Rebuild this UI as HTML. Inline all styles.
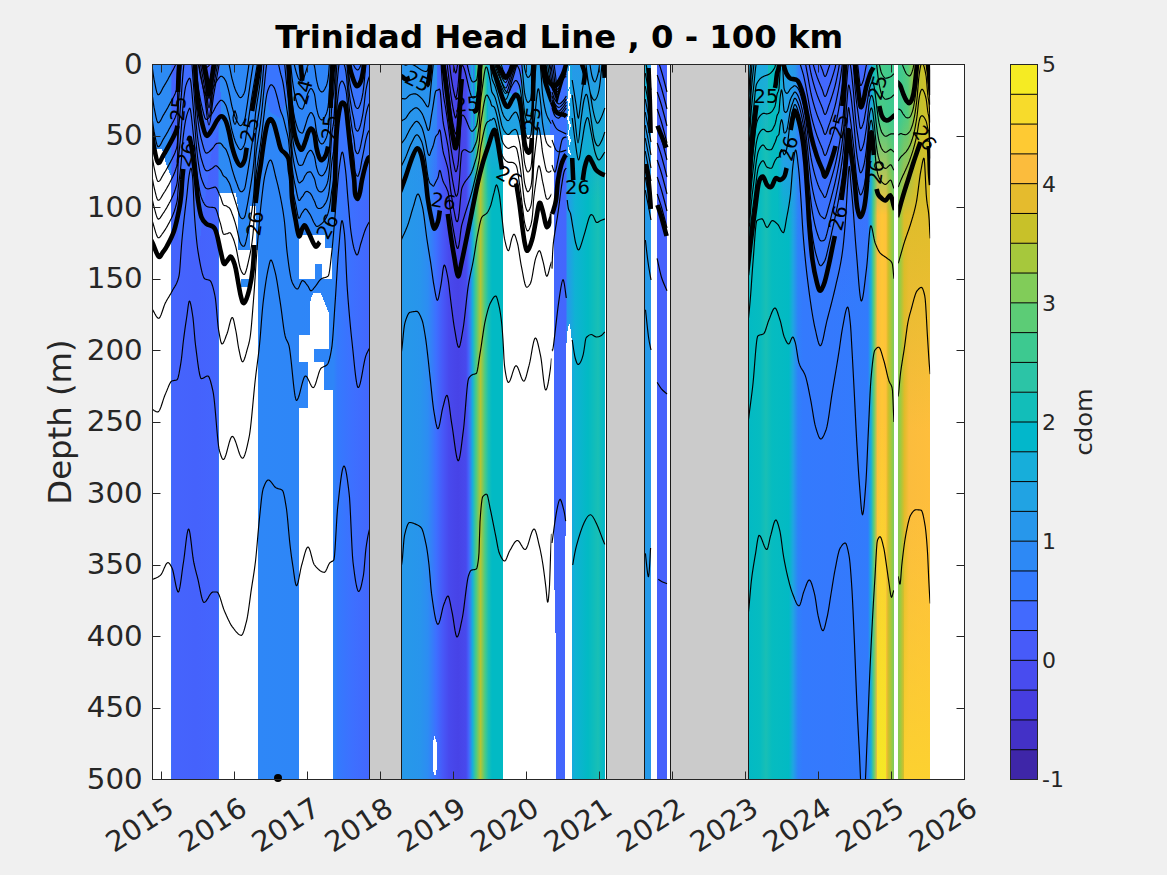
<!DOCTYPE html>
<html lang="en"><head><meta charset="utf-8"><title>Trinidad Head Line , 0 - 100 km</title>
<style>html,body{margin:0;padding:0;background:#f0f0f0;overflow:hidden}svg{display:block}text{font-family:"DejaVu Sans","Liberation Sans",sans-serif;fill:#262626}.tk{font-size:28.2px}.cb{font-size:21.33px}.ttl{font-size:31.4px;font-weight:bold;fill:#000}.lb{font-size:31.4px}.cl{font-size:23.47px}.ct{font-size:19.5px;fill:#000}</style></head><body>
<svg width="1167" height="875" viewBox="0 0 1167 875">
<rect x="0" y="0" width="1167" height="875" fill="#f0f0f0"/>
<rect x="152.5" y="64.5" width="812.0" height="715.0" fill="#fff"/>
<defs><linearGradient id="g1" gradientUnits="userSpaceOnUse" x1="152.5" y1="0" x2="369.5" y2="0"><stop offset="0.0000" stop-color="#2d8bf4"/><stop offset="0.0829" stop-color="#2d8bf4"/><stop offset="0.0899" stop-color="#4564fd"/><stop offset="0.2005" stop-color="#4562fc"/><stop offset="0.3018" stop-color="#4465fd"/><stop offset="0.3065" stop-color="#2d8bf4"/><stop offset="0.4862" stop-color="#2e87f7"/><stop offset="0.6705" stop-color="#2e86f7"/><stop offset="0.8341" stop-color="#2e85f8"/><stop offset="0.8525" stop-color="#347afd"/><stop offset="0.9194" stop-color="#3d70ff"/><stop offset="1.0000" stop-color="#4367fd"/></linearGradient><linearGradient id="g2" gradientUnits="userSpaceOnUse" x1="401" y1="0" x2="605" y2="0"><stop offset="0.0000" stop-color="#2699e9"/><stop offset="0.0931" stop-color="#2895ec"/><stop offset="0.1324" stop-color="#2d8cf3"/><stop offset="0.1716" stop-color="#3d70ff"/><stop offset="0.2059" stop-color="#4758f8"/><stop offset="0.2353" stop-color="#4849ed"/><stop offset="0.2794" stop-color="#4743e7"/><stop offset="0.3186" stop-color="#4849ed"/><stop offset="0.3333" stop-color="#4367fd"/><stop offset="0.3505" stop-color="#17aeda"/><stop offset="0.3676" stop-color="#48cb86"/><stop offset="0.3897" stop-color="#b4c533"/><stop offset="0.4118" stop-color="#48cb86"/><stop offset="0.4289" stop-color="#19bfb5"/><stop offset="0.4461" stop-color="#02bac4"/><stop offset="0.5000" stop-color="#02bac4"/><stop offset="0.7500" stop-color="#4367fd"/><stop offset="0.8088" stop-color="#4466fd"/><stop offset="0.8137" stop-color="#2797eb"/><stop offset="0.8529" stop-color="#0fb2d4"/><stop offset="0.9167" stop-color="#02bac4"/><stop offset="0.9657" stop-color="#19bfb5"/><stop offset="1.0000" stop-color="#02b7cb"/></linearGradient><linearGradient id="g3" gradientUnits="userSpaceOnUse" x1="0" y1="64.5" x2="0" y2="190"><stop offset="0" stop-color="#2994ed" stop-opacity="1.0"/><stop offset="1" stop-color="#2994ed" stop-opacity="0.0"/></linearGradient><linearGradient id="g4" gradientUnits="userSpaceOnUse" x1="486.5" y1="0" x2="554" y2="0"><stop offset="0.0000" stop-color="#0fb2d4"/><stop offset="0.0519" stop-color="#1fa5e2"/><stop offset="0.4963" stop-color="#23a1e5"/><stop offset="1.0000" stop-color="#2699e9"/></linearGradient><linearGradient id="m5g" gradientUnits="userSpaceOnUse" x1="0" y1="64.5" x2="0" y2="200"><stop offset="0" stop-color="#fff"/><stop offset="0.4" stop-color="#fff"/><stop offset="1" stop-color="#000"/></linearGradient><mask id="m5" maskUnits="userSpaceOnUse" x="470" y="60" width="90" height="145"><rect x="470" y="60" width="90" height="145" fill="url(#m5g)"/></mask><linearGradient id="g6" gradientUnits="userSpaceOnUse" x1="473" y1="0" x2="487.5" y2="0"><stop offset="0.0000" stop-color="#4367fd"/><stop offset="0.1724" stop-color="#06bcc0"/><stop offset="0.3448" stop-color="#81cc59"/><stop offset="0.5379" stop-color="#c8c129"/><stop offset="0.7241" stop-color="#71cd64"/><stop offset="0.8966" stop-color="#29c3aa"/><stop offset="1.0000" stop-color="#05b6ce"/></linearGradient><linearGradient id="g7" gradientUnits="userSpaceOnUse" x1="0" y1="64.5" x2="0" y2="200"><stop offset="0" stop-color="#2699e9" stop-opacity="1.0"/><stop offset="1" stop-color="#2699e9" stop-opacity="0.0"/></linearGradient><linearGradient id="g8" gradientUnits="userSpaceOnUse" x1="748" y1="0" x2="894" y2="0"><stop offset="0.0000" stop-color="#02bac4"/><stop offset="0.0822" stop-color="#06bcc0"/><stop offset="0.1233" stop-color="#19bfb5"/><stop offset="0.1644" stop-color="#06bcc0"/><stop offset="0.2808" stop-color="#02bac4"/><stop offset="0.3082" stop-color="#1fa5e2"/><stop offset="0.3425" stop-color="#2f81fa"/><stop offset="0.3767" stop-color="#347afd"/><stop offset="0.5616" stop-color="#3579fd"/><stop offset="0.8219" stop-color="#327bfc"/><stop offset="0.8425" stop-color="#17aeda"/><stop offset="0.8630" stop-color="#62cd70"/><stop offset="0.8870" stop-color="#fbbc3d"/><stop offset="0.9178" stop-color="#fec735"/><stop offset="0.9452" stop-color="#fec13a"/><stop offset="0.9589" stop-color="#d4be28"/><stop offset="0.9795" stop-color="#a6c83c"/><stop offset="1.0000" stop-color="#79cc5e"/></linearGradient><linearGradient id="g9" gradientUnits="userSpaceOnUse" x1="898" y1="0" x2="930" y2="0"><stop offset="0.0000" stop-color="#81cc59"/><stop offset="0.0938" stop-color="#a6c83c"/><stop offset="0.2031" stop-color="#e0bc2a"/><stop offset="0.3438" stop-color="#fbbc3d"/><stop offset="1.0000" stop-color="#febe3c"/></linearGradient><linearGradient id="g10" gradientUnits="userSpaceOnUse" x1="0" y1="420" x2="0" y2="779.5"><stop offset="0" stop-color="#f5e825" stop-opacity="0.0"/><stop offset="1" stop-color="#f5e825" stop-opacity="1.0"/></linearGradient><linearGradient id="g11" gradientUnits="userSpaceOnUse" x1="0" y1="500" x2="0" y2="779.5"><stop offset="0" stop-color="#fcd130" stop-opacity="0.0"/><stop offset="1" stop-color="#fcd130" stop-opacity="1.0"/></linearGradient><linearGradient id="g12" gradientUnits="userSpaceOnUse" x1="0" y1="180" x2="0" y2="430"><stop offset="0" stop-color="#dabd28" stop-opacity="1.0"/><stop offset="1" stop-color="#dabd28" stop-opacity="0.0"/></linearGradient><linearGradient id="g13" gradientUnits="userSpaceOnUse" x1="870" y1="0" x2="894" y2="0"><stop offset="0.0000" stop-color="#2797eb"/><stop offset="0.1667" stop-color="#12beb9"/><stop offset="0.4167" stop-color="#48cb86"/><stop offset="1.0000" stop-color="#3dc990"/></linearGradient><linearGradient id="m14g" gradientUnits="userSpaceOnUse" x1="0" y1="64.5" x2="0" y2="215"><stop offset="0" stop-color="#fff"/><stop offset="0.35" stop-color="#fff"/><stop offset="1" stop-color="#000"/></linearGradient><mask id="m14" maskUnits="userSpaceOnUse" x="860" y="60" width="80" height="170"><rect x="860" y="60" width="80" height="170" fill="url(#m14g)"/></mask><linearGradient id="g15" gradientUnits="userSpaceOnUse" x1="898" y1="0" x2="930" y2="0"><stop offset="0.0000" stop-color="#39c895"/><stop offset="0.3125" stop-color="#55cc7c"/><stop offset="0.5625" stop-color="#bbc42f"/><stop offset="1.0000" stop-color="#d4be28"/></linearGradient><linearGradient id="g16" gradientUnits="userSpaceOnUse" x1="0" y1="90" x2="0" y2="300"><stop offset="0" stop-color="#4368fe" stop-opacity="1.0"/><stop offset="1" stop-color="#4368fe" stop-opacity="0.0"/></linearGradient><linearGradient id="g17" gradientUnits="userSpaceOnUse" x1="0" y1="64.5" x2="0" y2="140"><stop offset="0" stop-color="#1ea8e0" stop-opacity="1.0"/><stop offset="1" stop-color="#1ea8e0" stop-opacity="0.0"/></linearGradient><linearGradient id="g18" gradientUnits="userSpaceOnUse" x1="778" y1="0" x2="806" y2="0"><stop offset="0.0000" stop-color="#02bac4"/><stop offset="0.1786" stop-color="#21a3e3"/><stop offset="0.6071" stop-color="#2797eb"/><stop offset="0.7857" stop-color="#3777fe"/><stop offset="1.0000" stop-color="#4368fe"/></linearGradient><linearGradient id="m19g" gradientUnits="userSpaceOnUse" x1="0" y1="64.5" x2="0" y2="240"><stop offset="0" stop-color="#fff"/><stop offset="0.55" stop-color="#fff"/><stop offset="1" stop-color="#000"/></linearGradient><mask id="m19" maskUnits="userSpaceOnUse" x="770" y="60" width="45" height="185"><rect x="770" y="60" width="45" height="185" fill="url(#m19g)"/></mask></defs><g shape-rendering="crispEdges"><rect x="152.5" y="64.5" width="217.0" height="715.0" fill="url(#g1)"/><polygon points="176.0,64.5 220.0,64.5 221.0,120.0 212.0,150.0 205.0,200.0 200.0,240.0 178.0,240.0 180.0,170.0 179.0,120.0" fill="#406dfe"/><polygon points="198.0,64.5 215.0,64.5 214.0,100.0 208.0,128.0 203.0,100.0" fill="#465efb"/><polygon points="262.0,64.5 288.0,64.5 287.0,100.0 280.0,118.0 270.0,112.0 264.0,90.0" fill="#3975fe"/><polygon points="333.0,64.5 369.5,64.5 369.5,200.0 333.0,200.0 331.0,140.0" fill="#3a74fe"/><polygon points="152.5,149.0 162.0,149.0 166.0,164.0 171.2,177.0 171.2,779.5 152.5,779.5" fill="#fff"/><polygon points="219.2,193.0 236.0,193.0 238.3,210.0 238.3,250.0 249.5,250.0 249.5,206.0 256.0,206.0 256.5,250.0 258.0,250.0 258.0,779.5 218.6,779.5 218.6,560.0 219.4,400.0" fill="#fff"/><rect x="240.8" y="278.8" width="7.7" height="8.6" fill="#2d8bf4"/><rect x="298.7" y="235.3" width="26.3" height="12.7" fill="#fff"/><rect x="298.7" y="248.0" width="33.3" height="30.8" fill="#fff"/><rect x="311.3" y="292.5" width="11.5" height="7.5" fill="#fff"/><rect x="310.0" y="300.0" width="18.5" height="35.0" fill="#fff"/><rect x="298.7" y="335.0" width="29.8" height="13.6" fill="#fff"/><rect x="298.7" y="348.6" width="14.9" height="13.4" fill="#fff"/><rect x="308.0" y="362.0" width="16.0" height="28.0" fill="#fff"/><rect x="308.0" y="390.0" width="24.5" height="18.0" fill="#fff"/><rect x="298.7" y="408.0" width="34.3" height="371.5" fill="#fff"/><rect x="314.7" y="264.0" width="6.9" height="14.8" fill="#2e86f7"/><polygon points="298.7,235.3 302.0,235.3 298.7,240.0" fill="#2e86f7"/><polygon points="311.3,292.5 313.5,292.5 310.0,300.0 310.0,306.0" fill="#2e86f7"/><polygon points="322.8,292.5 320.5,292.5 328.5,312.0 328.5,300.0 322.8,300.0" fill="#2e86f7"/><rect x="401.0" y="64.5" width="204.0" height="715.0" fill="url(#g2)"/><rect x="401.0" y="64.5" width="36.0" height="125.5" fill="url(#g3)"/><g mask="url(#m5)"><rect x="486.5" y="64.5" width="67.5" height="135.5" fill="url(#g4)"/><rect x="473.0" y="64.5" width="14.5" height="135.5" fill="url(#g6)"/></g><polygon points="503.0,64.5 522.0,64.5 521.0,85.0 514.0,96.0 506.0,90.0" fill="#426afe"/><rect x="572.0" y="64.5" width="33.0" height="135.5" fill="url(#g7)"/><polygon points="550.0,64.5 567.0,64.5 567.0,160.0 554.0,160.0 550.0,135.0" fill="#3d70ff"/><polygon points="503.2,135.4 554.0,135.4 554.0,779.5 503.2,779.5" fill="#fff"/><polygon points="566.3,345.0 567.6,330.0 569.3,323.0 571.4,333.0 572.0,360.0 572.0,779.5 565.0,779.5 565.0,600.0 566.2,450.0" fill="#fff"/><polygon points="568.2,72.0 569.6,66.0 570.2,80.0 569.4,88.0 571.0,96.0 569.2,104.0 570.6,112.0 568.8,118.0 571.0,126.0 568.6,133.0 571.2,141.0 568.4,147.0 571.4,156.0 567.6,152.0 569.4,143.0 567.4,136.0 569.2,127.0 567.2,119.0 568.6,110.0 567.4,100.0 568.6,90.0 567.6,80.0" fill="#fff"/><polygon points="553.8,560.0 555.7,640.0 555.7,779.5 553.8,779.5" fill="#fff"/><rect x="604.8" y="64.5" width="1.8" height="715.0" fill="#fff"/><polygon points="433.0,742.0 434.5,736.0 436.6,742.0 436.6,770.0 435.0,777.0 433.0,770.0" fill="#fff"/><rect x="645.2" y="64.5" width="5.8" height="715.0" fill="#2699e9"/><rect x="657.2" y="64.5" width="9.8" height="715.0" fill="#4661fc"/><rect x="645.2" y="64.5" width="2.8" height="35.5" fill="#0fb2d4"/><rect x="748.5" y="64.5" width="145.5" height="715.0" fill="url(#g8)"/><rect x="898.2" y="64.5" width="31.6" height="715.0" fill="url(#g9)"/><rect x="876.5" y="420.0" width="9.7" height="359.5" fill="url(#g10)"/><rect x="904.0" y="500.0" width="25.8" height="279.5" fill="url(#g11)"/><rect x="904.0" y="64.5" width="25.8" height="115.5" fill="#dabd28"/><rect x="904.0" y="180.0" width="25.8" height="250.0" fill="url(#g12)"/><g mask="url(#m14)"><rect x="870.0" y="64.5" width="24.0" height="150.5" fill="url(#g13)"/><rect x="898.2" y="64.5" width="31.6" height="150.5" fill="url(#g15)"/></g><rect x="806.0" y="64.5" width="62.0" height="25.5" fill="#4368fe"/><rect x="806.0" y="90.0" width="62.0" height="210.0" fill="url(#g16)"/><rect x="748.5" y="64.5" width="19.5" height="75.5" fill="url(#g17)"/><g mask="url(#m19)"><rect x="778.0" y="64.5" width="28.0" height="175.5" fill="url(#g18)"/></g></g><clipPath id="cs1"><rect x="152.5" y="64.5" width="217.0" height="715.0"/></clipPath><g clip-path="url(#cs1)"><path d="M152.5 158.1L153.0 161.3L153.5 164.4L154.0 167.1L154.5 169.3L155.0 171.7L155.5 174.0L156.0 176.1L156.5 178.1L157.0 179.7L157.5 180.8L158.0 181.5L158.5 181.5L159.0 181.3L159.5 180.9L160.0 180.3L160.5 179.6L161.0 178.7L161.5 177.8L162.0 176.9L162.5 176.0L163.0 175.1L163.5 174.2L164.0 173.4L164.5 172.6L165.0 171.8L165.5 171.0L166.0 170.1L166.5 169.3L167.0 168.4L167.5 167.5L168.0 166.6L168.5 165.7L169.0 164.7L169.5 163.8L170.0 162.9L170.5 161.9L171.0 160.9L171.5 160.0L172.0 159.1L172.5 158.1L173.0 157.1L173.5 156.1L174.0 155.1L174.5 153.9L175.0 152.7L175.5 151.3L176.0 149.9L176.5 148.5L177.0 146.7L177.5 142.1L178.0 116.6L178.5 103.3L179.0 95.9L179.5 89.1L180.0 81.6L180.5 74.1L181.0 67.4L181.5 60.9L182.0 54.5L182.5 54.5L183.0 54.5L183.5 54.5L184.0 54.5L184.5 54.5L185.0 54.5L185.5 54.5L186.0 54.5L186.5 54.5L187.0 54.5L187.5 54.5L188.0 54.5L188.5 54.5L189.0 54.5L189.5 54.5L190.0 54.5L190.5 54.5L191.0 54.5L191.5 54.5L192.0 54.5L192.5 54.5L193.0 54.5L193.5 60.2L194.0 67.5L194.5 74.9L195.0 83.0L195.5 92.7L196.0 101.8L196.5 107.8L197.0 112.8L197.5 117.1L198.0 120.9L198.5 124.4L199.0 127.6L199.5 130.6L200.0 133.3L200.5 135.8L201.0 138.1L201.5 140.0L202.0 141.9L202.5 143.8L203.0 145.7L203.5 147.5L204.0 149.1L204.5 150.5L205.0 151.7L205.5 152.5L206.0 153.0L206.5 153.1L207.0 153.0L207.5 152.9L208.0 152.6L208.5 152.3L209.0 151.9L209.5 151.5L210.0 151.0L210.5 150.5L211.0 150.0L211.5 149.5L212.0 149.0L212.5 148.5L213.0 147.8L213.5 147.2L214.0 146.5L214.5 145.7L215.0 145.0L215.5 144.4L216.0 143.9L216.5 143.6L217.0 143.4L217.5 143.3L218.0 143.2L218.5 143.1L219.0 143.1L219.5 143.1L220.0 143.1L220.5 143.3L221.0 143.6L221.5 144.1L222.0 144.7L222.5 145.4L223.0 146.1L223.5 146.8L224.0 147.3L224.5 147.8L225.0 148.3L225.5 148.9L226.0 149.6L226.5 150.6L227.0 151.8L227.5 153.1L228.0 154.5L228.5 155.9L229.0 157.3L229.5 158.9L230.0 160.8L230.5 162.8L231.0 164.9L231.5 166.9L232.0 168.8L232.5 170.6L233.0 172.2L233.5 173.8L234.0 175.4L234.5 177.0L235.0 178.5L235.5 180.0L236.0 181.3L236.5 182.6L237.0 183.9L237.5 185.3L238.0 186.7L238.5 188.0L239.0 189.2L239.5 190.2L240.0 191.0L240.5 191.5L241.0 191.7L241.5 191.8L242.0 191.6L242.5 191.4L243.0 190.9L243.5 190.4L244.0 189.6L244.5 188.7L245.0 187.4L245.5 185.0L246.0 182.1L246.5 179.1L247.0 176.2L247.5 173.3L248.0 170.2L248.5 167.1L249.0 163.9L249.5 160.7L250.0 157.5L250.5 154.2L251.0 150.9L251.5 147.6L252.0 144.4L252.5 141.1L253.0 137.7L253.5 134.0L254.0 129.9L254.5 125.3L255.0 119.2L255.5 113.6L256.0 109.8L256.5 106.4L257.0 103.1L257.5 100.0L258.0 96.9L258.5 93.7L259.0 90.6L259.5 87.2L260.0 83.4L260.5 78.9L261.0 73.9L261.5 68.5L262.0 63.1L262.5 57.3L263.0 54.5L263.5 54.5L264.0 54.5L264.5 54.5L265.0 54.5L265.5 54.5L266.0 54.5L266.5 54.5L267.0 54.5L267.5 54.5L268.0 54.5L268.5 54.5L269.0 54.5L269.5 54.5L270.0 54.5L270.5 54.5L271.0 54.5L271.5 54.5L272.0 54.5L272.5 54.5L273.0 54.5L273.5 54.5L274.0 54.5L274.5 54.5L275.0 54.5L275.5 54.5L276.0 54.5L276.5 54.5L277.0 54.5L277.5 54.5L278.0 54.5L278.5 54.5L279.0 54.5L279.5 54.5L280.0 54.5L280.5 54.5L281.0 54.5L281.5 54.5L282.0 54.5L282.5 54.5L283.0 54.5L283.5 54.5L284.0 54.5L284.5 54.5L285.0 54.5L285.5 54.5L286.0 54.5L286.5 59.0L287.0 64.7L287.5 70.3L288.0 76.3L288.5 83.3L289.0 93.4L289.5 102.3L290.0 109.6L290.5 115.7L291.0 121.2L291.5 126.9L292.0 132.9L292.5 137.3L293.0 141.0L293.5 144.2L294.0 147.1L294.5 149.7L295.0 151.9L295.5 153.9L296.0 155.9L296.5 157.9L297.0 159.8L297.5 161.6L298.0 163.1L298.5 164.3L299.0 165.0L299.5 165.3L300.0 165.4L300.5 165.4L301.0 165.3L301.5 165.2L302.0 165.1L302.5 164.8L303.0 164.1L303.5 163.1L304.0 161.8L304.5 160.5L305.0 159.1L305.5 158.0L306.0 156.8L306.5 155.6L307.0 154.4L307.5 153.3L308.0 152.6L308.5 152.0L309.0 151.4L309.5 150.9L310.0 150.5L310.5 150.3L311.0 150.4L311.5 150.8L312.0 151.4L312.5 152.2L313.0 153.2L313.5 154.2L314.0 155.4L314.5 156.6L315.0 158.8L315.5 161.9L316.0 164.9L316.5 167.3L317.0 169.1L317.5 170.7L318.0 172.1L318.5 173.3L319.0 174.1L319.5 174.7L320.0 175.1L320.5 175.5L321.0 175.8L321.5 175.9L322.0 175.8L322.5 175.6L323.0 175.2L323.5 174.7L324.0 174.0L324.5 173.2L325.0 172.4L325.5 171.4L326.0 170.5L326.5 169.3L327.0 167.8L327.5 165.9L328.0 163.6L328.5 160.3L329.0 155.3L329.5 148.8L330.0 141.2L330.5 132.7L331.0 121.0L331.5 110.7L332.0 104.2L332.5 100.1L333.0 97.3L333.5 94.2L334.0 88.8L334.5 81.5L335.0 73.3L335.5 63.9L336.0 56.0L336.5 54.5L337.0 54.5L337.5 54.5L338.0 54.5L338.5 54.5L339.0 54.5L339.5 54.5L340.0 54.5L340.5 54.5L341.0 54.5L341.5 54.5L342.0 54.5L342.5 54.5L343.0 54.5L343.5 54.5L344.0 54.5L344.5 54.5L345.0 54.5L345.5 54.5L346.0 54.5L346.5 54.5L347.0 54.5L347.5 54.9L348.0 61.2L348.5 68.1L349.0 75.2L349.5 80.2L350.0 83.5L350.5 86.3L351.0 88.7L351.5 91.0L352.0 93.3L352.5 95.5L353.0 97.4L353.5 99.2L354.0 101.0L354.5 103.2L355.0 105.5L355.5 106.5L356.0 107.3L356.5 107.9L357.0 108.3L357.5 108.5L358.0 108.4L358.5 107.9L359.0 107.1L359.5 106.0L360.0 104.8L360.5 103.3L361.0 101.7L361.5 99.9L362.0 97.7L362.5 95.2L363.0 92.4L363.5 88.7L364.0 84.1L364.5 78.9L365.0 73.5L365.5 68.5L366.0 64.8L366.5 62.0L367.0 59.3L367.5 56.7L368.0 54.5L368.5 54.5L369.0 54.5L369.5 54.5M152.5 179.2L153.0 181.9L153.5 184.6L154.0 186.9L154.5 189.0L155.0 191.1L155.5 193.2L156.0 195.2L156.5 197.0L157.0 198.5L157.5 199.6L158.0 200.2L158.5 200.3L159.0 200.1L159.5 199.7L160.0 199.2L160.5 198.5L161.0 197.7L161.5 196.9L162.0 196.0L162.5 195.1L163.0 194.3L163.5 193.5L164.0 192.7L164.5 192.0L165.0 191.2L165.5 190.4L166.0 189.5L166.5 188.7L167.0 187.8L167.5 186.9L168.0 186.0L168.5 185.1L169.0 184.2L169.5 183.2L170.0 182.3L170.5 181.3L171.0 180.3L171.5 179.3L172.0 178.3L172.5 177.3L173.0 176.3L173.5 175.2L174.0 174.1L174.5 172.8L175.0 171.5L175.5 170.0L176.0 168.4L176.5 166.9L177.0 165.0L177.5 161.0L178.0 141.3L178.5 130.6L179.0 124.4L179.5 118.7L180.0 112.3L180.5 105.8L181.0 99.8L181.5 93.5L182.0 86.0L182.5 79.4L183.0 73.4L183.5 68.2L184.0 63.4L184.5 59.3L185.0 55.9L185.5 54.5L186.0 54.5L186.5 54.5L187.0 54.5L187.5 54.5L188.0 54.5L188.5 54.5L189.0 54.5L189.5 54.5L190.0 54.5L190.5 54.5L191.0 54.5L191.5 58.2L192.0 64.5L192.5 71.5L193.0 78.7L193.5 85.5L194.0 91.8L194.5 98.4L195.0 105.4L195.5 113.7L196.0 121.6L196.5 127.3L197.0 132.4L197.5 136.8L198.0 140.7L198.5 144.1L199.0 147.3L199.5 150.3L200.0 153.0L200.5 155.4L201.0 157.5L201.5 159.3L202.0 161.0L202.5 162.7L203.0 164.3L203.5 165.8L204.0 167.2L204.5 168.4L205.0 169.4L205.5 170.1L206.0 170.6L206.5 170.8L207.0 170.9L207.5 170.8L208.0 170.7L208.5 170.5L209.0 170.3L209.5 170.0L210.0 169.7L210.5 169.4L211.0 169.1L211.5 168.8L212.0 168.5L212.5 168.1L213.0 167.7L213.5 167.3L214.0 166.8L214.5 166.4L215.0 166.0L215.5 165.8L216.0 165.7L216.5 165.9L217.0 166.2L217.5 166.7L218.0 167.2L218.5 167.7L219.0 168.3L219.5 168.9L220.0 169.5L220.5 170.1L221.0 170.9L221.5 172.0L222.0 173.1L222.5 174.2L223.0 175.2L223.5 175.9L224.0 176.3L224.5 176.6L225.0 177.0L225.5 177.3L226.0 177.7L226.5 178.3L227.0 179.1L227.5 179.9L228.0 180.8L228.5 181.6L229.0 182.5L229.5 183.5L230.0 184.8L230.5 186.2L231.0 187.8L231.5 189.5L232.0 191.2L232.5 192.7L233.0 194.1L233.5 195.6L234.0 197.2L234.5 198.8L235.0 200.4L235.5 201.9L236.0 203.5L236.5 205.0L237.0 206.8L237.5 208.5L238.0 210.4L238.5 212.1L239.0 213.8L239.5 215.3L240.0 216.5L240.5 217.4L241.0 217.9L241.5 218.3L242.0 218.6L242.5 218.7L243.0 218.6L243.5 218.3L244.0 217.9L244.5 217.2L245.0 216.1L245.5 214.2L246.0 211.7L246.5 209.1L247.0 206.6L247.5 204.0L248.0 201.3L248.5 198.4L249.0 195.6L249.5 192.7L250.0 189.7L250.5 186.7L251.0 183.6L251.5 180.4L252.0 177.1L252.5 173.6L253.0 169.9L253.5 165.5L254.0 160.2L254.5 153.9L255.0 144.6L255.5 136.4L256.0 131.8L256.5 128.0L257.0 124.5L257.5 121.4L258.0 118.2L258.5 114.9L259.0 111.7L259.5 108.5L260.0 104.8L260.5 100.7L261.0 96.1L261.5 91.2L262.0 86.2L262.5 80.8L263.0 75.1L263.5 69.1L264.0 63.0L264.5 56.9L265.0 54.5L265.5 54.5L266.0 54.5L266.5 54.5L267.0 54.5L267.5 54.5L268.0 54.5L268.5 54.5L269.0 54.5L269.5 54.5L270.0 54.5L270.5 54.5L271.0 54.5L271.5 54.5L272.0 54.5L272.5 54.5L273.0 54.5L273.5 54.5L274.0 54.5L274.5 54.5L275.0 54.5L275.5 54.5L276.0 54.5L276.5 54.5L277.0 54.5L277.5 54.5L278.0 54.5L278.5 54.5L279.0 54.5L279.5 54.5L280.0 54.5L280.5 54.5L281.0 54.5L281.5 54.5L282.0 54.5L282.5 54.5L283.0 54.5L283.5 54.5L284.0 57.4L284.5 62.4L285.0 67.7L285.5 73.0L286.0 78.1L286.5 83.0L287.0 87.4L287.5 91.8L288.0 96.6L288.5 102.2L289.0 110.5L289.5 118.4L290.0 125.0L290.5 130.4L291.0 135.4L291.5 141.5L292.0 148.9L292.5 153.7L293.0 157.4L293.5 160.7L294.0 163.5L294.5 166.0L295.0 168.3L295.5 170.4L296.0 172.5L296.5 174.7L297.0 177.0L297.5 179.0L298.0 180.7L298.5 182.0L299.0 182.8L299.5 182.9L300.0 182.7L300.5 182.3L301.0 181.9L301.5 181.4L302.0 181.1L302.5 180.7L303.0 180.0L303.5 179.0L304.0 177.9L304.5 176.8L305.0 175.8L305.5 175.0L306.0 174.3L306.5 173.5L307.0 172.9L307.5 172.4L308.0 172.2L308.5 172.1L309.0 171.9L309.5 171.8L310.0 171.8L310.5 171.9L311.0 172.3L311.5 173.0L312.0 173.8L312.5 174.7L313.0 175.7L313.5 176.7L314.0 177.8L314.5 178.9L315.0 180.7L315.5 183.0L316.0 185.2L316.5 187.0L317.0 188.2L317.5 189.3L318.0 190.2L318.5 190.9L319.0 191.3L319.5 191.6L320.0 191.7L320.5 191.9L321.0 191.9L321.5 191.9L322.0 191.7L322.5 191.4L323.0 190.9L323.5 190.4L324.0 189.7L324.5 189.0L325.0 188.1L325.5 187.3L326.0 186.3L326.5 185.2L327.0 183.9L327.5 182.2L328.0 180.2L328.5 177.4L329.0 173.4L329.5 168.2L330.0 162.1L330.5 155.3L331.0 146.1L331.5 137.9L332.0 132.5L332.5 128.9L333.0 126.2L333.5 123.1L334.0 117.3L334.5 109.2L335.0 100.0L335.5 87.7L336.0 78.4L336.5 70.1L337.0 62.8L337.5 56.3L338.0 54.5L338.5 54.5L339.0 54.5L339.5 54.5L340.0 54.5L340.5 54.5L341.0 54.5L341.5 54.5L342.0 54.5L342.5 54.5L343.0 54.5L343.5 54.5L344.0 54.5L344.5 54.5L345.0 54.5L345.5 54.5L346.0 54.7L346.5 59.5L347.0 65.3L347.5 71.4L348.0 77.3L348.5 83.7L349.0 90.3L349.5 95.2L350.0 98.9L350.5 102.1L351.0 105.1L351.5 108.0L352.0 110.8L352.5 113.4L353.0 115.7L353.5 117.9L354.0 120.3L354.5 123.6L355.0 127.4L355.5 128.6L356.0 129.6L356.5 130.4L357.0 130.9L357.5 131.1L358.0 131.0L358.5 130.3L359.0 129.3L359.5 128.0L360.0 126.6L360.5 124.9L361.0 122.9L361.5 120.6L362.0 118.3L362.5 115.8L363.0 113.1L363.5 109.8L364.0 105.9L364.5 101.5L365.0 96.9L365.5 92.8L366.0 89.5L366.5 87.0L367.0 84.6L367.5 82.4L368.0 80.5L368.5 78.8L369.0 77.4L369.5 76.3M152.5 200.4L153.0 202.6L153.5 204.8L154.0 206.8L154.5 208.7L155.0 210.6L155.5 212.5L156.0 214.3L156.5 215.9L157.0 217.3L157.5 218.3L158.0 218.9L158.5 219.1L159.0 218.9L159.5 218.6L160.0 218.1L160.5 217.4L161.0 216.7L161.5 215.9L162.0 215.1L162.5 214.3L163.0 213.5L163.5 212.8L164.0 212.1L164.5 211.3L165.0 210.5L165.5 209.7L166.0 208.9L166.5 208.1L167.0 207.2L167.5 206.3L168.0 205.4L168.5 204.5L169.0 203.6L169.5 202.6L170.0 201.7L170.5 200.7L171.0 199.7L171.5 198.7L172.0 197.6L172.5 196.6L173.0 195.4L173.5 194.3L174.0 193.0L174.5 191.7L175.0 190.3L175.5 188.7L176.0 187.0L176.5 185.3L177.0 183.3L177.5 179.8L178.0 165.9L178.5 157.9L179.0 153.0L179.5 148.2L180.0 143.0L180.5 137.5L181.0 132.1L181.5 126.0L182.0 118.3L182.5 111.8L183.0 106.1L183.5 101.3L184.0 97.0L184.5 93.1L185.0 89.8L185.5 87.1L186.0 85.1L186.5 83.7L187.0 82.3L187.5 81.2L188.0 80.2L188.5 79.4L189.0 78.7L189.5 78.2L190.0 78.5L190.5 80.1L191.0 83.2L191.5 87.8L192.0 93.1L192.5 98.9L193.0 104.9L193.5 110.7L194.0 116.2L194.5 121.8L195.0 127.8L195.5 134.7L196.0 141.3L196.5 146.8L197.0 151.9L197.5 156.5L198.0 160.4L198.5 163.8L199.0 167.0L199.5 170.0L200.0 172.6L200.5 175.0L201.0 177.0L201.5 178.6L202.0 180.1L202.5 181.5L203.0 182.8L203.5 184.1L204.0 185.2L204.5 186.3L205.0 187.1L205.5 187.8L206.0 188.2L206.5 188.5L207.0 188.7L207.5 188.8L208.0 188.8L208.5 188.8L209.0 188.7L209.5 188.6L210.0 188.5L210.5 188.3L211.0 188.2L211.5 188.0L212.0 187.9L212.5 187.8L213.0 187.6L213.5 187.4L214.0 187.2L214.5 187.1L215.0 187.0L215.5 187.1L216.0 187.5L216.5 188.1L217.0 189.0L217.5 190.0L218.0 191.1L218.5 192.3L219.0 193.5L219.5 194.7L220.0 195.8L220.5 196.9L221.0 198.3L221.5 199.9L222.0 201.5L222.5 203.0L223.0 204.2L223.5 205.0L224.0 205.3L224.5 205.5L225.0 205.6L225.5 205.7L226.0 205.8L226.5 206.0L227.0 206.4L227.5 206.8L228.0 207.1L228.5 207.3L229.0 207.6L229.5 208.1L230.0 208.8L230.5 209.7L231.0 210.8L231.5 212.1L232.0 213.5L232.5 214.8L233.0 216.1L233.5 217.5L234.0 219.0L234.5 220.6L235.0 222.2L235.5 223.9L236.0 225.6L236.5 227.5L237.0 229.6L237.5 231.8L238.0 234.1L238.5 236.3L239.0 238.4L239.5 240.4L240.0 242.0L240.5 243.3L241.0 244.1L241.5 244.9L242.0 245.5L242.5 245.9L243.0 246.2L243.5 246.3L244.0 246.2L244.5 245.8L245.0 244.9L245.5 243.3L246.0 241.4L246.5 239.2L247.0 237.0L247.5 234.7L248.0 232.3L248.5 229.8L249.0 227.2L249.5 224.6L250.0 222.0L250.5 219.2L251.0 216.3L251.5 213.2L252.0 209.8L252.5 206.2L253.0 202.1L253.5 196.9L254.0 190.5L254.5 182.5L255.0 170.1L255.5 159.2L256.0 153.8L256.5 149.5L257.0 145.9L257.5 142.7L258.0 139.5L258.5 136.1L259.0 132.9L259.5 129.7L260.0 126.3L260.5 122.5L261.0 118.3L261.5 113.9L262.0 109.3L262.5 104.4L263.0 99.3L263.5 94.1L264.0 89.0L264.5 83.9L265.0 78.8L265.5 73.9L266.0 69.4L266.5 65.3L267.0 62.0L267.5 59.5L268.0 57.5L268.5 55.9L269.0 54.5L269.5 54.5L270.0 54.5L270.5 54.5L271.0 54.5L271.5 54.5L272.0 54.5L272.5 54.5L273.0 54.5L273.5 54.5L274.0 54.5L274.5 54.5L275.0 54.5L275.5 54.5L276.0 54.8L276.5 56.4L277.0 58.2L277.5 60.0L278.0 61.9L278.5 64.1L279.0 66.4L279.5 68.7L280.0 70.9L280.5 73.0L281.0 74.9L281.5 76.6L282.0 78.3L282.5 80.3L283.0 82.8L283.5 85.7L284.0 89.0L284.5 92.5L285.0 96.2L285.5 99.9L286.0 103.5L286.5 106.9L287.0 110.1L287.5 113.3L288.0 116.8L288.5 121.0L289.0 127.7L289.5 134.6L290.0 140.4L290.5 145.0L291.0 149.6L291.5 156.1L292.0 165.0L292.5 170.1L293.0 173.9L293.5 177.1L294.0 179.9L294.5 182.4L295.0 184.6L295.5 186.8L296.0 189.1L296.5 191.6L297.0 194.1L297.5 196.4L298.0 198.4L298.5 199.8L299.0 200.5L299.5 200.5L300.0 200.0L300.5 199.2L301.0 198.4L301.5 197.6L302.0 197.0L302.5 196.5L303.0 195.8L303.5 194.9L304.0 194.0L304.5 193.2L305.0 192.4L305.5 191.9L306.0 191.7L306.5 191.5L307.0 191.4L307.5 191.5L308.0 191.8L308.5 192.1L309.0 192.4L309.5 192.7L310.0 193.0L310.5 193.6L311.0 194.3L311.5 195.1L312.0 196.1L312.5 197.1L313.0 198.2L313.5 199.2L314.0 200.3L314.5 201.2L315.0 202.5L315.5 204.1L316.0 205.6L316.5 206.6L317.0 207.3L317.5 207.8L318.0 208.2L318.5 208.5L319.0 208.5L319.5 208.5L320.0 208.4L320.5 208.2L321.0 208.1L321.5 207.9L322.0 207.5L322.5 207.1L323.0 206.6L323.5 206.1L324.0 205.4L324.5 204.7L325.0 203.9L325.5 203.1L326.0 202.2L326.5 201.2L327.0 200.0L327.5 198.5L328.0 196.8L328.5 194.6L329.0 191.4L329.5 187.5L330.0 182.9L330.5 177.9L331.0 171.2L331.5 165.1L332.0 160.8L332.5 157.7L333.0 155.1L333.5 151.9L334.0 145.7L334.5 137.0L335.0 126.7L335.5 111.6L336.0 100.9L336.5 92.0L337.0 84.7L337.5 78.6L338.0 73.1L338.5 68.4L339.0 64.6L339.5 61.9L340.0 60.4L340.5 59.6L341.0 59.2L341.5 59.0L342.0 59.3L342.5 59.9L343.0 61.0L343.5 62.3L344.0 63.8L344.5 65.5L345.0 67.4L345.5 69.7L346.0 72.6L346.5 76.8L347.0 82.1L347.5 87.9L348.0 93.5L348.5 99.3L349.0 105.3L349.5 110.2L350.0 114.3L350.5 118.0L351.0 121.6L351.5 125.0L352.0 128.3L352.5 131.3L353.0 134.0L353.5 136.6L354.0 139.5L354.5 143.9L355.0 149.2L355.5 150.8L356.0 151.9L356.5 152.8L357.0 153.4L357.5 153.7L358.0 153.5L358.5 152.8L359.0 151.5L359.5 150.0L360.0 148.4L360.5 146.4L361.0 144.0L361.5 141.4L362.0 138.8L362.5 136.4L363.0 133.8L363.5 130.9L364.0 127.6L364.5 124.0L365.0 120.4L365.5 117.0L366.0 114.3L366.5 112.1L367.0 110.0L367.5 108.1L368.0 106.5L368.5 105.2L369.0 104.0L369.5 103.3M152.5 221.6L153.0 223.2L153.5 225.0L154.0 226.7L154.5 228.4L155.0 230.1L155.5 231.8L156.0 233.4L156.5 234.8L157.0 236.1L157.5 237.0L158.0 237.6L158.5 237.8L159.0 237.7L159.5 237.4L160.0 237.0L160.5 236.4L161.0 235.7L161.5 235.0L162.0 234.2L162.5 233.5L163.0 232.8L163.5 232.1L164.0 231.4L164.5 230.6L165.0 229.9L165.5 229.1L166.0 228.3L166.5 227.5L167.0 226.6L167.5 225.7L168.0 224.8L168.5 223.9L169.0 223.0L169.5 222.1L170.0 221.1L170.5 220.1L171.0 219.1L171.5 218.0L172.0 216.9L172.5 215.8L173.0 214.6L173.5 213.3L174.0 212.0L174.5 210.6L175.0 209.0L175.5 207.4L176.0 205.5L176.5 203.6L177.0 201.6L177.5 198.7L178.0 190.5L178.5 185.3L179.0 181.5L179.5 177.7L180.0 173.7L180.5 169.3L181.0 164.5L181.5 158.5L182.0 150.5L182.5 144.2L183.0 138.8L183.5 134.4L184.0 130.5L184.5 126.9L185.0 123.7L185.5 120.9L186.0 118.5L186.5 116.5L187.0 114.7L187.5 113.1L188.0 111.6L188.5 110.4L189.0 109.2L189.5 108.2L190.0 108.3L190.5 110.1L191.0 113.3L191.5 117.4L192.0 121.7L192.5 126.3L193.0 131.1L193.5 135.9L194.0 140.6L194.5 145.3L195.0 150.2L195.5 155.7L196.0 161.1L196.5 166.3L197.0 171.5L197.5 176.3L198.0 180.2L198.5 183.6L199.0 186.7L199.5 189.7L200.0 192.3L200.5 194.6L201.0 196.5L201.5 197.9L202.0 199.2L202.5 200.3L203.0 201.4L203.5 202.4L204.0 203.3L204.5 204.1L205.0 204.8L205.5 205.4L206.0 205.9L206.5 206.2L207.0 206.5L207.5 206.7L208.0 206.9L208.5 207.0L209.0 207.1L209.5 207.2L210.0 207.2L210.5 207.2L211.0 207.2L211.5 207.3L212.0 207.3L212.5 207.4L213.0 207.5L213.5 207.5L214.0 207.6L214.5 207.8L215.0 208.0L215.5 208.5L216.0 209.3L216.5 210.4L217.0 211.8L217.5 213.4L218.0 215.1L218.5 216.9L219.0 218.7L219.5 220.5L220.0 222.1L220.5 223.7L221.0 225.6L221.5 227.7L222.0 229.9L222.5 231.8L223.0 233.3L223.5 234.2L224.0 234.3L224.5 234.3L225.0 234.2L225.5 234.1L226.0 233.9L226.5 233.8L227.0 233.7L227.5 233.6L228.0 233.4L228.5 233.1L229.0 232.8L229.5 232.7L230.0 232.8L230.5 233.1L231.0 233.8L231.5 234.7L232.0 235.8L232.5 236.9L233.0 238.0L233.5 239.3L234.0 240.7L234.5 242.4L235.0 244.1L235.5 245.9L236.0 247.7L236.5 249.9L237.0 252.4L237.5 255.0L238.0 257.7L238.5 260.5L239.0 263.1L239.5 265.4L240.0 267.5L240.5 269.2L241.0 270.3L241.5 271.4L242.0 272.4L242.5 273.2L243.0 273.9L243.5 274.3L244.0 274.5L244.5 274.3L245.0 273.6L245.5 272.5L246.0 271.0L246.5 269.3L247.0 267.5L247.5 265.5L248.0 263.3L248.5 261.1L249.0 258.9L249.5 256.6L250.0 254.3L250.5 251.8L251.0 249.0L251.5 245.9L252.0 242.5L252.5 238.7L253.0 234.3L253.5 228.4L254.0 220.8L254.5 211.1L255.0 195.5L255.5 182.0L256.0 175.8L256.5 171.1L257.0 167.3L257.5 164.0L258.0 160.8L258.5 157.3L259.0 154.1L259.5 150.9L260.0 147.7L260.5 144.3L261.0 140.6L261.5 136.6L262.0 132.3L262.5 128.0L263.0 123.5L263.5 119.2L264.0 115.1L264.5 110.9L265.0 106.8L265.5 102.8L266.0 99.2L266.5 96.0L267.0 93.5L267.5 91.6L268.0 90.0L268.5 88.7L269.0 87.5L269.5 86.4L270.0 85.6L270.5 85.1L271.0 84.8L271.5 84.8L272.0 85.0L272.5 85.4L273.0 86.0L273.5 86.7L274.0 87.4L274.5 88.3L275.0 89.6L275.5 91.1L276.0 92.8L276.5 94.6L277.0 96.5L277.5 98.4L278.0 100.3L278.5 102.5L279.0 104.7L279.5 106.8L280.0 108.9L280.5 110.6L281.0 112.1L281.5 113.3L282.0 114.4L282.5 115.6L283.0 117.1L283.5 118.7L284.0 120.6L284.5 122.6L285.0 124.7L285.5 126.8L286.0 128.9L286.5 130.9L287.0 132.8L287.5 134.8L288.0 137.1L288.5 139.9L289.0 144.8L289.5 150.8L290.0 155.8L290.5 159.7L291.0 163.8L291.5 170.7L292.0 181.0L292.5 186.5L293.0 190.4L293.5 193.6L294.0 196.3L294.5 198.7L295.0 200.9L295.5 203.2L296.0 205.7L296.5 208.4L297.0 211.2L297.5 213.9L298.0 216.1L298.5 217.6L299.0 218.3L299.5 218.0L300.0 217.2L300.5 216.1L301.0 214.9L301.5 213.8L302.0 213.0L302.5 212.4L303.0 211.6L303.5 210.9L304.0 210.1L304.5 209.5L305.0 209.1L305.5 208.9L306.0 209.1L306.5 209.4L307.0 209.9L307.5 210.6L308.0 211.4L308.5 212.2L309.0 212.9L309.5 213.6L310.0 214.3L310.5 215.2L311.0 216.2L311.5 217.3L312.0 218.4L312.5 219.6L313.0 220.7L313.5 221.8L314.0 222.7L314.5 223.5L315.0 224.4L315.5 225.2L316.0 225.9L316.5 226.2L317.0 226.4L317.5 226.4L318.0 226.3L318.5 226.0L319.0 225.7L319.5 225.4L320.0 225.0L320.5 224.6L321.0 224.2L321.5 223.8L322.0 223.4L322.5 222.9L323.0 222.3L323.5 221.8L324.0 221.1L324.5 220.4L325.0 219.7L325.5 218.9L326.0 218.0L326.5 217.1L327.0 216.0L327.5 214.8L328.0 213.4L328.5 211.7L329.0 209.5L329.5 206.8L330.0 203.8L330.5 200.5L331.0 196.3L331.5 192.3L332.0 189.1L332.5 186.5L333.0 184.1L333.5 180.8L334.0 174.2L334.5 164.7L335.0 153.3L335.5 135.5L336.0 123.4L336.5 113.8L337.0 106.6L337.5 100.9L338.0 95.9L338.5 91.6L339.0 88.1L339.5 85.5L340.0 83.9L340.5 82.7L341.0 81.8L341.5 81.2L342.0 81.0L342.5 81.2L343.0 81.8L343.5 82.7L344.0 83.8L344.5 85.0L345.0 86.5L345.5 88.3L346.0 90.5L346.5 94.0L347.0 98.9L347.5 104.4L348.0 109.6L348.5 114.9L349.0 120.3L349.5 125.2L350.0 129.6L350.5 133.9L351.0 138.0L351.5 142.0L352.0 145.9L352.5 149.3L353.0 152.2L353.5 155.2L354.0 158.8L354.5 164.3L355.0 171.1L355.5 173.0L356.0 174.3L356.5 175.3L357.0 175.9L357.5 176.2L358.0 176.1L358.5 175.2L359.0 173.8L359.5 172.0L360.0 170.2L360.5 167.9L361.0 165.1L361.5 162.1L362.0 159.4L362.5 157.0L363.0 154.5L363.5 152.0L364.0 149.3L364.5 146.6L365.0 143.9L365.5 141.3L366.0 139.1L366.5 137.1L367.0 135.3L367.5 133.8L368.0 132.5L368.5 131.5L369.0 130.7L369.5 130.2M152.5 120.9L153.0 124.6L153.5 128.2L154.0 131.2L154.5 133.7L155.0 136.2L155.5 138.7L156.0 141.1L156.5 143.1L157.0 144.9L157.5 146.1L158.0 146.7L158.5 146.8L159.0 146.5L159.5 146.0L160.0 145.4L160.5 144.6L161.0 143.7L161.5 142.8L162.0 141.8L162.5 140.8L163.0 139.8L163.5 138.9L164.0 138.1L164.5 137.3L165.0 136.4L165.5 135.6L166.0 134.7L166.5 133.9L167.0 133.0L167.5 132.1L168.0 131.2L168.5 130.2L169.0 129.3L169.5 128.4L170.0 127.4L170.5 126.5L171.0 125.6L171.5 124.7L172.0 123.8L172.5 122.9L173.0 122.0L173.5 121.1L174.0 120.1L174.5 119.0L175.0 117.9L175.5 116.7L176.0 115.3L176.5 114.1L177.0 112.4L177.5 107.3L178.0 76.0L178.5 59.9L179.0 54.5L179.5 54.5L180.0 54.5L180.5 54.5L181.0 54.5L181.5 54.5L182.0 54.5L182.5 54.5L183.0 54.5L183.5 54.5L184.0 54.5L184.5 54.5L185.0 54.5L185.5 54.5L186.0 54.5L186.5 54.5L187.0 54.5L187.5 54.5L188.0 54.5L188.5 54.5L189.0 54.5L189.5 54.5L190.0 54.5L190.5 54.5L191.0 54.5L191.5 54.5L192.0 54.5L192.5 54.5L193.0 54.5L193.5 54.5L194.0 54.5L194.5 54.5L195.0 54.5L195.5 55.7L196.0 66.0L196.5 72.3L197.0 77.2L197.5 81.4L198.0 85.1L198.5 88.6L199.0 91.9L199.5 94.9L200.0 97.7L200.5 100.3L201.0 102.6L201.5 104.7L202.0 106.8L202.5 109.0L203.0 111.1L203.5 113.2L204.0 115.0L204.5 116.7L205.0 118.0L205.5 118.9L206.0 119.4L206.5 119.4L207.0 119.2L207.5 118.9L208.0 118.5L208.5 118.1L209.0 117.5L209.5 116.9L210.0 116.3L210.5 115.6L211.0 114.9L211.5 114.3L212.0 113.6L212.5 112.8L213.0 112.0L213.5 111.0L214.0 110.1L214.5 109.0L215.0 108.0L215.5 107.1L216.0 106.1L216.5 105.3L217.0 104.6L217.5 103.9L218.0 103.2L218.5 102.6L219.0 101.9L219.5 101.3L220.0 100.8L220.5 100.4L221.0 100.2L221.5 100.2L222.0 100.4L222.5 100.7L223.0 101.1L223.5 101.6L224.0 102.2L224.5 102.9L225.0 103.7L225.5 104.5L226.0 105.5L226.5 106.9L227.0 108.5L227.5 110.3L228.0 112.2L228.5 114.1L229.0 116.1L229.5 118.3L230.0 120.7L230.5 123.3L231.0 125.9L231.5 128.3L232.0 130.5L232.5 132.4L233.0 134.2L233.5 136.0L234.0 137.7L234.5 139.2L235.0 140.7L235.5 142.0L236.0 143.2L236.5 144.2L237.0 145.1L237.5 146.1L238.0 147.0L238.5 147.8L239.0 148.6L239.5 149.1L240.0 149.5L240.5 149.6L241.0 149.5L241.5 149.2L242.0 148.7L242.5 148.1L243.0 147.3L243.5 146.4L244.0 145.4L244.5 144.2L245.0 142.6L245.5 139.8L246.0 136.5L246.5 133.0L247.0 129.8L247.5 126.5L248.0 123.2L248.5 119.7L249.0 116.2L249.5 112.7L250.0 109.2L250.5 105.7L251.0 102.2L251.5 98.9L252.0 95.6L252.5 92.5L253.0 89.5L253.5 86.5L254.0 83.6L254.5 80.7L255.0 77.8L255.5 74.8L256.0 71.8L256.5 68.8L257.0 65.8L257.5 62.7L258.0 59.6L258.5 56.5L259.0 54.5L259.5 54.5L260.0 54.5L260.5 54.5L261.0 54.5L261.5 54.5L262.0 54.5L262.5 54.5L263.0 54.5L263.5 54.5L264.0 54.5L264.5 54.5L265.0 54.5L265.5 54.5L266.0 54.5L266.5 54.5L267.0 54.5L267.5 54.5L268.0 54.5L268.5 54.5L269.0 54.5L269.5 54.5L270.0 54.5L270.5 54.5L271.0 54.5L271.5 54.5L272.0 54.5L272.5 54.5L273.0 54.5L273.5 54.5L274.0 54.5L274.5 54.5L275.0 54.5L275.5 54.5L276.0 54.5L276.5 54.5L277.0 54.5L277.5 54.5L278.0 54.5L278.5 54.5L279.0 54.5L279.5 54.5L280.0 54.5L280.5 54.5L281.0 54.5L281.5 54.5L282.0 54.5L282.5 54.5L283.0 54.5L283.5 54.5L284.0 54.5L284.5 54.5L285.0 54.5L285.5 54.5L286.0 54.5L286.5 54.5L287.0 54.5L287.5 54.5L288.0 54.5L288.5 54.5L289.0 60.2L289.5 70.1L290.0 78.3L290.5 85.1L291.0 91.0L291.5 96.2L292.0 100.9L292.5 105.0L293.0 108.5L293.5 111.8L294.0 114.7L294.5 117.3L295.0 119.6L295.5 121.5L296.0 123.3L296.5 125.1L297.0 126.7L297.5 128.2L298.0 129.4L298.5 130.5L299.0 131.3L299.5 131.8L300.0 132.2L300.5 132.5L301.0 132.8L301.5 133.0L302.0 133.1L302.5 133.0L303.0 132.3L303.5 131.2L304.0 129.7L304.5 128.1L305.0 126.5L305.5 125.0L306.0 123.4L306.5 121.7L307.0 119.9L307.5 118.3L308.0 117.0L308.5 115.9L309.0 114.9L309.5 114.0L310.0 113.2L310.5 112.7L311.0 112.5L311.5 112.7L312.0 113.1L312.5 113.8L313.0 114.7L313.5 115.7L314.0 116.9L314.5 118.3L315.0 121.0L315.5 124.7L316.0 128.6L316.5 131.7L317.0 134.0L317.5 136.2L318.0 138.1L318.5 139.7L319.0 140.9L319.5 141.8L320.0 142.5L320.5 143.1L321.0 143.6L321.5 143.9L322.0 144.0L322.5 143.8L323.0 143.5L323.5 143.0L324.0 142.3L324.5 141.5L325.0 140.6L325.5 139.6L326.0 138.6L326.5 137.4L327.0 135.7L327.5 133.6L328.0 131.0L328.5 127.2L329.0 121.2L329.5 113.5L330.0 104.3L330.5 94.1L331.0 79.9L331.5 67.5L332.0 59.9L332.5 55.3L333.0 54.5L333.5 54.5L334.0 54.5L334.5 54.5L335.0 54.5L335.5 54.5L336.0 54.5L336.5 54.5L337.0 54.5L337.5 54.5L338.0 54.5L338.5 54.5L339.0 54.5L339.5 54.5L340.0 54.5L340.5 54.5L341.0 54.5L341.5 54.5L342.0 54.5L342.5 54.5L343.0 54.5L343.5 54.5L344.0 54.5L344.5 54.5L345.0 54.5L345.5 54.5L346.0 54.5L346.5 54.5L347.0 54.5L347.5 54.5L348.0 54.5L348.5 54.5L349.0 54.5L349.5 54.5L350.0 54.5L350.5 54.5L351.0 56.3L351.5 58.1L352.0 59.8L352.5 61.5L353.0 63.1L353.5 64.6L354.0 65.8L354.5 66.8L355.0 67.6L355.5 68.3L356.0 68.9L356.5 69.4L357.0 69.8L357.5 70.0L358.0 69.9L358.5 69.5L359.0 68.8L359.5 68.0L360.0 66.9L360.5 65.8L361.0 64.6L361.5 63.1L362.0 61.1L362.5 58.6L363.0 55.6L363.5 54.5L364.0 54.5L364.5 54.5L365.0 54.5L365.5 54.5L366.0 54.5L366.5 54.5L367.0 54.5L367.5 54.5L368.0 54.5L368.5 54.5L369.0 54.5L369.5 54.5M152.5 96.9L153.0 100.6L153.5 104.2L154.0 107.2L154.5 109.7L155.0 112.2L155.5 114.7L156.0 117.1L156.5 119.1L157.0 120.9L157.5 122.1L158.0 122.7L158.5 122.8L159.0 122.5L159.5 122.0L160.0 121.4L160.5 120.6L161.0 119.7L161.5 118.8L162.0 117.8L162.5 116.8L163.0 115.8L163.5 114.9L164.0 114.1L164.5 113.3L165.0 112.4L165.5 111.6L166.0 110.7L166.5 109.9L167.0 109.0L167.5 108.1L168.0 107.2L168.5 106.2L169.0 105.3L169.5 104.4L170.0 103.4L170.5 102.5L171.0 101.6L171.5 100.7L172.0 99.8L172.5 98.9L173.0 98.0L173.5 97.1L174.0 96.1L174.5 95.0L175.0 93.9L175.5 92.7L176.0 91.3L176.5 90.1L177.0 88.4L177.5 83.3L178.0 54.5L178.5 54.5L179.0 54.5L179.5 54.5L180.0 54.5L180.5 54.5L181.0 54.5L181.5 54.5L182.0 54.5L182.5 54.5L183.0 54.5L183.5 54.5L184.0 54.5L184.5 54.5L185.0 54.5L185.5 54.5L186.0 54.5L186.5 54.5L187.0 54.5L187.5 54.5L188.0 54.5L188.5 54.5L189.0 54.5L189.5 54.5L190.0 54.5L190.5 54.5L191.0 54.5L191.5 54.5L192.0 54.5L192.5 54.5L193.0 54.5L193.5 54.5L194.0 54.5L194.5 54.5L195.0 54.5L195.5 54.5L196.0 54.5L196.5 54.5L197.0 54.5L197.5 57.4L198.0 61.1L198.5 64.6L199.0 67.9L199.5 70.9L200.0 73.7L200.5 76.3L201.0 78.6L201.5 80.7L202.0 82.8L202.5 85.0L203.0 87.1L203.5 89.2L204.0 91.0L204.5 92.7L205.0 94.0L205.5 94.9L206.0 95.4L206.5 95.4L207.0 95.2L207.5 94.9L208.0 94.5L208.5 94.1L209.0 93.5L209.5 92.9L210.0 92.3L210.5 91.6L211.0 90.9L211.5 90.3L212.0 89.6L212.5 88.8L213.0 88.0L213.5 87.0L214.0 86.1L214.5 85.0L215.0 84.0L215.5 83.1L216.0 82.1L216.5 81.3L217.0 80.6L217.5 79.9L218.0 79.2L218.5 78.6L219.0 77.9L219.5 77.3L220.0 76.8L220.5 76.4L221.0 76.2L221.5 76.2L222.0 76.4L222.5 76.7L223.0 77.1L223.5 77.6L224.0 78.2L224.5 78.9L225.0 79.7L225.5 80.5L226.0 81.5L226.5 82.9L227.0 84.5L227.5 86.3L228.0 88.2L228.5 90.1L229.0 92.1L229.5 94.3L230.0 96.7L230.5 99.3L231.0 101.9L231.5 104.3L232.0 106.5L232.5 108.4L233.0 110.2L233.5 112.0L234.0 113.7L234.5 115.2L235.0 116.7L235.5 118.0L236.0 119.2L236.5 120.2L237.0 121.1L237.5 122.1L238.0 123.0L238.5 123.8L239.0 124.6L239.5 125.1L240.0 125.5L240.5 125.6L241.0 125.5L241.5 125.2L242.0 124.7L242.5 124.1L243.0 123.3L243.5 122.4L244.0 121.4L244.5 120.2L245.0 118.6L245.5 115.8L246.0 112.5L246.5 109.0L247.0 105.8L247.5 102.5L248.0 99.2L248.5 95.7L249.0 92.2L249.5 88.7L250.0 85.2L250.5 81.7L251.0 78.2L251.5 74.9L252.0 71.6L252.5 68.5L253.0 65.5L253.5 62.5L254.0 59.6L254.5 56.7L255.0 54.5L255.5 54.5L256.0 54.5L256.5 54.5L257.0 54.5L257.5 54.5L258.0 54.5L258.5 54.5L259.0 54.5L259.5 54.5L260.0 54.5L260.5 54.5L261.0 54.5L261.5 54.5L262.0 54.5L262.5 54.5L263.0 54.5L263.5 54.5L264.0 54.5L264.5 54.5L265.0 54.5L265.5 54.5L266.0 54.5L266.5 54.5L267.0 54.5L267.5 54.5L268.0 54.5L268.5 54.5L269.0 54.5L269.5 54.5L270.0 54.5L270.5 54.5L271.0 54.5L271.5 54.5L272.0 54.5L272.5 54.5L273.0 54.5L273.5 54.5L274.0 54.5L274.5 54.5L275.0 54.5L275.5 54.5L276.0 54.5L276.5 54.5L277.0 54.5L277.5 54.5L278.0 54.5L278.5 54.5L279.0 54.5L279.5 54.5L280.0 54.5L280.5 54.5L281.0 54.5L281.5 54.5L282.0 54.5L282.5 54.5L283.0 54.5L283.5 54.5L284.0 54.5L284.5 54.5L285.0 54.5L285.5 54.5L286.0 54.5L286.5 54.5L287.0 54.5L287.5 54.5L288.0 54.5L288.5 54.5L289.0 54.5L289.5 54.5L290.0 54.5L290.5 61.1L291.0 67.0L291.5 72.2L292.0 76.9L292.5 81.0L293.0 84.5L293.5 87.8L294.0 90.7L294.5 93.3L295.0 95.6L295.5 97.5L296.0 99.3L296.5 101.1L297.0 102.7L297.5 104.2L298.0 105.4L298.5 106.5L299.0 107.3L299.5 107.8L300.0 108.2L300.5 108.5L301.0 108.8L301.5 109.0L302.0 109.1L302.5 109.0L303.0 108.3L303.5 107.2L304.0 105.7L304.5 104.1L305.0 102.5L305.5 101.0L306.0 99.4L306.5 97.7L307.0 95.9L307.5 94.3L308.0 93.0L308.5 91.9L309.0 90.9L309.5 90.0L310.0 89.2L310.5 88.7L311.0 88.5L311.5 88.7L312.0 89.1L312.5 89.8L313.0 90.7L313.5 91.7L314.0 92.9L314.5 94.3L315.0 97.0L315.5 100.7L316.0 104.6L316.5 107.7L317.0 110.0L317.5 112.2L318.0 114.1L318.5 115.7L319.0 116.9L319.5 117.8L320.0 118.5L320.5 119.1L321.0 119.6L321.5 119.9L322.0 120.0L322.5 119.8L323.0 119.5L323.5 119.0L324.0 118.3L324.5 117.5L325.0 116.6L325.5 115.6L326.0 114.6L326.5 113.4L327.0 111.7L327.5 109.6L328.0 107.0L328.5 103.2L329.0 97.2L329.5 89.5L330.0 80.3L330.5 70.1L331.0 55.9L331.5 54.5L332.0 54.5L332.5 54.5L333.0 54.5L333.5 54.5L334.0 54.5L334.5 54.5L335.0 54.5L335.5 54.5L336.0 54.5L336.5 54.5L337.0 54.5L337.5 54.5L338.0 54.5L338.5 54.5L339.0 54.5L339.5 54.5L340.0 54.5L340.5 54.5L341.0 54.5L341.5 54.5L342.0 54.5L342.5 54.5L343.0 54.5L343.5 54.5L344.0 54.5L344.5 54.5L345.0 54.5L345.5 54.5L346.0 54.5L346.5 54.5L347.0 54.5L347.5 54.5L348.0 54.5L348.5 54.5L349.0 54.5L349.5 54.5L350.0 54.5L350.5 54.5L351.0 54.5L351.5 54.5L352.0 54.5L352.5 54.5L353.0 54.5L353.5 54.5L354.0 54.5L354.5 54.5L355.0 54.5L355.5 54.5L356.0 54.5L356.5 54.5L357.0 54.5L357.5 54.5L358.0 54.5L358.5 54.5L359.0 54.5L359.5 54.5L360.0 54.5L360.5 54.5L361.0 54.5L361.5 54.5L362.0 54.5L362.5 54.5L363.0 54.5L363.5 54.5L364.0 54.5L364.5 54.5L365.0 54.5L365.5 54.5L366.0 54.5L366.5 54.5L367.0 54.5L367.5 54.5L368.0 54.5L368.5 54.5L369.0 54.5L369.5 54.5M152.5 68.9L153.0 72.6L153.5 76.2L154.0 79.2L154.5 81.7L155.0 84.2L155.5 86.7L156.0 89.1L156.5 91.1L157.0 92.9L157.5 94.1L158.0 94.7L158.5 94.8L159.0 94.5L159.5 94.0L160.0 93.4L160.5 92.6L161.0 91.7L161.5 90.8L162.0 89.8L162.5 88.8L163.0 87.8L163.5 86.9L164.0 86.1L164.5 85.3L165.0 84.4L165.5 83.6L166.0 82.7L166.5 81.9L167.0 81.0L167.5 80.1L168.0 79.2L168.5 78.2L169.0 77.3L169.5 76.4L170.0 75.4L170.5 74.5L171.0 73.6L171.5 72.7L172.0 71.8L172.5 70.9L173.0 70.0L173.5 69.1L174.0 68.1L174.5 67.0L175.0 65.9L175.5 64.7L176.0 63.3L176.5 62.1L177.0 60.4L177.5 55.3L178.0 54.5L178.5 54.5L179.0 54.5L179.5 54.5L180.0 54.5L180.5 54.5L181.0 54.5L181.5 54.5L182.0 54.5L182.5 54.5L183.0 54.5L183.5 54.5L184.0 54.5L184.5 54.5L185.0 54.5L185.5 54.5L186.0 54.5L186.5 54.5L187.0 54.5L187.5 54.5L188.0 54.5L188.5 54.5L189.0 54.5L189.5 54.5L190.0 54.5L190.5 54.5L191.0 54.5L191.5 54.5L192.0 54.5L192.5 54.5L193.0 54.5L193.5 54.5L194.0 54.5L194.5 54.5L195.0 54.5L195.5 54.5L196.0 54.5L196.5 54.5L197.0 54.5L197.5 54.5L198.0 54.5L198.5 54.5L199.0 54.5L199.5 54.5L200.0 54.5L200.5 54.5L201.0 54.5L201.5 54.5L202.0 54.8L202.5 57.0L203.0 59.1L203.5 61.2L204.0 63.0L204.5 64.7L205.0 66.0L205.5 66.9L206.0 67.4L206.5 67.4L207.0 67.2L207.5 66.9L208.0 66.5L208.5 66.1L209.0 65.5L209.5 64.9L210.0 64.3L210.5 63.6L211.0 62.9L211.5 62.3L212.0 61.6L212.5 60.8L213.0 60.0L213.5 59.0L214.0 58.1L214.5 57.0L215.0 56.0L215.5 55.1L216.0 54.5L216.5 54.5L217.0 54.5L217.5 54.5L218.0 54.5L218.5 54.5L219.0 54.5L219.5 54.5L220.0 54.5L220.5 54.5L221.0 54.5L221.5 54.5L222.0 54.5L222.5 54.5L223.0 54.5L223.5 54.5L224.0 54.5L224.5 54.5L225.0 54.5L225.5 54.5L226.0 54.5L226.5 54.9L227.0 56.5L227.5 58.3L228.0 60.2L228.5 62.1L229.0 64.1L229.5 66.3L230.0 68.7L230.5 71.3L231.0 73.9L231.5 76.3L232.0 78.5L232.5 80.4L233.0 82.2L233.5 84.0L234.0 85.7L234.5 87.2L235.0 88.7L235.5 90.0L236.0 91.2L236.5 92.2L237.0 93.1L237.5 94.1L238.0 95.0L238.5 95.8L239.0 96.6L239.5 97.1L240.0 97.5L240.5 97.6L241.0 97.5L241.5 97.2L242.0 96.7L242.5 96.1L243.0 95.3L243.5 94.4L244.0 93.4L244.5 92.2L245.0 90.6L245.5 87.8L246.0 84.5L246.5 81.0L247.0 77.8L247.5 74.5L248.0 71.2L248.5 67.7L249.0 64.2L249.5 60.7L250.0 57.2L250.5 54.5L251.0 54.5L251.5 54.5L252.0 54.5L252.5 54.5L253.0 54.5L253.5 54.5L254.0 54.5L254.5 54.5L255.0 54.5L255.5 54.5L256.0 54.5L256.5 54.5L257.0 54.5L257.5 54.5L258.0 54.5L258.5 54.5L259.0 54.5L259.5 54.5L260.0 54.5L260.5 54.5L261.0 54.5L261.5 54.5L262.0 54.5L262.5 54.5L263.0 54.5L263.5 54.5L264.0 54.5L264.5 54.5L265.0 54.5L265.5 54.5L266.0 54.5L266.5 54.5L267.0 54.5L267.5 54.5L268.0 54.5L268.5 54.5L269.0 54.5L269.5 54.5L270.0 54.5L270.5 54.5L271.0 54.5L271.5 54.5L272.0 54.5L272.5 54.5L273.0 54.5L273.5 54.5L274.0 54.5L274.5 54.5L275.0 54.5L275.5 54.5L276.0 54.5L276.5 54.5L277.0 54.5L277.5 54.5L278.0 54.5L278.5 54.5L279.0 54.5L279.5 54.5L280.0 54.5L280.5 54.5L281.0 54.5L281.5 54.5L282.0 54.5L282.5 54.5L283.0 54.5L283.5 54.5L284.0 54.5L284.5 54.5L285.0 54.5L285.5 54.5L286.0 54.5L286.5 54.5L287.0 54.5L287.5 54.5L288.0 54.5L288.5 54.5L289.0 54.5L289.5 54.5L290.0 54.5L290.5 54.5L291.0 54.5L291.5 54.5L292.0 54.5L292.5 54.5L293.0 56.5L293.5 59.8L294.0 62.7L294.5 65.3L295.0 67.6L295.5 69.5L296.0 71.3L296.5 73.1L297.0 74.7L297.5 76.2L298.0 77.4L298.5 78.5L299.0 79.3L299.5 79.8L300.0 80.2L300.5 80.5L301.0 80.8L301.5 81.0L302.0 81.1L302.5 81.0L303.0 80.3L303.5 79.2L304.0 77.7L304.5 76.1L305.0 74.5L305.5 73.0L306.0 71.4L306.5 69.7L307.0 67.9L307.5 66.3L308.0 65.0L308.5 63.9L309.0 62.9L309.5 62.0L310.0 61.2L310.5 60.7L311.0 60.5L311.5 60.7L312.0 61.1L312.5 61.8L313.0 62.7L313.5 63.7L314.0 64.9L314.5 66.3L315.0 69.0L315.5 72.7L316.0 76.6L316.5 79.7L317.0 82.0L317.5 84.2L318.0 86.1L318.5 87.7L319.0 88.9L319.5 89.8L320.0 90.5L320.5 91.1L321.0 91.6L321.5 91.9L322.0 92.0L322.5 91.8L323.0 91.5L323.5 91.0L324.0 90.3L324.5 89.5L325.0 88.6L325.5 87.6L326.0 86.6L326.5 85.4L327.0 83.7L327.5 81.6L328.0 79.0L328.5 75.2L329.0 69.2L329.5 61.5L330.0 54.5L330.5 54.5L331.0 54.5L331.5 54.5L332.0 54.5L332.5 54.5L333.0 54.5L333.5 54.5L334.0 54.5L334.5 54.5L335.0 54.5L335.5 54.5L336.0 54.5L336.5 54.5L337.0 54.5L337.5 54.5L338.0 54.5L338.5 54.5L339.0 54.5L339.5 54.5L340.0 54.5L340.5 54.5L341.0 54.5L341.5 54.5L342.0 54.5L342.5 54.5L343.0 54.5L343.5 54.5L344.0 54.5L344.5 54.5L345.0 54.5L345.5 54.5L346.0 54.5L346.5 54.5L347.0 54.5L347.5 54.5L348.0 54.5L348.5 54.5L349.0 54.5L349.5 54.5L350.0 54.5L350.5 54.5L351.0 54.5L351.5 54.5L352.0 54.5L352.5 54.5L353.0 54.5L353.5 54.5L354.0 54.5L354.5 54.5L355.0 54.5L355.5 54.5L356.0 54.5L356.5 54.5L357.0 54.5L357.5 54.5L358.0 54.5L358.5 54.5L359.0 54.5L359.5 54.5L360.0 54.5L360.5 54.5L361.0 54.5L361.5 54.5L362.0 54.5L362.5 54.5L363.0 54.5L363.5 54.5L364.0 54.5L364.5 54.5L365.0 54.5L365.5 54.5L366.0 54.5L366.5 54.5L367.0 54.5L367.5 54.5L368.0 54.5L368.5 54.5L369.0 54.5L369.5 54.5M152.5 309.6L153.0 310.3L153.5 311.2L154.0 312.1L154.5 313.0L155.0 314.0L155.5 314.9L156.0 315.8L156.5 316.6L157.0 317.2L157.5 317.8L158.0 318.1L158.5 318.3L159.0 318.2L159.5 317.8L160.0 317.1L160.5 316.1L161.0 315.0L161.5 313.6L162.0 312.2L162.5 310.7L163.0 309.2L163.5 307.7L164.0 306.2L164.5 304.9L165.0 303.7L165.5 302.6L166.0 301.7L166.5 300.7L167.0 299.9L167.5 299.0L168.0 298.2L168.5 297.4L169.0 296.6L169.5 295.7L170.0 294.9L170.5 294.1L171.0 293.2L171.5 292.3L172.0 291.4L172.5 290.4L173.0 289.5L173.5 288.7L174.0 287.9L174.5 287.1L175.0 286.3L175.5 285.4L176.0 284.5L176.5 283.5L177.0 282.3L177.5 281.0L178.0 279.5L178.5 277.8L179.0 275.8L179.5 272.7L180.0 267.0L180.5 259.8L181.0 252.2L181.5 245.2L182.0 239.5L182.5 234.3L183.0 229.3L183.5 224.4L184.0 219.7L184.5 215.2L185.0 210.9L185.5 206.8L186.0 202.7L186.5 198.6L187.0 194.2L187.5 189.2L188.0 184.1L188.5 179.5L189.0 176.0L189.5 173.2L190.0 170.6L190.5 168.7L191.0 168.0L191.5 169.2L192.0 172.1L192.5 176.0L193.0 183.0L193.5 193.9L194.0 205.7L194.5 215.5L195.0 222.3L195.5 228.5L196.0 234.3L196.5 239.4L197.0 244.0L197.5 248.0L198.0 251.4L198.5 254.4L199.0 257.3L199.5 260.2L200.0 262.9L200.5 265.5L201.0 267.9L201.5 270.2L202.0 272.2L202.5 274.0L203.0 275.6L203.5 276.9L204.0 277.9L204.5 278.6L205.0 278.9L205.5 279.2L206.0 279.3L206.5 279.5L207.0 279.6L207.5 279.7L208.0 279.8L208.5 280.0L209.0 280.1L209.5 280.3L210.0 280.6L210.5 281.1L211.0 281.8L211.5 282.9L212.0 284.2L212.5 285.7L213.0 287.4L213.5 289.4L214.0 291.4L214.5 293.7L215.0 296.0L215.5 299.2L216.0 303.8L216.5 309.1L217.0 314.9L217.5 320.5L218.0 325.5L218.5 329.4L219.0 332.3L219.5 335.2L220.0 337.9L220.5 340.3L221.0 342.3L221.5 343.5L222.0 344.0L222.5 343.8L223.0 343.3L223.5 342.6L224.0 341.6L224.5 340.4L225.0 339.1L225.5 337.7L226.0 336.3L226.5 335.0L227.0 333.7L227.5 332.3L228.0 330.6L228.5 328.6L229.0 326.6L229.5 324.5L230.0 322.6L230.5 320.8L231.0 319.3L231.5 318.1L232.0 317.5L232.5 317.5L233.0 318.3L233.5 319.7L234.0 321.7L234.5 324.1L235.0 326.6L235.5 329.1L236.0 331.5L236.5 334.4L237.0 337.7L237.5 341.1L238.0 344.5L238.5 347.5L239.0 350.0L239.5 352.2L240.0 354.6L240.5 356.8L241.0 358.8L241.5 360.3L242.0 361.4L242.5 361.8L243.0 361.6L243.5 361.0L244.0 360.0L244.5 358.8L245.0 357.3L245.5 355.6L246.0 353.9L246.5 352.0L247.0 350.2L247.5 348.4L248.0 346.7L248.5 344.9L249.0 343.0L249.5 340.7L250.0 338.0L250.5 334.5L251.0 330.0L251.5 324.7L252.0 318.8L252.5 312.6L253.0 306.3L253.5 300.0L254.0 293.5L254.5 286.4L255.0 278.9L255.5 271.3L256.0 263.8L256.5 256.7L257.0 250.0L257.5 243.7L258.0 237.6L258.5 231.5L259.0 225.7L259.5 220.1L260.0 214.7L260.5 209.7L261.0 205.0L261.5 200.5L262.0 196.0L262.5 191.7L263.0 187.6L263.5 183.7L264.0 180.3L264.5 177.4L265.0 175.0L265.5 173.0L266.0 170.9L266.5 169.0L267.0 167.2L267.5 165.5L268.0 163.9L268.5 162.6L269.0 161.5L269.5 160.7L270.0 160.2L270.5 160.0L271.0 160.3L271.5 161.0L272.0 162.2L272.5 163.7L273.0 165.4L273.5 167.4L274.0 169.5L274.5 171.7L275.0 173.9L275.5 176.0L276.0 178.0L276.5 179.9L277.0 181.9L277.5 183.9L278.0 185.9L278.5 188.1L279.0 190.3L279.5 192.6L280.0 195.0L280.5 197.4L281.0 200.0L281.5 202.6L282.0 205.3L282.5 208.2L283.0 211.2L283.5 214.5L284.0 218.0L284.5 222.0L285.0 227.1L285.5 233.4L286.0 240.1L286.5 246.4L287.0 251.4L287.5 255.5L288.0 259.4L288.5 263.2L289.0 266.8L289.5 270.2L290.0 273.2L290.5 276.0L291.0 278.4L291.5 280.3L292.0 281.8L292.5 282.9L293.0 283.9L293.5 284.9L294.0 285.8L294.5 286.6L295.0 287.3L295.5 287.9L296.0 288.4L296.5 288.7L297.0 288.9L297.5 289.0L298.0 288.7L298.5 288.0L299.0 287.0L299.5 285.9L300.0 284.7L300.5 283.5L301.0 282.4L301.5 281.4L302.0 280.8L302.5 280.6L303.0 280.7L303.5 280.9L304.0 281.3L304.5 281.7L305.0 282.2L305.5 282.8L306.0 283.5L306.5 284.1L307.0 284.8L307.5 285.5L308.0 286.1L308.5 287.0L309.0 288.0L309.5 289.1L310.0 289.9L310.5 290.6L311.0 290.8L311.5 290.7L312.0 290.3L312.5 289.9L313.0 289.3L313.5 288.6L314.0 288.0L314.5 287.4L315.0 286.8L315.5 286.2L316.0 285.5L316.5 284.8L317.0 284.1L317.5 283.4L318.0 282.6L318.5 281.9L319.0 281.2L319.5 280.6L320.0 280.0L320.5 279.5L321.0 279.1L321.5 278.7L322.0 278.5L322.5 278.3L323.0 278.1L323.5 277.9L324.0 277.8L324.5 277.7L325.0 277.5L325.5 277.4L326.0 277.2L326.5 277.1L327.0 276.8L327.5 276.5L328.0 276.2L328.5 275.5L329.0 273.7L329.5 271.0L330.0 267.5L330.5 263.4L331.0 259.0L331.5 254.4L332.0 250.0L332.5 245.3L333.0 240.0L333.5 234.2L334.0 228.2L334.5 222.0L335.0 215.9L335.5 210.0L336.0 204.0L336.5 197.7L337.0 191.4L337.5 185.1L338.0 179.4L338.5 174.2L339.0 170.0L339.5 166.2L340.0 162.5L340.5 158.9L341.0 155.9L341.5 153.6L342.0 152.2L342.5 152.1L343.0 153.3L343.5 155.5L344.0 158.6L344.5 162.2L345.0 166.1L345.5 170.0L346.0 174.7L346.5 180.6L347.0 187.2L347.5 193.9L348.0 200.0L348.5 205.8L349.0 211.8L349.5 217.6L350.0 223.1L350.5 228.0L351.0 232.0L351.5 235.4L352.0 238.6L352.5 241.5L353.0 244.1L353.5 246.4L354.0 248.4L354.5 250.0L355.0 251.4L355.5 252.8L356.0 253.9L356.5 254.7L357.0 255.0L357.5 254.6L358.0 253.7L358.5 252.3L359.0 250.5L359.5 248.6L360.0 246.6L360.5 244.7L361.0 243.0L361.5 241.5L362.0 239.9L362.5 238.2L363.0 236.6L363.5 235.0L364.0 233.4L364.5 231.9L365.0 230.5L365.5 229.2L366.0 228.0L366.5 226.9L367.0 225.9L367.5 224.9L368.0 224.0L368.5 223.2L369.0 222.5L369.5 222.0M152.5 409.3L153.0 409.7L153.5 410.0L154.0 410.4L154.5 410.7L155.0 411.0L155.5 411.3L156.0 411.6L156.5 411.8L157.0 411.9L157.5 412.0L158.0 411.9L158.5 411.6L159.0 411.0L159.5 410.2L160.0 409.2L160.5 408.0L161.0 406.7L161.5 405.2L162.0 403.7L162.5 402.2L163.0 400.6L163.5 399.1L164.0 397.6L164.5 396.2L165.0 394.9L165.5 393.8L166.0 392.6L166.5 391.4L167.0 390.2L167.5 388.9L168.0 387.7L168.5 386.4L169.0 385.3L169.5 384.2L170.0 383.2L170.5 382.4L171.0 381.7L171.5 381.2L172.0 381.0L172.5 380.8L173.0 380.7L173.5 380.6L174.0 380.5L174.5 380.4L175.0 380.4L175.5 380.3L176.0 380.2L176.5 380.0L177.0 379.8L177.5 379.2L178.0 377.9L178.5 376.0L179.0 373.7L179.5 371.0L180.0 368.1L180.5 365.1L181.0 362.0L181.5 358.4L182.0 354.0L182.5 349.1L183.0 344.3L183.5 340.0L184.0 336.1L184.5 332.4L185.0 328.7L185.5 325.2L186.0 321.8L186.5 318.5L187.0 315.1L187.5 311.3L188.0 307.4L188.5 304.0L189.0 301.7L189.5 301.0L190.0 301.7L190.5 303.3L191.0 305.5L191.5 308.2L192.0 311.3L192.5 314.5L193.0 317.9L193.5 322.7L194.0 328.5L194.5 334.6L195.0 340.4L195.5 345.0L196.0 348.9L196.5 352.9L197.0 356.8L197.5 360.7L198.0 364.4L198.5 367.8L199.0 370.9L199.5 373.6L200.0 375.8L200.5 377.4L201.0 378.4L201.5 378.6L202.0 378.5L202.5 378.4L203.0 378.2L203.5 377.9L204.0 377.7L204.5 377.4L205.0 377.1L205.5 376.8L206.0 376.5L206.5 376.3L207.0 376.1L207.5 376.0L208.0 376.0L208.5 376.4L209.0 377.1L209.5 378.2L210.0 379.6L210.5 381.2L211.0 383.0L211.5 384.9L212.0 387.0L212.5 389.2L213.0 391.4L213.5 394.2L214.0 398.0L214.5 402.5L215.0 407.8L215.5 413.4L216.0 419.3L216.5 425.2L217.0 431.0L217.5 436.4L218.0 441.3L218.5 445.5L219.0 448.7L219.5 450.9L220.0 452.6L220.5 454.2L221.0 455.8L221.5 457.1L222.0 458.2L222.5 459.0L223.0 459.4L223.5 459.5L224.0 459.1L224.5 458.4L225.0 457.3L225.5 456.0L226.0 454.5L226.5 452.8L227.0 451.0L227.5 449.1L228.0 447.2L228.5 445.3L229.0 443.4L229.5 441.7L230.0 440.2L230.5 438.8L231.0 437.7L231.5 436.9L232.0 436.5L232.5 436.4L233.0 436.7L233.5 437.2L234.0 438.0L234.5 439.0L235.0 440.2L235.5 441.5L236.0 442.9L236.5 444.4L237.0 446.0L237.5 447.6L238.0 449.2L238.5 450.8L239.0 452.3L239.5 453.7L240.0 454.9L240.5 456.0L241.0 456.9L241.5 457.6L242.0 458.0L242.5 458.2L243.0 458.0L243.5 457.5L244.0 456.7L244.5 455.6L245.0 454.2L245.5 452.6L246.0 450.9L246.5 448.9L247.0 446.8L247.5 444.6L248.0 442.4L248.5 440.1L249.0 437.7L249.5 435.0L250.0 431.6L250.5 427.7L251.0 423.3L251.5 418.5L252.0 413.4L252.5 408.1L253.0 402.8L253.5 397.4L254.0 392.1L254.5 387.0L255.0 382.2L255.5 377.7L256.0 373.6L256.5 369.6L257.0 365.8L257.5 361.9L258.0 358.0L258.5 354.0L259.0 349.6L259.5 345.0L260.0 339.7L260.5 333.7L261.0 327.3L261.5 320.8L262.0 314.5L262.5 308.7L263.0 303.7L263.5 299.4L264.0 295.4L264.5 291.5L265.0 287.8L265.5 284.3L266.0 281.0L266.5 277.9L267.0 275.0L267.5 272.4L268.0 269.9L268.5 267.7L269.0 265.4L269.5 263.1L270.0 261.3L270.5 260.2L271.0 260.0L271.5 260.5L272.0 261.4L272.5 262.6L273.0 264.1L273.5 265.9L274.0 267.8L274.5 269.7L275.0 271.6L275.5 273.6L276.0 275.9L276.5 278.6L277.0 281.4L277.5 284.5L278.0 287.7L278.5 291.0L279.0 294.3L279.5 297.6L280.0 300.9L280.5 304.1L281.0 307.6L281.5 311.3L282.0 315.1L282.5 319.1L283.0 322.9L283.5 326.6L284.0 330.0L284.5 332.9L285.0 335.4L285.5 337.3L286.0 338.7L286.5 339.9L287.0 340.8L287.5 341.8L288.0 342.8L288.5 344.1L289.0 345.7L289.5 348.2L290.0 351.5L290.5 355.3L291.0 359.7L291.5 364.4L292.0 369.4L292.5 374.4L293.0 379.4L293.5 384.1L294.0 388.5L294.5 392.4L295.0 395.7L295.5 398.2L296.0 399.8L296.5 400.4L297.0 400.2L297.5 399.6L298.0 398.6L298.5 397.3L299.0 395.8L299.5 394.1L300.0 392.2L300.5 390.2L301.0 388.2L301.5 386.2L302.0 384.2L302.5 382.3L303.0 380.6L303.5 379.1L304.0 377.8L304.5 376.8L305.0 376.2L305.5 376.0L306.0 376.1L306.5 376.5L307.0 377.1L307.5 377.9L308.0 378.9L308.5 379.9L309.0 381.0L309.5 382.1L310.0 383.3L310.5 384.3L311.0 385.3L311.5 386.2L312.0 386.8L312.5 387.3L313.0 387.6L313.5 387.5L314.0 387.1L314.5 386.3L315.0 385.3L315.5 384.0L316.0 382.5L316.5 380.9L317.0 379.2L317.5 377.5L318.0 375.8L318.5 374.1L319.0 372.5L319.5 371.1L320.0 369.9L320.5 368.9L321.0 368.3L321.5 367.9L322.0 367.5L322.5 367.2L323.0 367.0L323.5 366.7L324.0 366.5L324.5 366.3L325.0 366.1L325.5 365.9L326.0 365.6L326.5 365.2L327.0 364.8L327.5 364.3L328.0 363.5L328.5 362.3L329.0 360.8L329.5 359.1L330.0 357.0L330.5 354.6L331.0 352.0L331.5 349.2L332.0 345.8L332.5 340.9L333.0 334.6L333.5 327.3L334.0 319.6L334.5 311.8L335.0 304.2L335.5 296.9L336.0 289.0L336.5 280.8L337.0 272.6L337.5 264.7L338.0 257.6L338.5 251.4L339.0 245.6L339.5 239.6L340.0 233.8L340.5 228.6L341.0 224.4L341.5 221.6L342.0 220.6L342.5 221.3L343.0 223.4L343.5 226.4L344.0 230.1L344.5 234.3L345.0 240.9L345.5 250.9L346.0 262.5L346.5 274.2L347.0 284.1L347.5 291.6L348.0 298.5L348.5 304.8L349.0 310.8L349.5 316.5L350.0 322.0L350.5 327.4L351.0 332.5L351.5 337.3L352.0 341.8L352.5 346.5L353.0 351.3L353.5 356.3L354.0 361.3L354.5 366.2L355.0 370.8L355.5 375.1L356.0 378.9L356.5 382.2L357.0 384.8L357.5 386.6L358.0 387.5L358.5 387.5L359.0 386.8L359.5 385.7L360.0 384.1L360.5 382.1L361.0 379.8L361.5 377.3L362.0 374.6L362.5 371.8L363.0 369.0L363.5 366.2L364.0 363.6L364.5 361.1L365.0 358.8L365.5 356.9L366.0 355.4L366.5 354.1L367.0 353.0L367.5 351.9L368.0 350.9L368.5 349.9L369.0 349.0L369.5 348.2M152.5 579.3L153.0 579.2L153.5 579.0L154.0 578.8L154.5 578.6L155.0 578.4L155.5 578.2L156.0 578.0L156.5 577.8L157.0 577.5L157.5 577.2L158.0 577.0L158.5 576.7L159.0 576.3L159.5 576.0L160.0 575.6L160.5 575.2L161.0 574.7L161.5 573.9L162.0 573.0L162.5 572.0L163.0 570.9L163.5 569.8L164.0 568.6L164.5 567.5L165.0 566.4L165.5 565.3L166.0 564.4L166.5 563.7L167.0 563.1L167.5 562.7L168.0 562.6L168.5 562.7L169.0 563.1L169.5 563.6L170.0 564.3L170.5 565.1L171.0 566.0L171.5 566.9L172.0 567.9L172.5 569.2L173.0 571.0L173.5 573.2L174.0 575.6L174.5 578.2L175.0 580.8L175.5 583.4L176.0 585.8L176.5 588.0L177.0 589.8L177.5 591.1L178.0 591.9L178.5 591.9L179.0 591.0L179.5 589.2L180.0 586.7L180.5 583.6L181.0 580.1L181.5 576.4L182.0 572.5L182.5 568.7L183.0 565.2L183.5 562.0L184.0 558.5L184.5 554.6L185.0 550.3L185.5 546.0L186.0 541.8L186.5 537.9L187.0 534.5L187.5 531.8L188.0 529.9L188.5 529.0L189.0 529.4L189.5 531.1L190.0 533.7L190.5 537.1L191.0 541.1L191.5 545.3L192.0 549.7L192.5 553.9L193.0 557.7L193.5 560.9L194.0 563.5L194.5 565.7L195.0 567.9L195.5 569.9L196.0 571.8L196.5 573.8L197.0 575.7L197.5 577.6L198.0 579.7L198.5 581.9L199.0 584.4L199.5 586.9L200.0 589.4L200.5 591.9L201.0 594.3L201.5 596.5L202.0 598.4L202.5 600.1L203.0 601.3L203.5 602.1L204.0 602.4L204.5 602.3L205.0 602.0L205.5 601.6L206.0 601.1L206.5 600.4L207.0 599.7L207.5 598.9L208.0 598.1L208.5 597.2L209.0 596.3L209.5 595.5L210.0 594.7L210.5 594.0L211.0 593.3L211.5 592.8L212.0 592.4L212.5 592.1L213.0 592.0L213.5 592.0L214.0 592.0L214.5 592.0L215.0 592.0L215.5 592.0L216.0 592.0L216.5 592.0L217.0 592.0L217.5 592.3L218.0 592.9L218.5 593.7L219.0 594.8L219.5 596.0L220.0 597.4L220.5 598.9L221.0 600.5L221.5 602.1L222.0 603.8L222.5 605.5L223.0 607.0L223.5 608.6L224.0 609.9L224.5 611.2L225.0 612.3L225.5 613.4L226.0 614.5L226.5 615.7L227.0 616.8L227.5 617.9L228.0 619.0L228.5 620.1L229.0 621.1L229.5 622.1L230.0 623.1L230.5 624.0L231.0 624.9L231.5 625.7L232.0 626.4L232.5 627.1L233.0 627.7L233.5 628.4L234.0 629.0L234.5 629.7L235.0 630.3L235.5 631.0L236.0 631.6L236.5 632.2L237.0 632.7L237.5 633.2L238.0 633.7L238.5 634.1L239.0 634.5L239.5 634.8L240.0 635.0L240.5 635.2L241.0 635.3L241.5 635.3L242.0 634.9L242.5 634.2L243.0 633.2L243.5 631.9L244.0 630.5L244.5 628.8L245.0 627.0L245.5 625.1L246.0 623.2L246.5 621.3L247.0 619.1L247.5 616.4L248.0 613.3L248.5 610.0L249.0 606.5L249.5 602.8L250.0 599.1L250.5 595.3L251.0 591.7L251.5 588.3L252.0 585.1L252.5 581.9L253.0 578.8L253.5 575.6L254.0 572.4L254.5 568.9L255.0 565.2L255.5 561.2L256.0 556.5L256.5 551.2L257.0 545.6L257.5 539.7L258.0 533.9L258.5 528.2L259.0 522.9L259.5 518.1L260.0 513.2L260.5 508.2L261.0 503.4L261.5 498.8L262.0 494.8L262.5 491.6L263.0 489.3L263.5 487.8L264.0 486.5L264.5 485.2L265.0 484.0L265.5 483.0L266.0 482.0L266.5 481.3L267.0 480.7L267.5 480.3L268.0 480.0L268.5 480.0L269.0 480.1L269.5 480.4L270.0 480.8L270.5 481.3L271.0 481.9L271.5 482.5L272.0 483.1L272.5 483.8L273.0 484.5L273.5 485.2L274.0 485.9L274.5 486.5L275.0 487.0L275.5 487.5L276.0 487.8L276.5 488.1L277.0 488.3L277.5 488.4L278.0 488.6L278.5 488.7L279.0 488.9L279.5 489.0L280.0 489.1L280.5 489.3L281.0 489.5L281.5 489.8L282.0 490.1L282.5 490.5L283.0 491.4L283.5 492.8L284.0 494.8L284.5 497.2L285.0 499.9L285.5 502.8L286.0 505.8L286.5 509.0L287.0 513.2L287.5 518.1L288.0 523.5L288.5 529.2L289.0 534.8L289.5 540.1L290.0 544.8L290.5 549.0L291.0 553.0L291.5 556.8L292.0 560.3L292.5 563.7L293.0 567.0L293.5 570.5L294.0 574.2L294.5 577.7L295.0 580.8L295.5 583.4L296.0 585.1L296.5 585.7L297.0 585.3L297.5 584.2L298.0 582.6L298.5 580.5L299.0 578.0L299.5 575.4L300.0 572.8L300.5 570.2L301.0 567.8L301.5 565.7L302.0 564.0L302.5 562.2L303.0 560.3L303.5 558.4L304.0 556.5L304.5 554.6L305.0 552.9L305.5 551.3L306.0 549.8L306.5 548.7L307.0 547.8L307.5 547.2L308.0 547.0L308.5 547.3L309.0 548.0L309.5 549.1L310.0 550.5L310.5 552.2L311.0 554.1L311.5 556.0L312.0 557.9L312.5 559.8L313.0 561.5L313.5 563.0L314.0 564.2L314.5 565.0L315.0 565.6L315.5 566.2L316.0 566.8L316.5 567.3L317.0 567.9L317.5 568.4L318.0 568.9L318.5 569.4L319.0 569.8L319.5 570.2L320.0 570.6L320.5 571.0L321.0 571.3L321.5 571.6L322.0 571.8L322.5 572.0L323.0 572.1L323.5 572.2L324.0 572.3L324.5 572.3L325.0 572.0L325.5 571.4L326.0 570.6L326.5 569.6L327.0 568.5L327.5 567.3L328.0 566.1L328.5 565.0L329.0 564.0L329.5 563.2L330.0 562.6L330.5 562.2L331.0 561.9L331.5 561.6L332.0 561.4L332.5 561.2L333.0 560.8L333.5 560.4L334.0 559.5L334.5 555.8L335.0 549.6L335.5 541.6L336.0 532.8L336.5 523.8L337.0 515.6L337.5 509.0L338.0 504.3L338.5 499.7L339.0 495.1L339.5 490.6L340.0 486.2L340.5 482.1L341.0 478.3L341.5 474.8L342.0 471.9L342.5 469.4L343.0 467.6L343.5 466.4L344.0 466.0L344.5 466.4L345.0 467.4L345.5 469.1L346.0 471.3L346.5 473.9L347.0 477.1L347.5 480.5L348.0 484.3L348.5 488.3L349.0 492.5L349.5 497.4L350.0 505.1L350.5 515.0L351.0 526.0L351.5 537.1L352.0 547.5L352.5 556.1L353.0 562.0L353.5 566.1L354.0 570.0L354.5 573.8L355.0 577.3L355.5 580.6L356.0 583.5L356.5 586.0L357.0 588.1L357.5 589.7L358.0 590.8L358.5 591.4L359.0 591.3L359.5 590.8L360.0 589.8L360.5 588.5L361.0 586.8L361.5 584.8L362.0 582.5L362.5 580.1L363.0 577.5L363.5 574.8L364.0 570.6L364.5 564.8L365.0 558.5L365.5 552.6L366.0 548.0L366.5 544.5L367.0 541.3L367.5 538.4L368.0 535.7L368.5 533.3L369.0 531.2L369.5 529.3" fill="none" stroke="#000" stroke-width="1.15" stroke-linejoin="round"/><path d="M150.0 125.0C150.2 125.8 150.7 126.2 151.4 130.0C152.1 133.8 153.0 142.2 154.1 147.7C155.2 153.2 156.6 161.7 158.2 162.8C159.8 164.0 161.6 158.0 163.7 154.6C165.8 151.2 168.5 146.2 170.6 142.3C172.7 138.4 174.9 134.1 176.0 131.3C177.1 128.6 177.2 126.7 177.4 125.8M178.0 92.0C178.1 89.0 178.4 78.3 178.6 73.7C178.8 69.1 178.8 71.0 179.2 64.5C179.6 58.0 179.9 48.2 181.0 35.0C182.1 21.8 184.4 -7.5 186.0 -15.0C187.6 -22.5 189.2 -18.3 190.5 -10.0C191.8 -1.7 192.7 22.6 193.5 35.0C194.3 47.4 194.8 56.9 195.2 64.5C195.6 72.1 195.4 74.5 195.9 80.6C196.4 86.7 197.1 94.5 198.0 101.1C198.9 107.7 200.0 114.6 201.4 120.3C202.8 126.0 204.5 133.8 206.2 135.4C207.9 137.0 209.9 132.5 211.7 130.0C213.5 127.5 215.6 122.6 217.2 120.3C218.8 118.0 219.9 116.2 221.3 116.2C222.7 116.2 224.2 117.8 225.4 120.3C226.7 122.8 227.7 126.7 228.8 131.3C230.0 135.9 231.0 142.9 232.3 147.7C233.6 152.5 235.0 157.0 236.4 160.0C237.8 163.0 239.1 165.6 240.5 165.6C241.9 165.6 243.6 163.0 244.6 160.0C245.6 157.0 246.3 149.8 246.7 147.7M252.1 111.0C252.7 107.5 254.6 96.4 255.6 90.2C256.6 84.0 257.6 78.0 258.3 73.7C259.0 69.4 259.1 70.1 259.7 64.5C260.3 58.9 260.6 57.4 262.0 40.0C263.4 22.6 265.8 -23.3 268.0 -40.0C270.2 -56.7 272.7 -61.7 275.0 -60.0C277.3 -58.3 280.1 -45.8 282.0 -30.0C283.9 -14.2 285.4 19.2 286.5 35.0C287.6 50.8 288.1 56.9 288.5 64.5C288.9 72.1 288.9 74.5 289.2 80.6C289.5 86.7 289.9 94.2 290.5 101.1C291.1 107.9 291.8 115.8 292.6 121.7C293.4 127.7 294.2 132.5 295.3 136.8C296.4 141.1 298.2 145.6 299.4 147.7C300.5 149.8 301.2 150.2 302.2 149.1C303.2 148.0 304.5 143.7 305.5 141.0C306.5 138.3 307.1 135.1 308.0 133.0C308.9 130.9 309.9 128.3 311.0 128.5C312.1 128.7 313.5 130.8 314.4 134.0C315.3 137.2 315.7 143.8 316.5 147.7C317.3 151.6 318.3 155.2 319.2 157.3C320.1 159.4 320.8 160.4 321.9 160.0C323.0 159.6 325.0 156.9 326.0 154.6C327.0 152.3 327.8 147.8 328.1 146.4M330.6 108.0C330.7 104.6 331.0 93.1 331.3 87.4C331.6 81.7 331.8 77.5 332.2 73.7C332.6 69.9 333.1 70.1 333.6 64.5C334.2 58.9 334.4 52.4 335.5 40.0C336.6 27.6 338.4 -5.0 340.0 -10.0C341.6 -15.0 343.7 0.8 345.0 10.0C346.3 19.2 347.3 35.9 348.0 45.0C348.7 54.1 348.8 59.7 349.4 64.5C350.0 69.3 350.5 70.6 351.4 73.7C352.3 76.8 353.8 81.2 354.8 83.3C355.8 85.3 356.6 86.5 357.6 86.0C358.6 85.5 360.1 83.1 361.0 80.6C361.9 78.1 362.6 73.7 363.1 71.0C363.6 68.3 363.3 69.7 363.8 64.5C364.3 59.3 364.8 47.4 366.0 40.0C367.2 32.6 370.2 23.3 371.0 20.0M150.0 238.0C150.4 238.8 151.2 239.9 152.6 243.0C154.0 246.1 156.9 255.1 158.6 256.6C160.3 258.1 161.6 253.8 163.0 252.0C164.4 250.2 165.2 249.5 167.0 246.0C168.8 242.5 172.0 237.0 174.0 231.0C176.0 225.0 177.8 216.0 179.0 210.0C180.2 204.0 180.7 200.0 181.2 195.0C181.7 190.0 181.8 184.3 182.2 180.0C182.5 175.7 183.1 170.8 183.3 169.0M188.6 141.0C188.8 140.5 189.3 136.7 189.8 138.0C190.3 139.3 191.1 144.6 191.8 149.0C192.5 153.4 193.2 159.0 193.9 164.2C194.6 169.4 195.2 174.0 195.9 180.0C196.6 186.0 197.1 193.8 198.0 200.0C198.9 206.2 200.0 213.0 201.4 217.0C202.8 221.0 204.3 222.0 206.6 224.0C208.9 226.0 212.7 224.7 215.0 229.0C217.3 233.3 218.9 244.0 220.3 249.7C221.8 255.4 222.6 261.5 223.7 263.4C224.8 265.3 225.9 262.1 227.0 261.0C228.1 259.9 229.5 256.8 230.5 256.6C231.5 256.4 232.1 258.0 233.0 260.0C233.9 262.0 234.4 262.6 235.7 268.6C237.0 274.6 239.4 290.3 240.8 296.0C242.2 301.7 242.9 304.0 244.3 302.8C245.7 301.6 248.0 294.7 249.4 289.0C250.8 283.3 252.0 275.9 252.8 268.6C253.6 261.3 254.1 248.9 254.3 245.0M255.6 203.0C256.1 199.2 257.4 186.7 258.3 180.0C259.2 173.3 260.1 169.1 261.0 162.8C261.9 156.5 262.8 148.7 263.8 142.3C264.8 135.9 266.1 128.3 267.2 124.4C268.3 120.5 269.5 119.0 270.6 119.0C271.8 119.0 273.0 121.4 274.1 124.4C275.2 127.4 276.4 132.7 277.5 136.8C278.6 140.9 279.6 146.4 280.9 149.1C282.1 151.8 283.7 151.6 285.0 153.2C286.3 154.8 287.7 155.9 288.5 158.7C289.3 161.4 289.4 166.1 289.8 169.7C290.2 173.2 290.8 174.9 291.2 180.0C291.6 185.1 291.4 193.2 292.2 200.0C292.9 206.8 294.6 214.6 295.7 220.6C296.8 226.6 297.9 234.6 299.0 236.0C300.1 237.4 301.0 230.7 302.0 229.0C303.0 227.3 303.8 224.8 305.0 225.7C306.2 226.6 307.7 230.9 309.4 234.3C311.1 237.7 313.7 245.0 315.4 246.3C317.1 247.6 319.0 242.7 319.7 242.0M333.2 212.0C333.5 206.7 334.6 189.3 335.0 180.0C335.4 170.7 335.3 164.6 335.6 156.0C335.9 147.4 336.3 136.5 337.0 128.5C337.7 120.5 338.9 112.3 339.8 108.0C340.7 103.7 341.5 102.5 342.5 102.5C343.5 102.5 345.0 104.1 345.9 108.0C346.8 111.9 347.3 119.6 348.0 125.8C348.7 132.0 349.3 138.6 350.0 145.0C350.7 151.4 351.4 158.4 352.1 164.2C352.8 170.0 353.7 175.1 354.2 180.0C354.7 184.9 354.5 190.6 355.1 193.7C355.7 196.8 356.9 199.1 357.7 198.8C358.5 198.5 359.3 195.1 360.0 192.0C360.7 188.9 361.1 184.2 362.0 180.0C362.9 175.8 364.1 170.6 365.1 167.0C366.1 163.4 367.2 160.3 367.9 158.7C368.6 157.1 368.7 157.6 369.2 157.3C369.7 157.0 370.7 157.1 371.0 157.0" fill="none" stroke="#000" stroke-width="4.6" stroke-linejoin="round" stroke-linecap="butt"/></g><clipPath id="cs2"><rect x="401.5" y="64.5" width="150.0" height="715.0"/></clipPath><g clip-path="url(#cs2)"><path d="M401.5 98.7L402.0 98.6L402.5 98.5L403.0 98.6L403.5 98.7L404.0 98.9L404.5 98.9L405.0 98.9L405.5 98.8L406.0 98.5L406.5 98.1L407.0 97.6L407.5 97.1L408.0 96.6L408.5 96.1L409.0 95.6L409.5 95.2L410.0 94.9L410.5 94.7L411.0 94.5L411.5 94.3L412.0 94.2L412.5 94.1L413.0 94.0L413.5 93.9L414.0 93.9L414.5 93.8L415.0 93.9L415.5 93.9L416.0 94.1L416.5 94.3L417.0 94.5L417.5 94.8L418.0 95.2L418.5 95.6L419.0 96.0L419.5 96.4L420.0 96.9L420.5 97.4L421.0 97.9L421.5 98.4L422.0 98.9L422.5 99.5L423.0 100.2L423.5 100.9L424.0 101.7L424.5 102.4L425.0 103.2L425.5 104.0L426.0 104.9L426.5 105.7L427.0 106.4L427.5 106.8L428.0 106.9L428.5 106.0L429.0 104.2L429.5 101.6L430.0 96.6L430.5 91.0L431.0 85.8L431.5 80.8L432.0 76.3L432.5 71.7L433.0 66.9L433.5 61.9L434.0 57.0L434.5 54.5L435.0 54.5L435.5 54.5L436.0 54.5L436.5 54.5L437.0 54.5L437.5 54.5L438.0 54.5L438.5 54.5L439.0 54.5L439.5 54.5L440.0 54.5L440.5 54.5L441.0 61.9L441.5 70.5L442.0 78.1L442.5 84.8L443.0 90.9L443.5 95.4L444.0 98.9L444.5 101.8L445.0 104.5L445.5 107.4L446.0 110.6L446.5 113.9L447.0 117.2L447.5 120.5L448.0 123.9L448.5 127.6L449.0 131.6L449.5 135.9L450.0 140.2L450.5 144.3L451.0 148.0L451.5 151.3L452.0 154.4L452.5 157.4L453.0 160.2L453.5 162.8L454.0 165.2L454.5 167.5L455.0 169.8L455.5 171.4L456.0 171.7L456.5 171.0L457.0 169.4L457.5 167.2L458.0 164.4L458.5 159.8L459.0 153.8L459.5 147.1L460.0 138.5L460.5 129.6L461.0 122.6L461.5 116.8L462.0 115.3L462.5 115.1L463.0 115.2L463.5 115.5L464.0 116.1L464.5 116.8L465.0 117.7L465.5 118.7L466.0 119.8L466.5 121.0L467.0 122.2L467.5 123.5L468.0 124.8L468.5 126.0L469.0 127.2L469.5 128.2L470.0 129.2L470.5 130.0L471.0 130.6L471.5 131.1L472.0 131.3L472.5 131.2L473.0 130.8L473.5 130.3L474.0 129.7L474.5 129.0L475.0 128.3L475.5 127.5L476.0 126.6L476.5 125.7L477.0 124.0L477.5 121.1L478.0 117.6L478.5 114.1L479.0 110.3L479.5 104.5L480.0 88.9L480.5 79.8L481.0 73.9L481.5 69.3L482.0 65.2L482.5 60.8L483.0 56.3L483.5 54.5L484.0 54.5L484.5 54.5L485.0 54.5L485.5 54.5L486.0 54.5L486.5 54.5L487.0 54.5L487.5 54.5L488.0 54.5L488.5 54.5L489.0 54.5L489.5 56.4L490.0 60.0L490.5 64.7L491.0 70.5L491.5 75.7L492.0 78.7L492.5 80.3L493.0 81.6L493.5 82.7L494.0 83.8L494.5 84.8L495.0 86.0L495.5 87.5L496.0 89.1L496.5 90.8L497.0 92.6L497.5 94.4L498.0 96.2L498.5 98.1L499.0 100.0L499.5 102.0L500.0 103.8L500.5 105.7L501.0 107.7L501.5 109.7L502.0 111.4L502.5 112.8L503.0 114.2L503.5 115.4L504.0 116.4L504.5 117.3L505.0 117.9L505.5 118.6L506.0 119.2L506.5 119.8L507.0 120.2L507.5 120.5L508.0 120.6L508.5 120.5L509.0 120.1L509.5 119.5L510.0 118.7L510.5 117.9L511.0 117.0L511.5 116.1L512.0 115.3L512.5 114.8L513.0 114.2L513.5 113.6L514.0 113.0L514.5 112.5L515.0 112.2L515.5 112.0L516.0 112.2L516.5 112.6L517.0 113.4L517.5 114.6L518.0 116.0L518.5 117.5L519.0 119.2L519.5 121.0L520.0 123.5L520.5 126.4L521.0 129.7L521.5 133.3L522.0 137.8L522.5 142.8L523.0 147.8L523.5 153.0L524.0 158.2L524.5 162.3L525.0 164.7L525.5 166.7L526.0 168.5L526.5 170.0L527.0 171.2L527.5 171.8L528.0 172.0L528.5 171.8L529.0 171.4L529.5 170.7L530.0 169.9L530.5 168.8L531.0 167.2L531.5 163.2L532.0 157.0L532.5 145.2L533.0 128.0L533.5 102.0L534.0 89.8L534.5 82.7L535.0 77.1L535.5 71.2L536.0 65.2L536.5 59.5L537.0 54.7L537.5 54.5L538.0 54.5L538.5 54.5L539.0 54.5L539.5 56.8L540.0 61.9L540.5 67.5L541.0 73.1L541.5 79.9L542.0 87.7L542.5 93.7L543.0 97.5L543.5 100.8L544.0 103.7L544.5 106.4L545.0 108.7L545.5 110.9L546.0 112.8L546.5 114.4L547.0 115.7L547.5 116.9L548.0 117.9L548.5 118.9L549.0 119.8L549.5 120.8L550.0 121.7L550.5 122.5L551.0 123.3L551.5 124.0M401.5 121.1L402.0 120.7L402.5 120.3L403.0 120.0L403.5 119.7L404.0 119.5L404.5 119.2L405.0 118.8L405.5 118.4L406.0 117.8L406.5 117.1L407.0 116.4L407.5 115.6L408.0 114.8L408.5 114.0L409.0 113.3L409.5 112.6L410.0 112.0L410.5 111.5L411.0 111.0L411.5 110.6L412.0 110.2L412.5 109.7L413.0 109.3L413.5 108.9L414.0 108.6L414.5 108.3L415.0 108.0L415.5 107.9L416.0 107.8L416.5 107.8L417.0 107.9L417.5 108.2L418.0 108.6L418.5 109.0L419.0 109.5L419.5 110.1L420.0 110.7L420.5 111.3L421.0 112.0L421.5 112.7L422.0 113.5L422.5 114.4L423.0 115.6L423.5 116.8L424.0 118.2L424.5 119.6L425.0 121.0L425.5 122.5L426.0 124.2L426.5 126.1L427.0 127.8L427.5 129.2L428.0 130.2L428.5 130.4L429.0 129.8L429.5 128.5L430.0 125.5L430.5 121.9L431.0 118.6L431.5 115.4L432.0 112.5L432.5 109.7L433.0 106.6L433.5 103.3L434.0 99.9L434.5 96.6L435.0 93.8L435.5 91.7L436.0 90.7L436.5 90.4L437.0 90.2L437.5 90.1L438.0 90.1L438.5 89.8L439.0 89.2L439.5 89.1L440.0 90.2L440.5 93.4L441.0 99.0L441.5 105.5L442.0 111.3L442.5 116.3L443.0 120.9L443.5 124.4L444.0 127.0L444.5 129.3L445.0 131.4L445.5 133.6L446.0 136.1L446.5 138.6L447.0 141.2L447.5 143.8L448.0 146.5L448.5 149.8L449.0 153.8L449.5 158.1L450.0 162.5L450.5 166.7L451.0 170.3L451.5 173.6L452.0 176.8L452.5 179.8L453.0 182.6L453.5 185.3L454.0 187.8L454.5 190.3L455.0 192.8L455.5 194.8L456.0 195.9L456.5 196.1L457.0 195.5L457.5 194.3L458.0 192.4L458.5 188.8L459.0 184.0L459.5 178.5L460.0 171.4L460.5 164.1L461.0 158.2L461.5 153.3L462.0 151.6L462.5 150.9L463.0 150.4L463.5 150.0L464.0 149.8L464.5 149.7L465.0 149.8L465.5 149.9L466.0 150.1L466.5 150.4L467.0 150.7L467.5 151.1L468.0 151.4L468.5 151.7L469.0 152.0L469.5 152.1L470.0 152.2L470.5 152.2L471.0 152.0L471.5 151.7L472.0 151.3L472.5 150.6L473.0 149.7L473.5 148.6L474.0 147.5L474.5 146.4L475.0 145.2L475.5 144.0L476.0 142.7L476.5 141.4L477.0 139.6L477.5 136.8L478.0 133.7L478.5 130.5L479.0 127.1L479.5 122.3L480.0 110.0L480.5 102.7L481.0 97.8L481.5 93.9L482.0 90.3L482.5 86.6L483.0 82.8L483.5 79.1L484.0 75.6L484.5 72.5L485.0 70.0L485.5 68.1L486.0 67.1L486.5 67.0L487.0 67.6L487.5 69.0L488.0 70.8L488.5 73.0L489.0 75.4L489.5 77.8L490.0 80.0L490.5 83.1L491.0 87.0L491.5 90.5L492.0 92.3L492.5 93.2L493.0 93.9L493.5 94.6L494.0 95.3L494.5 96.2L495.0 97.4L495.5 98.8L496.0 100.6L496.5 102.4L497.0 104.3L497.5 106.1L498.0 108.1L498.5 110.3L499.0 112.6L499.5 114.9L500.0 117.1L500.5 119.3L501.0 121.8L501.5 124.1L502.0 125.9L502.5 127.2L503.0 128.4L503.5 129.5L504.0 130.5L504.5 131.3L505.0 131.9L505.5 132.5L506.0 133.1L506.5 133.6L507.0 134.0L507.5 134.3L508.0 134.5L508.5 134.4L509.0 134.2L509.5 133.8L510.0 133.3L510.5 132.7L511.0 132.1L511.5 131.5L512.0 131.0L512.5 130.7L513.0 130.3L513.5 130.0L514.0 129.7L514.5 129.5L515.0 129.4L515.5 129.5L516.0 129.9L516.5 130.5L517.0 131.6L517.5 133.2L518.0 135.2L518.5 137.4L519.0 139.6L519.5 141.9L520.0 144.7L520.5 147.9L521.0 151.4L521.5 155.1L522.0 159.4L522.5 164.1L523.0 168.9L523.5 173.7L524.0 178.4L524.5 182.3L525.0 184.6L525.5 186.5L526.0 188.3L526.5 189.8L527.0 190.9L527.5 191.6L528.0 191.7L528.5 191.4L529.0 190.8L529.5 190.1L530.0 189.1L530.5 187.8L531.0 186.3L531.5 182.8L532.0 177.8L532.5 168.5L533.0 155.0L533.5 135.0L534.0 125.1L534.5 119.2L535.0 114.2L535.5 109.1L536.0 104.0L536.5 99.0L537.0 94.5L537.5 91.0L538.0 89.0L538.5 88.8L539.0 90.3L539.5 93.3L540.0 97.3L540.5 101.7L541.0 106.2L541.5 111.7L542.0 117.9L542.5 122.8L543.0 126.1L543.5 129.0L544.0 131.8L544.5 134.4L545.0 136.9L545.5 139.1L546.0 141.0L546.5 142.5L547.0 143.5L547.5 144.3L548.0 145.0L548.5 145.5L549.0 146.0L549.5 146.4L550.0 146.7L550.5 147.0L551.0 147.1L551.5 147.2M401.5 143.5L402.0 142.7L402.5 142.1L403.0 141.4L403.5 140.8L404.0 140.1L404.5 139.5L405.0 138.8L405.5 138.0L406.0 137.1L406.5 136.1L407.0 135.1L407.5 134.1L408.0 133.1L408.5 132.0L409.0 131.0L409.5 130.0L410.0 129.1L410.5 128.3L411.0 127.5L411.5 126.8L412.0 126.1L412.5 125.4L413.0 124.7L413.5 124.0L414.0 123.3L414.5 122.7L415.0 122.2L415.5 121.8L416.0 121.5L416.5 121.4L417.0 121.4L417.5 121.6L418.0 122.0L418.5 122.5L419.0 123.0L419.5 123.7L420.0 124.5L420.5 125.3L421.0 126.1L421.5 127.0L422.0 128.0L422.5 129.4L423.0 131.0L423.5 132.7L424.0 134.7L424.5 136.7L425.0 138.8L425.5 140.9L426.0 143.6L426.5 146.4L427.0 149.2L427.5 151.6L428.0 153.5L428.5 154.7L429.0 155.3L429.5 155.5L430.0 154.4L430.5 152.9L431.0 151.4L431.5 150.0L432.0 148.8L432.5 147.7L433.0 146.3L433.5 144.7L434.0 142.8L434.5 140.6L435.0 138.6L435.5 137.1L436.0 136.1L436.5 135.5L437.0 134.9L437.5 134.4L438.0 133.9L438.5 132.7L439.0 131.0L439.5 129.8L440.0 130.3L440.5 132.4L441.0 136.2L441.5 140.6L442.0 144.4L442.5 147.8L443.0 150.9L443.5 153.3L444.0 155.1L444.5 156.7L445.0 158.2L445.5 159.8L446.0 161.6L446.5 163.4L447.0 165.2L447.5 167.1L448.0 169.1L448.5 172.1L449.0 175.9L449.5 180.3L450.0 184.8L450.5 189.1L451.0 192.7L451.5 195.9L452.0 199.1L452.5 202.1L453.0 205.1L453.5 207.8L454.0 210.5L454.5 213.0L455.0 215.7L455.5 218.2L456.0 220.0L456.5 221.2L457.0 221.7L457.5 221.4L458.0 220.3L458.5 217.8L459.0 214.2L459.5 209.8L460.0 204.4L460.5 198.6L461.0 193.8L461.5 189.7L462.0 187.8L462.5 186.6L463.0 185.5L463.5 184.5L464.0 183.5L464.5 182.7L465.0 181.9L465.5 181.1L466.0 180.5L466.5 179.9L467.0 179.3L467.5 178.7L468.0 178.0L468.5 177.4L469.0 176.7L469.5 176.0L470.0 175.3L470.5 174.4L471.0 173.5L471.5 172.4L472.0 171.3L472.5 170.0L473.0 168.5L473.5 167.0L474.0 165.4L474.5 163.7L475.0 162.1L475.5 160.4L476.0 158.8L476.5 157.1L477.0 155.1L477.5 152.5L478.0 149.7L478.5 146.9L479.0 143.9L479.5 140.0L480.0 131.2L480.5 125.6L481.0 121.7L481.5 118.5L482.0 115.5L482.5 112.4L483.0 109.2L483.5 106.2L484.0 103.4L484.5 100.8L485.0 98.6L485.5 96.8L486.0 95.6L486.5 95.1L487.0 95.0L487.5 95.4L488.0 96.2L488.5 97.1L489.0 98.2L489.5 99.2L490.0 100.1L490.5 101.5L491.0 103.5L491.5 105.2L492.0 105.9L492.5 106.1L493.0 106.3L493.5 106.5L494.0 106.9L494.5 107.6L495.0 108.7L495.5 110.2L496.0 112.0L496.5 113.9L497.0 115.9L497.5 117.9L498.0 120.1L498.5 122.5L499.0 125.1L499.5 127.7L500.0 130.3L500.5 132.9L501.0 135.8L501.5 138.5L502.0 140.3L502.5 141.6L503.0 142.7L503.5 143.7L504.0 144.5L504.5 145.3L505.0 145.9L505.5 146.5L506.0 147.0L506.5 147.4L507.0 147.8L507.5 148.1L508.0 148.3L508.5 148.4L509.0 148.3L509.5 148.1L510.0 147.8L510.5 147.5L511.0 147.2L511.5 146.9L512.0 146.7L512.5 146.6L513.0 146.5L513.5 146.4L514.0 146.4L514.5 146.5L515.0 146.7L515.5 147.0L516.0 147.6L516.5 148.3L517.0 149.8L517.5 151.9L518.0 154.4L518.5 157.2L519.0 160.0L519.5 162.7L520.0 165.9L520.5 169.4L521.0 173.0L521.5 176.8L522.0 181.0L522.5 185.4L523.0 189.9L523.5 194.4L524.0 198.7L524.5 202.2L525.0 204.4L525.5 206.4L526.0 208.1L526.5 209.6L527.0 210.7L527.5 211.3L528.0 211.3L528.5 210.9L529.0 210.3L529.5 209.4L530.0 208.2L530.5 206.9L531.0 205.3L531.5 202.5L532.0 198.5L532.5 191.7L533.0 182.1L533.5 167.9L534.0 160.4L534.5 155.6L535.0 151.4L535.5 147.0L536.0 142.8L536.5 138.4L537.0 134.3L537.5 130.9L538.0 128.5L538.5 127.6L539.0 128.0L539.5 129.9L540.0 132.7L540.5 135.9L541.0 139.3L541.5 143.4L542.0 148.2L542.5 152.0L543.0 154.7L543.5 157.3L544.0 159.9L544.5 162.5L545.0 165.0L545.5 167.3L546.0 169.2L546.5 170.6L547.0 171.4L547.5 171.8L548.0 172.0L548.5 172.1L549.0 172.1L549.5 172.0L550.0 171.8L550.5 171.4L551.0 171.0L551.5 170.5M401.5 165.9L402.0 164.8L402.5 163.8L403.0 162.8L403.5 161.8L404.0 160.8L404.5 159.7L405.0 158.7L405.5 157.5L406.0 156.4L406.5 155.2L407.0 153.9L407.5 152.6L408.0 151.3L408.5 150.0L409.0 148.7L409.5 147.4L410.0 146.2L410.5 145.1L411.0 144.0L411.5 143.1L412.0 142.1L412.5 141.1L413.0 140.0L413.5 139.0L414.0 138.0L414.5 137.1L415.0 136.3L415.5 135.7L416.0 135.2L416.5 134.9L417.0 134.8L417.5 135.0L418.0 135.4L418.5 135.9L419.0 136.6L419.5 137.3L420.0 138.2L420.5 139.2L421.0 140.2L421.5 141.3L422.0 142.6L422.5 144.3L423.0 146.3L423.5 148.7L424.0 151.2L424.5 153.8L425.0 156.6L425.5 159.4L426.0 162.9L426.5 166.8L427.0 170.6L427.5 174.0L428.0 176.9L428.5 179.1L429.0 180.9L429.5 182.5L430.0 183.3L430.5 183.8L431.0 184.2L431.5 184.6L432.0 185.1L432.5 185.6L433.0 186.0L433.5 186.1L434.0 185.6L434.5 184.6L435.0 183.5L435.5 182.4L436.0 181.5L436.5 180.6L437.0 179.6L437.5 178.7L438.0 177.6L438.5 175.6L439.0 172.7L439.5 170.5L440.0 170.4L440.5 171.5L441.0 173.4L441.5 175.6L442.0 177.6L442.5 179.3L443.0 181.0L443.5 182.2L444.0 183.3L444.5 184.2L445.0 185.0L445.5 186.0L446.0 187.0L446.5 188.1L447.0 189.3L447.5 190.4L448.0 191.7L448.5 194.3L449.0 198.1L449.5 202.5L450.0 207.1L450.5 211.4L451.0 215.0L451.5 218.3L452.0 221.4L452.5 224.5L453.0 227.5L453.5 230.4L454.0 233.1L454.5 235.8L455.0 238.7L455.5 241.6L456.0 244.2L456.5 246.3L457.0 247.8L457.5 248.5L458.0 248.3L458.5 246.8L459.0 244.4L459.5 241.2L460.0 237.3L460.5 233.1L461.0 229.4L461.5 226.2L462.0 224.1L462.5 222.4L463.0 220.7L463.5 219.0L464.0 217.3L464.5 215.6L465.0 214.0L465.5 212.4L466.0 210.8L466.5 209.3L467.0 207.8L467.5 206.2L468.0 204.7L468.5 203.1L469.0 201.5L469.5 199.9L470.0 198.3L470.5 196.6L471.0 194.9L471.5 193.1L472.0 191.3L472.5 189.4L473.0 187.4L473.5 185.3L474.0 183.2L474.5 181.1L475.0 179.0L475.5 176.9L476.0 174.9L476.5 172.9L477.0 170.7L477.5 168.3L478.0 165.8L478.5 163.3L479.0 160.7L479.5 157.7L480.0 152.3L480.5 148.5L481.0 145.6L481.5 143.0L482.0 140.6L482.5 138.2L483.0 135.7L483.5 133.4L484.0 131.1L484.5 129.0L485.0 127.2L485.5 125.5L486.0 124.2L486.5 123.2L487.0 122.4L487.5 121.9L488.0 121.5L488.5 121.3L489.0 121.0L489.5 120.6L490.0 120.1L490.5 119.9L491.0 120.0L491.5 120.0L492.0 119.6L492.5 119.0L493.0 118.6L493.5 118.4L494.0 118.4L494.5 119.0L495.0 120.1L495.5 121.6L496.0 123.4L496.5 125.5L497.0 127.6L497.5 129.7L498.0 132.0L498.5 134.7L499.0 137.7L499.5 140.6L500.0 143.5L500.5 146.5L501.0 149.9L501.5 152.9L502.0 154.8L502.5 155.9L503.0 156.9L503.5 157.8L504.0 158.6L504.5 159.3L505.0 159.9L505.5 160.4L506.0 160.9L506.5 161.3L507.0 161.6L507.5 161.9L508.0 162.1L508.5 162.3L509.0 162.3L509.5 162.4L510.0 162.3L510.5 162.3L511.0 162.3L511.5 162.3L512.0 162.3L512.5 162.5L513.0 162.6L513.5 162.9L514.0 163.1L514.5 163.5L515.0 163.9L515.5 164.5L516.0 165.2L516.5 166.2L517.0 168.0L517.5 170.5L518.0 173.6L518.5 177.0L519.0 180.4L519.5 183.6L520.0 187.1L520.5 190.8L521.0 194.7L521.5 198.6L522.0 202.6L522.5 206.7L523.0 210.9L523.5 215.1L524.0 219.0L524.5 222.1L525.0 224.3L525.5 226.2L526.0 227.9L526.5 229.4L527.0 230.5L527.5 231.0L528.0 230.9L528.5 230.5L529.0 229.7L529.5 228.7L530.0 227.4L530.5 226.0L531.0 224.4L531.5 222.1L532.0 219.3L532.5 215.0L533.0 209.1L533.5 200.8L534.0 195.8L534.5 192.0L535.0 188.5L535.5 185.0L536.0 181.5L536.5 177.9L537.0 174.1L537.5 170.7L538.0 168.0L538.5 166.3L539.0 165.7L539.5 166.5L540.0 168.0L540.5 170.1L541.0 172.4L541.5 175.2L542.0 178.4L542.5 181.2L543.0 183.4L543.5 185.5L544.0 188.0L544.5 190.6L545.0 193.2L545.5 195.5L546.0 197.4L546.5 198.7L547.0 199.2L547.5 199.3L548.0 199.1L548.5 198.8L549.0 198.3L549.5 197.6L550.0 196.8L550.5 195.9L551.0 194.9L551.5 193.7M401.5 62.3L402.0 62.5L402.5 62.8L403.0 63.2L403.5 63.7L404.0 64.2L404.5 64.7L405.0 65.0L405.5 65.2L406.0 65.2L406.5 65.0L407.0 64.8L407.5 64.6L408.0 64.3L408.5 64.1L409.0 63.9L409.5 63.8L410.0 63.8L410.5 63.9L411.0 63.9L411.5 64.1L412.0 64.2L412.5 64.4L413.0 64.6L413.5 64.9L414.0 65.1L414.5 65.4L415.0 65.7L415.5 66.0L416.0 66.4L416.5 66.7L417.0 67.0L417.5 67.4L418.0 67.8L418.5 68.1L419.0 68.5L419.5 68.8L420.0 69.1L420.5 69.5L421.0 69.8L421.5 70.1L422.0 70.3L422.5 70.6L423.0 70.8L423.5 71.0L424.0 71.2L424.5 71.3L425.0 71.4L425.5 71.5L426.0 71.5L426.5 71.4L427.0 71.0L427.5 70.4L428.0 69.6L428.5 67.7L429.0 64.6L429.5 60.6L430.0 54.5L430.5 54.5L431.0 54.5L431.5 54.5L432.0 54.5L432.5 54.5L433.0 54.5L433.5 54.5L434.0 54.5L434.5 54.5L435.0 54.5L435.5 54.5L436.0 54.5L436.5 54.5L437.0 54.5L437.5 54.5L438.0 54.5L438.5 54.5L439.0 54.5L439.5 54.5L440.0 54.5L440.5 54.5L441.0 54.5L441.5 54.5L442.0 54.5L442.5 54.5L443.0 54.5L443.5 54.5L444.0 56.7L444.5 60.3L445.0 63.7L445.5 67.2L446.0 71.1L446.5 75.1L447.0 79.2L447.5 83.2L448.0 87.3L448.5 91.3L449.0 95.5L449.5 99.7L450.0 103.9L450.5 108.0L451.0 111.6L451.5 114.9L452.0 118.1L452.5 121.0L453.0 123.8L453.5 126.3L454.0 128.5L454.5 130.8L455.0 132.8L455.5 134.0L456.0 133.5L456.5 131.8L457.0 129.2L457.5 126.0L458.0 122.4L458.5 116.8L459.0 109.7L459.5 101.7L460.0 91.5L460.5 81.0L461.0 73.0L461.5 66.4L462.0 65.0L462.5 65.4L463.0 66.1L463.5 67.1L464.0 68.3L464.5 69.8L465.0 71.5L465.5 73.4L466.0 75.4L466.5 77.6L467.0 79.7L467.5 81.9L468.0 84.1L468.5 86.3L469.0 88.4L469.5 90.3L470.0 92.2L470.5 93.8L471.0 95.2L471.5 96.4L472.0 97.3L472.5 97.8L473.0 98.0L473.5 98.0L474.0 97.8L474.5 97.6L475.0 97.4L475.5 97.0L476.0 96.5L476.5 96.0L477.0 94.4L477.5 91.4L478.0 87.6L478.5 83.8L479.0 79.4L479.5 72.8L480.0 54.5L480.5 54.5L481.0 54.5L481.5 54.5L482.0 54.5L482.5 54.5L483.0 54.5L483.5 54.5L484.0 54.5L484.5 54.5L485.0 54.5L485.5 54.5L486.0 54.5L486.5 54.5L487.0 54.5L487.5 54.5L488.0 54.5L488.5 54.5L489.0 54.5L489.5 54.5L490.0 54.5L490.5 54.5L491.0 54.5L491.5 54.5L492.0 54.5L492.5 54.5L493.0 55.3L493.5 56.9L494.0 58.2L494.5 59.4L495.0 60.7L495.5 62.1L496.0 63.7L496.5 65.3L497.0 66.9L497.5 68.6L498.0 70.2L498.5 71.9L499.0 73.5L499.5 75.1L500.0 76.6L500.5 78.1L501.0 79.7L501.5 81.3L502.0 82.9L502.5 84.4L503.0 85.9L503.5 87.2L504.0 88.3L504.5 89.3L505.0 90.0L505.5 90.7L506.0 91.4L506.5 91.9L507.0 92.4L507.5 92.7L508.0 92.8L508.5 92.6L509.0 92.0L509.5 91.2L510.0 90.2L510.5 89.0L511.0 87.8L511.5 86.7L512.0 85.7L512.5 84.8L513.0 84.0L513.5 83.1L514.0 82.3L514.5 81.5L515.0 80.9L515.5 80.6L516.0 80.5L516.5 80.8L517.0 81.2L517.5 81.9L518.0 82.7L518.5 83.7L519.0 84.8L519.5 86.2L520.0 88.3L520.5 90.9L521.0 94.0L521.5 97.5L522.0 102.2L522.5 107.5L523.0 112.8L523.5 118.3L524.0 123.9L524.5 128.4L525.0 130.8L525.5 132.9L526.0 134.7L526.5 136.2L527.0 137.4L527.5 138.1L528.0 138.4L528.5 138.3L529.0 138.0L529.5 137.4L530.0 136.7L530.5 135.7L531.0 134.2L531.5 129.6L532.0 122.2L532.5 108.0L533.0 87.0L533.5 55.1L534.0 54.5L534.5 54.5L535.0 54.5L535.5 54.5L536.0 54.5L536.5 54.5L537.0 54.5L537.5 54.5L538.0 54.5L538.5 54.5L539.0 54.5L539.5 54.5L540.0 54.5L540.5 54.5L541.0 54.5L541.5 54.5L542.0 54.5L542.5 54.5L543.0 54.9L543.5 58.5L544.0 61.6L544.5 64.3L545.0 66.6L545.5 68.7L546.0 70.6L546.5 72.3L547.0 73.9L547.5 75.4L548.0 76.9L548.5 78.3L549.0 79.7L549.5 81.2L550.0 82.6L550.5 84.0L551.0 85.4L551.5 86.7M401.5 54.5L402.0 54.5L402.5 54.5L403.0 54.5L403.5 54.5L404.0 54.5L404.5 54.5L405.0 54.5L405.5 54.5L406.0 54.5L406.5 54.5L407.0 54.5L407.5 54.5L408.0 54.5L408.5 54.5L409.0 54.5L409.5 54.5L410.0 54.5L410.5 54.5L411.0 54.5L411.5 54.5L412.0 54.5L412.5 54.5L413.0 54.5L413.5 54.5L414.0 54.5L414.5 54.5L415.0 54.5L415.5 54.5L416.0 54.5L416.5 54.5L417.0 54.5L417.5 54.5L418.0 54.5L418.5 54.5L419.0 54.5L419.5 54.5L420.0 54.5L420.5 54.5L421.0 54.5L421.5 54.5L422.0 54.5L422.5 54.6L423.0 54.8L423.5 55.0L424.0 55.2L424.5 55.3L425.0 55.4L425.5 55.5L426.0 55.5L426.5 55.4L427.0 55.0L427.5 54.5L428.0 54.5L428.5 54.5L429.0 54.5L429.5 54.5L430.0 54.5L430.5 54.5L431.0 54.5L431.5 54.5L432.0 54.5L432.5 54.5L433.0 54.5L433.5 54.5L434.0 54.5L434.5 54.5L435.0 54.5L435.5 54.5L436.0 54.5L436.5 54.5L437.0 54.5L437.5 54.5L438.0 54.5L438.5 54.5L439.0 54.5L439.5 54.5L440.0 54.5L440.5 54.5L441.0 54.5L441.5 54.5L442.0 54.5L442.5 54.5L443.0 54.5L443.5 54.5L444.0 54.5L444.5 54.5L445.0 54.5L445.5 54.5L446.0 55.1L446.5 59.1L447.0 63.2L447.5 67.2L448.0 71.3L448.5 75.3L449.0 79.5L449.5 83.7L450.0 87.9L450.5 92.0L451.0 95.6L451.5 98.9L452.0 102.1L452.5 105.0L453.0 107.8L453.5 110.3L454.0 112.5L454.5 114.8L455.0 116.8L455.5 118.0L456.0 117.5L456.5 115.8L457.0 113.2L457.5 110.0L458.0 106.4L458.5 100.8L459.0 93.7L459.5 85.7L460.0 75.5L460.5 65.0L461.0 57.0L461.5 54.5L462.0 54.5L462.5 54.5L463.0 54.5L463.5 54.5L464.0 54.5L464.5 54.5L465.0 55.5L465.5 57.4L466.0 59.4L466.5 61.6L467.0 63.7L467.5 65.9L468.0 68.1L468.5 70.3L469.0 72.4L469.5 74.3L470.0 76.2L470.5 77.8L471.0 79.2L471.5 80.4L472.0 81.3L472.5 81.8L473.0 82.0L473.5 82.0L474.0 81.8L474.5 81.6L475.0 81.4L475.5 81.0L476.0 80.5L476.5 80.0L477.0 78.4L477.5 75.4L478.0 71.6L478.5 67.8L479.0 63.4L479.5 56.8L480.0 54.5L480.5 54.5L481.0 54.5L481.5 54.5L482.0 54.5L482.5 54.5L483.0 54.5L483.5 54.5L484.0 54.5L484.5 54.5L485.0 54.5L485.5 54.5L486.0 54.5L486.5 54.5L487.0 54.5L487.5 54.5L488.0 54.5L488.5 54.5L489.0 54.5L489.5 54.5L490.0 54.5L490.5 54.5L491.0 54.5L491.5 54.5L492.0 54.5L492.5 54.5L493.0 54.5L493.5 54.5L494.0 54.5L494.5 54.5L495.0 54.5L495.5 54.5L496.0 54.5L496.5 54.5L497.0 54.5L497.5 54.5L498.0 54.5L498.5 55.9L499.0 57.5L499.5 59.1L500.0 60.6L500.5 62.1L501.0 63.7L501.5 65.3L502.0 66.9L502.5 68.4L503.0 69.9L503.5 71.2L504.0 72.3L504.5 73.3L505.0 74.0L505.5 74.7L506.0 75.4L506.5 75.9L507.0 76.4L507.5 76.7L508.0 76.8L508.5 76.6L509.0 76.0L509.5 75.2L510.0 74.2L510.5 73.0L511.0 71.8L511.5 70.7L512.0 69.7L512.5 68.8L513.0 68.0L513.5 67.1L514.0 66.3L514.5 65.5L515.0 64.9L515.5 64.6L516.0 64.5L516.5 64.8L517.0 65.2L517.5 65.9L518.0 66.7L518.5 67.7L519.0 68.8L519.5 70.2L520.0 72.3L520.5 74.9L521.0 78.0L521.5 81.5L522.0 86.2L522.5 91.5L523.0 96.8L523.5 102.3L524.0 107.9L524.5 112.4L525.0 114.8L525.5 116.9L526.0 118.7L526.5 120.2L527.0 121.4L527.5 122.1L528.0 122.4L528.5 122.3L529.0 122.0L529.5 121.4L530.0 120.7L530.5 119.7L531.0 118.2L531.5 113.6L532.0 106.2L532.5 92.0L533.0 71.0L533.5 54.5L534.0 54.5L534.5 54.5L535.0 54.5L535.5 54.5L536.0 54.5L536.5 54.5L537.0 54.5L537.5 54.5L538.0 54.5L538.5 54.5L539.0 54.5L539.5 54.5L540.0 54.5L540.5 54.5L541.0 54.5L541.5 54.5L542.0 54.5L542.5 54.5L543.0 54.5L543.5 54.5L544.0 54.5L544.5 54.5L545.0 54.5L545.5 54.5L546.0 54.6L546.5 56.3L547.0 57.9L547.5 59.4L548.0 60.9L548.5 62.3L549.0 63.7L549.5 65.2L550.0 66.6L550.5 68.0L551.0 69.4L551.5 70.7M401.5 54.5L402.0 54.5L402.5 54.5L403.0 54.5L403.5 54.5L404.0 54.5L404.5 54.5L405.0 54.5L405.5 54.5L406.0 54.5L406.5 54.5L407.0 54.5L407.5 54.5L408.0 54.5L408.5 54.5L409.0 54.5L409.5 54.5L410.0 54.5L410.5 54.5L411.0 54.5L411.5 54.5L412.0 54.5L412.5 54.5L413.0 54.5L413.5 54.5L414.0 54.5L414.5 54.5L415.0 54.5L415.5 54.5L416.0 54.5L416.5 54.5L417.0 54.5L417.5 54.5L418.0 54.5L418.5 54.5L419.0 54.5L419.5 54.5L420.0 54.5L420.5 54.5L421.0 54.5L421.5 54.5L422.0 54.5L422.5 54.5L423.0 54.5L423.5 54.5L424.0 54.5L424.5 54.5L425.0 54.5L425.5 54.5L426.0 54.5L426.5 54.5L427.0 54.5L427.5 54.5L428.0 54.5L428.5 54.5L429.0 54.5L429.5 54.5L430.0 54.5L430.5 54.5L431.0 54.5L431.5 54.5L432.0 54.5L432.5 54.5L433.0 54.5L433.5 54.5L434.0 54.5L434.5 54.5L435.0 54.5L435.5 54.5L436.0 54.5L436.5 54.5L437.0 54.5L437.5 54.5L438.0 54.5L438.5 54.5L439.0 54.5L439.5 54.5L440.0 54.5L440.5 54.5L441.0 54.5L441.5 54.5L442.0 54.5L442.5 54.5L443.0 54.5L443.5 54.5L444.0 54.5L444.5 54.5L445.0 54.5L445.5 54.5L446.0 54.5L446.5 54.5L447.0 54.5L447.5 54.5L448.0 54.5L448.5 55.3L449.0 59.5L449.5 63.7L450.0 67.9L450.5 72.0L451.0 75.6L451.5 78.9L452.0 82.1L452.5 85.0L453.0 87.8L453.5 90.3L454.0 92.5L454.5 94.8L455.0 96.8L455.5 98.0L456.0 97.5L456.5 95.8L457.0 93.2L457.5 90.0L458.0 86.4L458.5 80.8L459.0 73.7L459.5 65.7L460.0 55.5L460.5 54.5L461.0 54.5L461.5 54.5L462.0 54.5L462.5 54.5L463.0 54.5L463.5 54.5L464.0 54.5L464.5 54.5L465.0 54.5L465.5 54.5L466.0 54.5L466.5 54.5L467.0 54.5L467.5 54.5L468.0 54.5L468.5 54.5L469.0 54.5L469.5 54.5L470.0 56.2L470.5 57.8L471.0 59.2L471.5 60.4L472.0 61.3L472.5 61.8L473.0 62.0L473.5 62.0L474.0 61.8L474.5 61.6L475.0 61.4L475.5 61.0L476.0 60.5L476.5 60.0L477.0 58.4L477.5 55.4L478.0 54.5L478.5 54.5L479.0 54.5L479.5 54.5L480.0 54.5L480.5 54.5L481.0 54.5L481.5 54.5L482.0 54.5L482.5 54.5L483.0 54.5L483.5 54.5L484.0 54.5L484.5 54.5L485.0 54.5L485.5 54.5L486.0 54.5L486.5 54.5L487.0 54.5L487.5 54.5L488.0 54.5L488.5 54.5L489.0 54.5L489.5 54.5L490.0 54.5L490.5 54.5L491.0 54.5L491.5 54.5L492.0 54.5L492.5 54.5L493.0 54.5L493.5 54.5L494.0 54.5L494.5 54.5L495.0 54.5L495.5 54.5L496.0 54.5L496.5 54.5L497.0 54.5L497.5 54.5L498.0 54.5L498.5 54.5L499.0 54.5L499.5 54.5L500.0 54.5L500.5 54.5L501.0 54.5L501.5 54.5L502.0 54.5L502.5 54.5L503.0 54.5L503.5 54.5L504.0 54.5L504.5 54.5L505.0 54.5L505.5 54.7L506.0 55.4L506.5 55.9L507.0 56.4L507.5 56.7L508.0 56.8L508.5 56.6L509.0 56.0L509.5 55.2L510.0 54.5L510.5 54.5L511.0 54.5L511.5 54.5L512.0 54.5L512.5 54.5L513.0 54.5L513.5 54.5L514.0 54.5L514.5 54.5L515.0 54.5L515.5 54.5L516.0 54.5L516.5 54.5L517.0 54.5L517.5 54.5L518.0 54.5L518.5 54.5L519.0 54.5L519.5 54.5L520.0 54.5L520.5 54.9L521.0 58.0L521.5 61.5L522.0 66.2L522.5 71.5L523.0 76.8L523.5 82.3L524.0 87.9L524.5 92.4L525.0 94.8L525.5 96.9L526.0 98.7L526.5 100.2L527.0 101.4L527.5 102.1L528.0 102.4L528.5 102.3L529.0 102.0L529.5 101.4L530.0 100.7L530.5 99.7L531.0 98.2L531.5 93.6L532.0 86.2L532.5 72.0L533.0 54.5L533.5 54.5L534.0 54.5L534.5 54.5L535.0 54.5L535.5 54.5L536.0 54.5L536.5 54.5L537.0 54.5L537.5 54.5L538.0 54.5L538.5 54.5L539.0 54.5L539.5 54.5L540.0 54.5L540.5 54.5L541.0 54.5L541.5 54.5L542.0 54.5L542.5 54.5L543.0 54.5L543.5 54.5L544.0 54.5L544.5 54.5L545.0 54.5L545.5 54.5L546.0 54.5L546.5 54.5L547.0 54.5L547.5 54.5L548.0 54.5L548.5 54.5L549.0 54.5L549.5 54.5L550.0 54.5L550.5 54.5L551.0 54.5L551.5 54.5M401.5 54.5L402.0 54.5L402.5 54.5L403.0 54.5L403.5 54.5L404.0 54.5L404.5 54.5L405.0 54.5L405.5 54.5L406.0 54.5L406.5 54.5L407.0 54.5L407.5 54.5L408.0 54.5L408.5 54.5L409.0 54.5L409.5 54.5L410.0 54.5L410.5 54.5L411.0 54.5L411.5 54.5L412.0 54.5L412.5 54.5L413.0 54.5L413.5 54.5L414.0 54.5L414.5 54.5L415.0 54.5L415.5 54.5L416.0 54.5L416.5 54.5L417.0 54.5L417.5 54.5L418.0 54.5L418.5 54.5L419.0 54.5L419.5 54.5L420.0 54.5L420.5 54.5L421.0 54.5L421.5 54.5L422.0 54.5L422.5 54.5L423.0 54.5L423.5 54.5L424.0 54.5L424.5 54.5L425.0 54.5L425.5 54.5L426.0 54.5L426.5 54.5L427.0 54.5L427.5 54.5L428.0 54.5L428.5 54.5L429.0 54.5L429.5 54.5L430.0 54.5L430.5 54.5L431.0 54.5L431.5 54.5L432.0 54.5L432.5 54.5L433.0 54.5L433.5 54.5L434.0 54.5L434.5 54.5L435.0 54.5L435.5 54.5L436.0 54.5L436.5 54.5L437.0 54.5L437.5 54.5L438.0 54.5L438.5 54.5L439.0 54.5L439.5 54.5L440.0 54.5L440.5 54.5L441.0 54.5L441.5 54.5L442.0 54.5L442.5 54.5L443.0 54.5L443.5 54.5L444.0 54.5L444.5 54.5L445.0 54.5L445.5 54.5L446.0 54.5L446.5 54.5L447.0 54.5L447.5 54.5L448.0 54.5L448.5 54.5L449.0 54.5L449.5 54.5L450.0 54.5L450.5 54.5L451.0 54.5L451.5 54.5L452.0 57.1L452.5 60.0L453.0 62.8L453.5 65.3L454.0 67.5L454.5 69.8L455.0 71.8L455.5 73.0L456.0 72.5L456.5 70.8L457.0 68.2L457.5 65.0L458.0 61.4L458.5 55.8L459.0 54.5L459.5 54.5L460.0 54.5L460.5 54.5L461.0 54.5L461.5 54.5L462.0 54.5L462.5 54.5L463.0 54.5L463.5 54.5L464.0 54.5L464.5 54.5L465.0 54.5L465.5 54.5L466.0 54.5L466.5 54.5L467.0 54.5L467.5 54.5L468.0 54.5L468.5 54.5L469.0 54.5L469.5 54.5L470.0 54.5L470.5 54.5L471.0 54.5L471.5 54.5L472.0 54.5L472.5 54.5L473.0 54.5L473.5 54.5L474.0 54.5L474.5 54.5L475.0 54.5L475.5 54.5L476.0 54.5L476.5 54.5L477.0 54.5L477.5 54.5L478.0 54.5L478.5 54.5L479.0 54.5L479.5 54.5L480.0 54.5L480.5 54.5L481.0 54.5L481.5 54.5L482.0 54.5L482.5 54.5L483.0 54.5L483.5 54.5L484.0 54.5L484.5 54.5L485.0 54.5L485.5 54.5L486.0 54.5L486.5 54.5L487.0 54.5L487.5 54.5L488.0 54.5L488.5 54.5L489.0 54.5L489.5 54.5L490.0 54.5L490.5 54.5L491.0 54.5L491.5 54.5L492.0 54.5L492.5 54.5L493.0 54.5L493.5 54.5L494.0 54.5L494.5 54.5L495.0 54.5L495.5 54.5L496.0 54.5L496.5 54.5L497.0 54.5L497.5 54.5L498.0 54.5L498.5 54.5L499.0 54.5L499.5 54.5L500.0 54.5L500.5 54.5L501.0 54.5L501.5 54.5L502.0 54.5L502.5 54.5L503.0 54.5L503.5 54.5L504.0 54.5L504.5 54.5L505.0 54.5L505.5 54.5L506.0 54.5L506.5 54.5L507.0 54.5L507.5 54.5L508.0 54.5L508.5 54.5L509.0 54.5L509.5 54.5L510.0 54.5L510.5 54.5L511.0 54.5L511.5 54.5L512.0 54.5L512.5 54.5L513.0 54.5L513.5 54.5L514.0 54.5L514.5 54.5L515.0 54.5L515.5 54.5L516.0 54.5L516.5 54.5L517.0 54.5L517.5 54.5L518.0 54.5L518.5 54.5L519.0 54.5L519.5 54.5L520.0 54.5L520.5 54.5L521.0 54.5L521.5 54.5L522.0 54.5L522.5 54.5L523.0 54.5L523.5 57.3L524.0 62.9L524.5 67.4L525.0 69.8L525.5 71.9L526.0 73.7L526.5 75.2L527.0 76.4L527.5 77.1L528.0 77.4L528.5 77.3L529.0 77.0L529.5 76.4L530.0 75.7L530.5 74.7L531.0 73.2L531.5 68.6L532.0 61.2L532.5 54.5L533.0 54.5L533.5 54.5L534.0 54.5L534.5 54.5L535.0 54.5L535.5 54.5L536.0 54.5L536.5 54.5L537.0 54.5L537.5 54.5L538.0 54.5L538.5 54.5L539.0 54.5L539.5 54.5L540.0 54.5L540.5 54.5L541.0 54.5L541.5 54.5L542.0 54.5L542.5 54.5L543.0 54.5L543.5 54.5L544.0 54.5L544.5 54.5L545.0 54.5L545.5 54.5L546.0 54.5L546.5 54.5L547.0 54.5L547.5 54.5L548.0 54.5L548.5 54.5L549.0 54.5L549.5 54.5L550.0 54.5L550.5 54.5L551.0 54.5L551.5 54.5M401.5 239.5L402.0 238.3L402.5 237.2L403.0 236.1L403.5 235.0L404.0 234.0L404.5 232.9L405.0 231.8L405.5 230.7L406.0 229.5L406.5 228.3L407.0 227.1L407.5 225.8L408.0 224.4L408.5 223.0L409.0 221.4L409.5 219.7L410.0 218.0L410.5 216.3L411.0 214.5L411.5 212.7L412.0 211.0L412.5 209.3L413.0 207.7L413.5 206.2L414.0 204.5L414.5 202.7L415.0 200.8L415.5 199.0L416.0 197.4L416.5 195.9L417.0 194.9L417.5 194.2L418.0 194.0L418.5 194.3L419.0 195.1L419.5 196.2L420.0 197.6L420.5 199.3L421.0 201.2L421.5 203.1L422.0 205.2L422.5 207.2L423.0 209.7L423.5 212.8L424.0 216.3L424.5 220.1L425.0 224.2L425.5 228.3L426.0 232.3L426.5 236.2L427.0 239.7L427.5 243.0L428.0 246.2L428.5 249.3L429.0 252.4L429.5 255.5L430.0 258.6L430.5 261.7L431.0 265.0L431.5 268.5L432.0 272.1L432.5 275.8L433.0 279.4L433.5 282.8L434.0 285.7L434.5 288.5L435.0 291.4L435.5 294.2L436.0 296.7L436.5 298.7L437.0 300.0L437.5 300.3L438.0 299.5L438.5 297.9L439.0 295.6L439.5 292.9L440.0 290.1L440.5 287.3L441.0 284.6L441.5 281.3L442.0 277.5L442.5 273.6L443.0 269.9L443.5 267.0L444.0 265.3L444.5 265.1L445.0 265.8L445.5 267.1L446.0 268.9L446.5 271.1L447.0 273.5L447.5 276.0L448.0 278.6L448.5 281.9L449.0 285.8L449.5 290.1L450.0 294.5L450.5 298.8L451.0 302.8L451.5 306.7L452.0 310.6L452.5 314.6L453.0 318.5L453.5 322.1L454.0 325.5L454.5 328.5L455.0 331.4L455.5 334.4L456.0 337.3L456.5 340.1L457.0 342.7L457.5 344.8L458.0 346.4L458.5 347.2L459.0 347.3L459.5 346.6L460.0 345.2L460.5 343.2L461.0 340.7L461.5 338.0L462.0 335.0L462.5 332.0L463.0 329.1L463.5 326.0L464.0 322.4L464.5 318.3L465.0 313.9L465.5 309.3L466.0 304.7L466.5 300.0L467.0 295.6L467.5 291.4L468.0 287.7L468.5 284.5L469.0 281.6L469.5 278.9L470.0 276.4L470.5 274.0L471.0 271.7L471.5 269.4L472.0 267.0L472.5 264.6L473.0 262.1L473.5 259.4L474.0 256.5L474.5 253.5L475.0 250.3L475.5 247.1L476.0 243.9L476.5 240.9L477.0 238.0L477.5 235.3L478.0 232.8L478.5 230.3L479.0 227.8L479.5 225.4L480.0 223.1L480.5 221.1L481.0 219.3L481.5 217.9L482.0 217.0L482.5 216.4L483.0 215.9L483.5 215.5L484.0 215.2L484.5 214.9L485.0 214.6L485.5 214.3L486.0 213.9L486.5 213.5L487.0 213.0L487.5 212.3L488.0 211.5L488.5 210.6L489.0 209.6L489.5 208.5L490.0 207.3L490.5 206.0L491.0 204.5L491.5 202.7L492.0 200.8L492.5 198.7L493.0 196.6L493.5 194.7L494.0 192.9L494.5 190.8L495.0 188.6L495.5 186.8L496.0 185.4L496.5 184.9L497.0 185.4L497.5 186.6L498.0 188.4L498.5 190.6L499.0 193.0L499.5 195.7L500.0 199.3L500.5 203.7L501.0 208.5L501.5 213.3L502.0 217.8L502.5 222.2L503.0 226.8L503.5 231.4L504.0 235.5L504.5 238.7L505.0 241.0L505.5 243.2L506.0 245.3L506.5 247.1L507.0 248.6L507.5 249.8L508.0 250.5L508.5 250.7L509.0 250.0L509.5 248.4L510.0 246.3L510.5 244.0L511.0 241.6L511.5 239.5L512.0 237.9L512.5 236.6L513.0 235.4L513.5 234.5L514.0 234.2L514.5 234.6L515.0 235.4L515.5 236.6L516.0 238.1L516.5 239.8L517.0 241.6L517.5 243.4L518.0 245.5L518.5 248.3L519.0 251.4L519.5 254.8L520.0 258.2L520.5 261.4L521.0 264.3L521.5 266.8L522.0 269.4L522.5 272.0L523.0 274.7L523.5 277.3L524.0 279.8L524.5 282.0L525.0 284.0L525.5 285.5L526.0 286.6L526.5 287.1L527.0 287.2L527.5 287.0L528.0 286.6L528.5 286.1L529.0 285.5L529.5 284.8L530.0 284.1L530.5 283.2L531.0 281.8L531.5 279.9L532.0 277.5L532.5 274.8L533.0 271.9L533.5 268.9L534.0 266.0L534.5 263.3L535.0 260.9L535.5 258.9L536.0 257.4L536.5 256.0L537.0 254.6L537.5 253.4L538.0 252.2L538.5 251.4L539.0 250.8L539.5 250.7L540.0 251.2L540.5 252.3L541.0 253.8L541.5 255.6L542.0 257.5L542.5 259.5L543.0 261.4L543.5 263.3L544.0 265.6L544.5 268.2L545.0 270.8L545.5 273.2L546.0 275.0L546.5 276.1L547.0 276.2L547.5 275.6L548.0 274.3L548.5 272.6L549.0 270.7L549.5 268.6L550.0 266.7L550.5 265.0L551.0 263.4L551.5 261.7M401.5 351.4L402.0 347.7L402.5 343.1L403.0 337.9L403.5 332.8L404.0 328.3L404.5 324.8L405.0 322.7L405.5 321.0L406.0 319.4L406.5 318.0L407.0 316.7L407.5 315.5L408.0 314.5L408.5 313.6L409.0 313.0L409.5 312.5L410.0 312.3L410.5 312.2L411.0 312.1L411.5 312.0L412.0 311.9L412.5 311.8L413.0 311.7L413.5 311.6L414.0 311.6L414.5 311.5L415.0 311.5L415.5 311.4L416.0 311.4L416.5 311.4L417.0 311.4L417.5 311.6L418.0 312.0L418.5 312.6L419.0 313.3L419.5 314.2L420.0 315.2L420.5 316.3L421.0 317.5L421.5 318.7L422.0 320.0L422.5 321.5L423.0 323.5L423.5 325.9L424.0 328.6L424.5 331.5L425.0 334.5L425.5 337.6L426.0 341.1L426.5 345.0L427.0 349.3L427.5 353.6L428.0 358.0L428.5 362.5L429.0 367.2L429.5 372.0L430.0 376.8L430.5 381.4L431.0 386.2L431.5 391.1L432.0 395.9L432.5 400.6L433.0 404.9L433.5 408.8L434.0 412.0L434.5 414.9L435.0 417.9L435.5 420.8L436.0 423.4L436.5 425.6L437.0 427.4L437.5 428.4L438.0 428.7L438.5 428.1L439.0 426.7L439.5 424.8L440.0 422.4L440.5 419.7L441.0 416.8L441.5 414.0L442.0 411.2L442.5 408.8L443.0 406.8L443.5 405.0L444.0 403.0L444.5 401.0L445.0 399.2L445.5 397.6L446.0 396.3L446.5 395.5L447.0 395.3L447.5 396.1L448.0 397.9L448.5 400.4L449.0 403.6L449.5 407.2L450.0 411.0L450.5 415.0L451.0 418.8L451.5 422.3L452.0 425.4L452.5 428.5L453.0 432.0L453.5 435.6L454.0 439.3L454.5 443.1L455.0 446.7L455.5 450.1L456.0 453.2L456.5 456.0L457.0 458.2L457.5 459.8L458.0 460.6L458.5 460.7L459.0 459.8L459.5 458.1L460.0 455.6L460.5 452.6L461.0 449.1L461.5 445.2L462.0 441.2L462.5 437.1L463.0 433.1L463.5 429.2L464.0 424.7L464.5 419.3L465.0 413.3L465.5 406.9L466.0 400.6L466.5 394.5L467.0 389.0L467.5 384.4L468.0 380.9L468.5 378.8L469.0 377.9L469.5 377.2L470.0 376.6L470.5 376.0L471.0 375.6L471.5 375.2L472.0 374.9L472.5 374.7L473.0 374.4L473.5 374.3L474.0 374.2L474.5 374.1L475.0 374.0L475.5 373.8L476.0 373.6L476.5 373.2L477.0 371.9L477.5 369.7L478.0 366.9L478.5 363.6L479.0 360.2L479.5 356.8L480.0 353.6L480.5 350.6L481.0 347.5L481.5 344.1L482.0 340.7L482.5 337.3L483.0 333.9L483.5 330.6L484.0 327.4L484.5 324.5L485.0 321.9L485.5 319.6L486.0 317.4L486.5 315.3L487.0 313.3L487.5 311.4L488.0 309.6L488.5 308.0L489.0 306.4L489.5 305.1L490.0 303.8L490.5 302.8L491.0 301.9L491.5 300.9L492.0 300.0L492.5 299.1L493.0 298.3L493.5 297.6L494.0 297.0L494.5 296.5L495.0 296.2L495.5 296.0L496.0 296.1L496.5 296.8L497.0 298.1L497.5 299.7L498.0 301.6L498.5 303.7L499.0 305.9L499.5 308.1L500.0 310.8L500.5 314.0L501.0 317.6L501.5 321.6L502.0 326.5L502.5 332.8L503.0 340.0L503.5 349.1L504.0 359.0L504.5 365.7L505.0 369.3L505.5 372.6L506.0 375.5L506.5 377.9L507.0 379.9L507.5 381.3L508.0 382.2L508.5 382.4L509.0 382.1L509.5 381.5L510.0 380.5L510.5 379.4L511.0 378.0L511.5 376.5L512.0 374.9L512.5 373.2L513.0 371.6L513.5 370.1L514.0 368.7L514.5 367.6L515.0 366.6L515.5 366.0L516.0 365.7L516.5 365.8L517.0 366.3L517.5 367.0L518.0 368.1L518.5 369.3L519.0 370.6L519.5 372.1L520.0 373.5L520.5 375.0L521.0 376.5L521.5 377.8L522.0 379.0L522.5 379.9L523.0 380.6L523.5 381.0L524.0 381.1L524.5 380.6L525.0 379.8L525.5 378.5L526.0 377.0L526.5 375.3L527.0 373.4L527.5 371.5L528.0 369.5L528.5 367.5L529.0 365.7L529.5 363.7L530.0 361.4L530.5 358.8L531.0 356.0L531.5 353.1L532.0 350.2L532.5 347.4L533.0 344.8L533.5 342.5L534.0 340.6L534.5 339.1L535.0 338.2L535.5 338.0L536.0 338.4L536.5 339.2L537.0 340.5L537.5 342.1L538.0 344.0L538.5 346.1L539.0 348.4L539.5 350.7L540.0 353.1L540.5 355.4L541.0 358.1L541.5 361.7L542.0 365.8L542.5 370.2L543.0 374.7L543.5 379.1L544.0 383.0L544.5 386.3L545.0 388.7L545.5 389.9L546.0 389.9L546.5 389.2L547.0 387.9L547.5 386.1L548.0 383.8L548.5 381.2L549.0 378.2L549.5 374.9L550.0 371.5L550.5 367.9L551.0 364.0L551.5 358.4M401.5 565.2L402.0 562.0L402.5 557.4L403.0 551.3L403.5 544.7L404.0 539.0L404.5 535.4L405.0 533.3L405.5 531.3L406.0 529.4L406.5 527.8L407.0 526.3L407.5 525.0L408.0 524.0L408.5 523.2L409.0 522.7L409.5 522.5L410.0 522.5L410.5 522.5L411.0 522.6L411.5 522.7L412.0 522.8L412.5 523.0L413.0 523.1L413.5 523.3L414.0 523.5L414.5 523.7L415.0 523.9L415.5 524.1L416.0 524.4L416.5 524.6L417.0 524.8L417.5 525.0L418.0 525.3L418.5 525.5L419.0 525.8L419.5 526.2L420.0 526.5L420.5 527.0L421.0 527.5L421.5 528.1L422.0 529.0L422.5 530.2L423.0 531.7L423.5 533.4L424.0 535.3L424.5 537.3L425.0 539.5L425.5 541.8L426.0 544.2L426.5 546.7L427.0 549.6L427.5 553.0L428.0 556.7L428.5 560.7L429.0 565.0L429.5 570.2L430.0 576.4L430.5 582.9L431.0 588.8L431.5 593.4L432.0 597.0L432.5 600.6L433.0 604.0L433.5 607.4L434.0 610.5L434.5 613.5L435.0 616.2L435.5 618.6L436.0 620.6L436.5 622.2L437.0 623.4L437.5 624.1L438.0 624.3L438.5 623.9L439.0 623.0L439.5 621.6L440.0 620.0L440.5 618.0L441.0 615.9L441.5 613.7L442.0 611.4L442.5 609.2L443.0 607.2L443.5 605.4L444.0 604.0L444.5 602.7L445.0 601.4L445.5 600.0L446.0 598.8L446.5 597.7L447.0 596.8L447.5 596.2L448.0 596.0L448.5 596.4L449.0 597.7L449.5 599.5L450.0 601.8L450.5 604.3L451.0 607.0L451.5 609.5L452.0 611.9L452.5 614.4L453.0 617.4L453.5 620.7L454.0 624.0L454.5 627.3L455.0 630.4L455.5 633.0L456.0 635.1L456.5 636.5L457.0 637.0L457.5 636.7L458.0 635.9L458.5 634.7L459.0 633.0L459.5 631.1L460.0 629.0L460.5 626.6L461.0 624.2L461.5 621.8L462.0 619.5L462.5 617.0L463.0 614.0L463.5 610.6L464.0 606.8L464.5 602.8L465.0 598.7L465.5 594.6L466.0 590.6L466.5 586.8L467.0 583.3L467.5 580.2L468.0 577.6L468.5 575.7L469.0 574.3L469.5 572.9L470.0 571.8L470.5 570.9L471.0 570.4L471.5 570.1L472.0 570.0L472.5 569.8L473.0 569.8L473.5 569.7L474.0 569.6L474.5 569.6L475.0 569.5L475.5 569.3L476.0 569.1L476.5 568.8L477.0 567.7L477.5 565.5L478.0 562.5L478.5 558.7L479.0 552.7L479.5 537.0L480.0 521.8L480.5 514.5L481.0 508.3L481.5 503.3L482.0 499.5L482.5 497.2L483.0 496.4L483.5 495.9L484.0 495.4L484.5 495.0L485.0 494.6L485.5 494.4L486.0 494.3L486.5 494.2L487.0 494.5L487.5 495.7L488.0 497.5L488.5 499.8L489.0 502.5L489.5 505.2L490.0 507.8L490.5 510.1L491.0 512.4L491.5 514.8L492.0 517.3L492.5 519.8L493.0 522.3L493.5 524.9L494.0 527.4L494.5 529.9L495.0 532.5L495.5 534.9L496.0 537.4L496.5 540.1L497.0 542.9L497.5 545.6L498.0 548.2L498.5 550.4L499.0 552.3L499.5 553.6L500.0 554.8L500.5 555.8L501.0 556.9L501.5 557.8L502.0 558.7L502.5 559.4L503.0 560.1L503.5 560.5L504.0 560.9L504.5 561.0L505.0 560.9L505.5 560.4L506.0 559.6L506.5 558.5L507.0 557.3L507.5 556.0L508.0 554.7L508.5 553.4L509.0 552.2L509.5 551.1L510.0 550.3L510.5 549.4L511.0 548.6L511.5 547.7L512.0 546.8L512.5 545.9L513.0 545.0L513.5 544.2L514.0 543.4L514.5 542.7L515.0 542.0L515.5 541.5L516.0 541.1L516.5 540.7L517.0 540.5L517.5 540.5L518.0 540.7L518.5 541.0L519.0 541.5L519.5 542.1L520.0 542.9L520.5 543.7L521.0 544.6L521.5 545.4L522.0 546.3L522.5 547.1L523.0 547.9L523.5 548.5L524.0 549.0L524.5 549.3L525.0 549.5L525.5 549.4L526.0 548.9L526.5 548.2L527.0 547.1L527.5 545.9L528.0 544.5L528.5 542.9L529.0 541.3L529.5 539.6L530.0 537.9L530.5 536.2L531.0 534.6L531.5 533.1L532.0 531.8L532.5 530.7L533.0 529.8L533.5 529.3L534.0 529.0L534.5 529.2L535.0 529.8L535.5 530.9L536.0 532.3L536.5 534.0L537.0 535.9L537.5 538.0L538.0 540.2L538.5 542.3L539.0 544.5L539.5 546.5L540.0 548.7L540.5 551.0L541.0 553.6L541.5 556.2L542.0 559.0L542.5 562.0L543.0 565.2L543.5 568.7L544.0 572.4L544.5 576.2L545.0 580.1L545.5 584.1L546.0 588.4L546.5 593.8L547.0 599.0L547.5 602.1L548.0 601.8L548.5 598.4L549.0 592.7L549.5 585.7L550.0 572.5L550.5 557.4L551.0 545.0L551.5 533.7" fill="none" stroke="#000" stroke-width="1.15" stroke-linejoin="round"/><path d="M400.0 76.0C400.3 76.1 401.1 76.0 402.0 76.5C402.9 77.0 404.3 79.0 405.6 79.2C406.9 79.4 409.0 78.0 409.7 77.8M426.0 85.5C426.3 85.2 427.2 86.0 427.8 84.0C428.4 82.0 429.2 77.0 429.6 73.7C430.0 70.5 429.8 70.1 430.2 64.5C430.6 58.9 431.0 50.8 432.0 40.0C433.0 29.2 434.7 5.0 436.0 0.0C437.3 -5.0 439.0 2.5 440.0 10.0C441.0 17.5 441.4 35.9 442.0 45.0C442.6 54.1 442.7 58.3 443.3 64.5C443.9 70.7 444.8 75.3 445.6 82.0C446.5 88.7 447.5 97.0 448.4 104.5C449.3 112.0 450.3 120.7 451.2 127.0C452.1 133.3 453.3 139.0 454.0 142.5C454.7 146.0 455.0 148.8 455.6 148.0C456.2 147.2 457.2 143.4 457.8 138.0C458.4 132.6 459.0 123.1 459.5 115.7C460.0 108.3 460.2 99.5 460.6 93.4C461.0 87.3 461.6 81.4 461.8 79.0M473.0 112.0C473.6 111.7 475.6 112.0 476.5 110.0C477.4 108.0 477.7 104.2 478.2 100.0C478.7 95.8 479.3 90.9 479.6 85.0C479.9 79.1 479.7 72.0 480.1 64.5C480.5 57.0 481.0 49.1 482.0 40.0C483.0 30.9 484.7 10.0 486.0 10.0C487.3 10.0 489.0 30.9 490.0 40.0C491.0 49.1 490.9 58.4 491.9 64.5C492.8 70.6 494.3 72.2 495.7 76.7C497.1 81.2 498.7 86.8 500.2 91.2C501.7 95.7 503.3 100.8 504.6 103.4C505.9 106.0 506.7 107.5 508.0 106.8C509.3 106.1 511.1 101.0 512.4 99.0C513.7 97.0 514.7 94.5 515.8 94.5C516.9 94.5 518.2 96.4 519.1 99.0C520.0 101.6 520.6 105.4 521.3 110.0C521.9 114.6 522.4 121.2 523.0 126.8C523.6 132.4 523.9 139.2 524.7 143.5C525.5 147.8 527.0 151.5 528.0 152.4C529.0 153.3 530.1 151.4 530.8 149.0C531.4 146.6 531.7 139.8 531.9 138.0M533.0 101.0C533.0 97.9 533.2 88.4 533.3 82.3C533.4 76.2 533.3 71.5 533.6 64.5C533.9 57.5 534.3 49.1 535.0 40.0C535.7 30.9 537.0 10.0 538.0 10.0C539.0 10.0 540.2 30.9 541.0 40.0C541.8 49.1 541.8 57.7 542.5 64.5C543.2 71.3 543.9 75.6 545.0 80.6C546.1 85.6 548.0 90.7 549.2 94.3C550.4 97.9 551.5 100.7 552.0 102.0M400.0 192.0C400.2 191.4 400.4 191.2 401.4 188.5C402.4 185.8 404.3 180.6 406.0 175.7C407.7 170.8 409.7 163.9 411.5 159.3C413.3 154.7 415.3 148.9 417.0 148.3C418.7 147.7 420.1 151.0 421.5 155.6C422.9 160.2 424.1 168.4 425.2 175.7C426.3 183.0 426.8 192.2 427.9 199.5C429.0 206.8 430.5 214.7 431.6 219.6C432.7 224.5 433.2 228.4 434.3 228.7C435.4 229.0 437.1 224.4 438.0 221.4C438.9 218.4 439.5 212.3 439.8 210.5M447.8 214.0C448.3 217.7 449.7 228.7 450.8 236.0C451.9 243.3 453.2 251.3 454.4 258.0C455.6 264.7 456.8 275.7 458.0 276.3C459.2 276.9 460.3 267.8 461.7 261.7C463.1 255.6 464.6 247.9 466.3 239.7C468.0 231.5 470.0 221.4 471.8 212.3C473.6 203.2 475.5 193.1 477.3 184.9C479.1 176.7 481.0 169.4 482.8 162.9C484.6 156.4 486.4 151.5 488.3 146.0C490.2 140.5 492.5 130.8 494.0 130.0C495.5 129.2 496.4 136.4 497.4 141.0C498.4 145.6 499.3 152.7 500.1 157.4C500.9 162.1 501.7 167.3 502.0 169.3M516.3 183.5C516.8 186.8 518.3 196.1 519.3 203.0C520.3 209.9 521.2 218.3 522.1 225.0C523.0 231.7 523.9 239.1 524.8 243.4C525.7 247.7 526.4 251.3 527.6 250.7C528.8 250.1 530.7 244.6 532.1 239.7C533.5 234.8 534.6 227.5 535.8 221.4C537.0 215.3 538.2 204.5 539.4 203.0C540.6 201.5 541.9 208.3 543.1 212.3C544.3 216.3 545.4 226.1 546.8 227.0C548.2 227.9 550.4 220.0 551.3 217.8C552.2 215.6 551.9 214.6 552.0 214.0" fill="none" stroke="#000" stroke-width="4.6" stroke-linejoin="round" stroke-linecap="butt"/></g><clipPath id="cs3"><rect x="748.5" y="64.5" width="145.5" height="715.0"/></clipPath><g clip-path="url(#cs3)"><path d="M748.5 208.4L749.0 202.7L749.5 195.8L750.0 188.3L750.5 180.0L751.0 172.8L751.5 167.1L752.0 162.0L752.5 157.2L753.0 152.8L753.5 148.5L754.0 144.0L754.5 139.1L755.0 134.3L755.5 129.8L756.0 126.1L756.5 123.6L757.0 121.9L757.5 120.4L758.0 119.2L758.5 118.1L759.0 117.3L759.5 116.6L760.0 115.9L760.5 115.3L761.0 114.8L761.5 114.4L762.0 114.0L762.5 113.7L763.0 113.4L763.5 113.3L764.0 113.3L764.5 113.4L765.0 113.5L765.5 113.7L766.0 113.8L766.5 113.9L767.0 113.9L767.5 113.8L768.0 113.7L768.5 113.5L769.0 113.4L769.5 113.2L770.0 112.9L770.5 112.7L771.0 112.3L771.5 111.9L772.0 111.4L772.5 110.8L773.0 110.0L773.5 109.1L774.0 108.2L774.5 107.2L775.0 106.2L775.5 104.2L776.0 101.3L776.5 97.8L777.0 94.7L777.5 93.0L778.0 91.9L778.5 90.6L779.0 88.4L779.5 80.8L780.0 72.0L780.5 66.4L781.0 61.8L781.5 59.9L782.0 61.7L782.5 66.1L783.0 71.6L783.5 81.7L784.0 88.2L784.5 89.9L785.0 91.2L785.5 92.1L786.0 92.8L786.5 93.2L787.0 93.4L787.5 93.1L788.0 92.6L788.5 91.9L789.0 91.1L789.5 90.2L790.0 89.5L790.5 88.8L791.0 88.3L791.5 87.9L792.0 87.5L792.5 87.1L793.0 86.7L793.5 86.3L794.0 85.9L794.5 85.7L795.0 85.8L795.5 86.0L796.0 86.3L796.5 86.7L797.0 87.1L797.5 87.7L798.0 88.4L798.5 89.3L799.0 90.3L799.5 91.5L800.0 92.9L800.5 94.5L801.0 96.2L801.5 98.0L802.0 99.9L802.5 101.9L803.0 103.9L803.5 106.1L804.0 108.6L804.5 111.4L805.0 114.4L805.5 117.6L806.0 121.2L806.5 124.9L807.0 128.5L807.5 132.1L808.0 136.0L808.5 140.0L809.0 144.1L809.5 147.8L810.0 151.3L810.5 154.6L811.0 157.7L811.5 160.4L812.0 163.0L812.5 165.3L813.0 167.6L813.5 169.7L814.0 171.7L814.5 173.6L815.0 175.4L815.5 177.1L816.0 178.8L816.5 180.4L817.0 181.9L817.5 183.3L818.0 184.7L818.5 186.0L819.0 187.3L819.5 188.4L820.0 189.5L820.5 190.4L821.0 191.3L821.5 192.2L822.0 193.0L822.5 193.8L823.0 194.8L823.5 195.8L824.0 196.8L824.5 197.4L825.0 197.4L825.5 196.9L826.0 195.9L826.5 194.6L827.0 193.1L827.5 191.4L828.0 189.7L828.5 188.0L829.0 186.4L829.5 184.9L830.0 183.3L830.5 181.6L831.0 179.9L831.5 178.2L832.0 176.5L832.5 174.7L833.0 172.9L833.5 171.1L834.0 169.3L834.5 167.4L835.0 165.4L835.5 163.3L836.0 161.1L836.5 158.8L837.0 156.4L837.5 153.9L838.0 151.3L838.5 148.7L839.0 145.9L839.5 143.0L840.0 139.9L840.5 136.7L841.0 133.3L841.5 129.8L842.0 126.0L842.5 122.1L843.0 117.6L843.5 112.3L844.0 105.3L844.5 94.9L845.0 85.2L845.5 76.8L846.0 69.1L846.5 62.4L847.0 56.4L847.5 54.5L848.0 54.5L848.5 54.5L849.0 54.5L849.5 54.5L850.0 54.5L850.5 54.5L851.0 54.5L851.5 54.5L852.0 54.5L852.5 55.4L853.0 60.9L853.5 66.3L854.0 72.7L854.5 80.3L855.0 87.5L855.5 93.2L856.0 97.9L856.5 102.1L857.0 105.8L857.5 109.3L858.0 112.8L858.5 116.6L859.0 120.7L859.5 124.5L860.0 127.3L860.5 128.6L861.0 128.5L861.5 127.9L862.0 126.9L862.5 125.6L863.0 124.2L863.5 122.6L864.0 120.7L864.5 118.1L865.0 115.2L865.5 112.1L866.0 109.3L866.5 106.6L867.0 103.7L867.5 100.4L868.0 97.2L868.5 93.8L869.0 90.7L869.5 88.5L870.0 86.7L870.5 85.2L871.0 83.9L871.5 82.9L872.0 82.5L872.5 82.5L873.0 83.0L873.5 84.2L874.0 86.0L874.5 88.8L875.0 92.4L875.5 96.5L876.0 100.8L876.5 105.0L877.0 109.1L877.5 113.0L878.0 116.7L878.5 119.9L879.0 122.7L879.5 124.8L880.0 126.8L880.5 128.7L881.0 130.3L881.5 131.7L882.0 132.6L882.5 133.4L883.0 134.1L883.5 134.8L884.0 135.4L884.5 135.8L885.0 136.1L885.5 136.2L886.0 136.2L886.5 136.1L887.0 135.9L887.5 135.7L888.0 135.4L888.5 135.1L889.0 134.8L889.5 134.6L890.0 134.3L890.5 134.1L891.0 133.9L891.5 133.9L892.0 133.8L892.5 133.9L893.0 133.9L893.5 133.9L894.0 133.9M748.5 221.8L749.0 216.5L749.5 210.1L750.0 203.4L750.5 196.1L751.0 189.6L751.5 184.3L752.0 179.5L752.5 175.0L753.0 170.8L753.5 166.6L754.0 162.3L754.5 157.8L755.0 153.2L755.5 148.9L756.0 145.0L756.5 142.0L757.0 139.7L757.5 137.6L758.0 135.8L758.5 134.5L759.0 133.6L759.5 132.7L760.0 131.9L760.5 131.2L761.0 130.6L761.5 130.1L762.0 129.7L762.5 129.4L763.0 129.2L763.5 129.2L764.0 129.4L764.5 129.8L765.0 130.2L765.5 130.7L766.0 131.1L766.5 131.5L767.0 131.6L767.5 131.6L768.0 131.6L768.5 131.6L769.0 131.6L769.5 131.5L770.0 131.3L770.5 131.2L771.0 130.9L771.5 130.7L772.0 130.2L772.5 129.4L773.0 128.5L773.5 127.5L774.0 126.4L774.5 125.4L775.0 124.4L775.5 122.7L776.0 120.5L776.5 118.0L777.0 115.7L777.5 114.5L778.0 113.7L778.5 112.8L779.0 111.2L779.5 105.6L780.0 99.0L780.5 94.8L781.0 91.3L781.5 89.8L782.0 91.0L782.5 94.2L783.0 98.3L783.5 105.7L784.0 110.4L784.5 111.4L785.0 112.1L785.5 112.4L786.0 112.3L786.5 112.0L787.0 111.4L787.5 110.2L788.0 108.6L788.5 106.6L789.0 104.6L789.5 102.6L790.0 100.8L790.5 99.3L791.0 98.1L791.5 97.1L792.0 96.1L792.5 95.2L793.0 94.4L793.5 93.5L794.0 92.6L794.5 92.0L795.0 92.0L795.5 92.3L796.0 92.7L796.5 93.3L797.0 94.0L797.5 94.9L798.0 95.8L798.5 96.9L799.0 98.2L799.5 99.5L800.0 101.1L800.5 102.9L801.0 104.8L801.5 106.8L802.0 108.9L802.5 111.2L803.0 113.5L803.5 116.0L804.0 118.9L804.5 122.2L805.0 125.7L805.5 129.5L806.0 134.0L806.5 138.7L807.0 143.3L807.5 147.9L808.0 152.8L808.5 158.1L809.0 163.4L809.5 167.9L810.0 172.2L810.5 176.2L811.0 179.9L811.5 183.2L812.0 186.3L812.5 189.0L813.0 191.5L813.5 193.9L814.0 196.2L814.5 198.3L815.0 200.3L815.5 202.2L816.0 203.9L816.5 205.6L817.0 207.1L817.5 208.6L818.0 210.1L818.5 211.5L819.0 212.7L819.5 213.9L820.0 214.8L820.5 215.5L821.0 216.1L821.5 216.6L822.0 217.0L822.5 217.3L823.0 217.7L823.5 218.2L824.0 218.6L824.5 218.7L825.0 218.4L825.5 217.5L826.0 216.3L826.5 214.8L827.0 213.1L827.5 211.3L828.0 209.4L828.5 207.6L829.0 205.8L829.5 204.1L830.0 202.3L830.5 200.4L831.0 198.6L831.5 196.6L832.0 194.7L832.5 192.8L833.0 190.9L833.5 188.9L834.0 187.0L834.5 185.0L835.0 182.8L835.5 180.6L836.0 178.3L836.5 176.0L837.0 173.6L837.5 171.1L838.0 168.5L838.5 165.9L839.0 163.1L839.5 160.3L840.0 157.2L840.5 154.1L841.0 150.8L841.5 147.3L842.0 143.7L842.5 139.8L843.0 135.5L843.5 130.5L844.0 124.2L844.5 115.3L845.0 106.7L845.5 99.0L846.0 91.5L846.5 84.8L847.0 78.7L847.5 72.5L848.0 66.6L848.5 62.5L849.0 61.2L849.5 61.8L850.0 63.3L850.5 65.5L851.0 68.8L851.5 72.8L852.0 77.4L852.5 82.4L853.0 87.5L853.5 92.6L854.0 98.4L854.5 105.2L855.0 112.0L855.5 117.7L856.0 122.7L856.5 127.0L857.0 130.8L857.5 134.2L858.0 137.3L858.5 140.7L859.0 144.2L859.5 147.3L860.0 149.7L860.5 150.7L861.0 150.6L861.5 149.9L862.0 148.9L862.5 147.6L863.0 146.2L863.5 144.6L864.0 142.6L864.5 140.2L865.0 137.2L865.5 134.0L866.0 130.7L866.5 127.5L867.0 123.5L867.5 118.8L868.0 114.1L868.5 109.2L869.0 104.4L869.5 101.5L870.0 99.2L870.5 97.4L871.0 96.0L871.5 95.4L872.0 95.8L872.5 96.7L873.0 98.3L873.5 100.9L874.0 103.9L874.5 107.7L875.0 112.2L875.5 117.0L876.0 121.7L876.5 125.9L877.0 129.6L877.5 133.0L878.0 136.0L878.5 138.7L879.0 140.9L879.5 142.7L880.0 144.3L880.5 145.8L881.0 147.2L881.5 148.3L882.0 149.1L882.5 149.8L883.0 150.5L883.5 151.1L884.0 151.5L884.5 151.9L885.0 152.2L885.5 152.3L886.0 152.2L886.5 152.0L887.0 151.8L887.5 151.4L888.0 151.0L888.5 150.6L889.0 150.3L889.5 149.9L890.0 149.6L890.5 149.4L891.0 149.4L891.5 149.7L892.0 150.1L892.5 150.7L893.0 151.2L893.5 151.7L894.0 152.1M748.5 235.2L749.0 230.2L749.5 224.5L750.0 218.4L750.5 212.1L751.0 206.4L751.5 201.5L752.0 197.0L752.5 192.8L753.0 188.7L753.5 184.7L754.0 180.7L754.5 176.4L755.0 172.1L755.5 167.9L756.0 163.9L756.5 160.4L757.0 157.4L757.5 154.7L758.0 152.5L758.5 150.9L759.0 149.8L759.5 148.8L760.0 147.9L760.5 147.1L761.0 146.4L761.5 145.9L762.0 145.4L762.5 145.1L763.0 145.0L763.5 145.1L764.0 145.6L764.5 146.2L765.0 147.0L765.5 147.7L766.0 148.5L766.5 149.0L767.0 149.4L767.5 149.5L768.0 149.6L768.5 149.7L769.0 149.8L769.5 149.8L770.0 149.7L770.5 149.7L771.0 149.6L771.5 149.4L772.0 148.9L772.5 148.1L773.0 147.1L773.5 145.9L774.0 144.7L774.5 143.5L775.0 142.5L775.5 141.3L776.0 139.8L776.5 138.1L777.0 136.7L777.5 136.0L778.0 135.6L778.5 135.0L779.0 134.1L779.5 130.4L780.0 126.0L780.5 123.2L781.0 120.8L781.5 119.7L782.0 120.4L782.5 122.4L783.0 124.9L783.5 129.6L784.0 132.6L784.5 133.0L785.0 133.0L785.5 132.6L786.0 131.9L786.5 130.9L787.0 129.4L787.5 127.3L788.0 124.5L788.5 121.4L789.0 118.2L789.5 115.0L790.0 112.1L790.5 109.8L791.0 107.9L791.5 106.3L792.0 104.8L792.5 103.4L793.0 102.1L793.5 100.6L794.0 99.2L794.5 98.4L795.0 98.3L795.5 98.6L796.0 99.1L796.5 99.9L797.0 100.9L797.5 102.0L798.0 103.2L798.5 104.6L799.0 106.0L799.5 107.5L800.0 109.3L800.5 111.2L801.0 113.3L801.5 115.6L802.0 117.9L802.5 120.5L803.0 123.1L803.5 126.0L804.0 129.3L804.5 132.9L805.0 137.0L805.5 141.4L806.0 146.8L806.5 152.4L807.0 158.0L807.5 163.7L808.0 169.7L808.5 176.2L809.0 182.6L809.5 188.1L810.0 193.1L810.5 197.8L811.0 202.1L811.5 206.0L812.0 209.6L812.5 212.7L813.0 215.5L813.5 218.2L814.0 220.7L814.5 223.0L815.0 225.2L815.5 227.2L816.0 229.1L816.5 230.8L817.0 232.4L817.5 234.0L818.0 235.5L818.5 236.9L819.0 238.2L819.5 239.3L820.0 240.1L820.5 240.6L821.0 240.9L821.5 241.0L822.0 241.0L822.5 240.8L823.0 240.7L823.5 240.6L824.0 240.4L824.5 240.0L825.0 239.3L825.5 238.2L826.0 236.7L826.5 235.0L827.0 233.2L827.5 231.2L828.0 229.2L828.5 227.2L829.0 225.3L829.5 223.3L830.0 221.3L830.5 219.3L831.0 217.2L831.5 215.1L832.0 213.0L832.5 210.9L833.0 208.8L833.5 206.7L834.0 204.6L834.5 202.5L835.0 200.2L835.5 197.9L836.0 195.6L836.5 193.2L837.0 190.7L837.5 188.3L838.0 185.7L838.5 183.1L839.0 180.4L839.5 177.5L840.0 174.6L840.5 171.5L841.0 168.3L841.5 164.9L842.0 161.3L842.5 157.6L843.0 153.4L843.5 148.8L844.0 143.1L844.5 135.6L845.0 128.3L845.5 121.2L846.0 114.0L846.5 107.2L847.0 101.1L847.5 94.7L848.0 88.7L848.5 85.0L849.0 85.0L849.5 87.3L850.0 89.9L850.5 92.8L851.0 96.3L851.5 100.4L852.0 104.8L852.5 109.5L853.0 114.2L853.5 118.9L854.0 124.1L854.5 130.2L855.0 136.5L855.5 142.3L856.0 147.5L856.5 151.9L857.0 155.7L857.5 159.1L858.0 161.9L858.5 164.8L859.0 167.6L859.5 170.1L860.0 172.0L860.5 172.8L861.0 172.6L861.5 172.0L862.0 171.0L862.5 169.7L863.0 168.2L863.5 166.5L864.0 164.6L864.5 162.2L865.0 159.2L865.5 155.8L866.0 152.2L866.5 148.3L867.0 143.4L867.5 137.3L868.0 131.1L868.5 124.5L869.0 118.2L869.5 114.4L870.0 111.7L870.5 109.6L871.0 108.2L871.5 107.9L872.0 109.0L872.5 110.9L873.0 113.6L873.5 117.6L874.0 121.8L874.5 126.6L875.0 132.0L875.5 137.5L876.0 142.5L876.5 146.7L877.0 150.0L877.5 152.9L878.0 155.3L878.5 157.4L879.0 159.2L879.5 160.6L880.0 161.8L880.5 163.0L881.0 164.1L881.5 165.0L882.0 165.6L882.5 166.3L883.0 166.8L883.5 167.3L884.0 167.7L884.5 168.1L885.0 168.3L885.5 168.4L886.0 168.3L886.5 168.0L887.0 167.6L887.5 167.1L888.0 166.6L888.5 166.1L889.0 165.7L889.5 165.2L890.0 164.9L890.5 164.8L891.0 164.9L891.5 165.5L892.0 166.4L892.5 167.5L893.0 168.5L893.5 169.4L894.0 170.3M748.5 248.6L749.0 243.9L749.5 238.8L750.0 233.5L750.5 228.2L751.0 223.2L751.5 218.8L752.0 214.6L752.5 210.6L753.0 206.7L753.5 202.9L754.0 199.0L754.5 195.1L755.0 191.1L755.5 187.0L756.0 182.8L756.5 178.8L757.0 175.1L757.5 171.9L758.0 169.2L758.5 167.3L759.0 166.1L759.5 165.0L760.0 164.0L760.5 163.1L761.0 162.3L761.5 161.6L762.0 161.2L762.5 160.9L763.0 160.7L763.5 161.0L764.0 161.7L764.5 162.6L765.0 163.7L765.5 164.8L766.0 165.8L766.5 166.6L767.0 167.2L767.5 167.4L768.0 167.6L768.5 167.8L769.0 168.0L769.5 168.1L770.0 168.2L770.5 168.2L771.0 168.2L771.5 168.1L772.0 167.6L772.5 166.8L773.0 165.6L773.5 164.3L774.0 163.0L774.5 161.7L775.0 160.7L775.5 159.8L776.0 159.1L776.5 158.3L777.0 157.7L777.5 157.5L778.0 157.4L778.5 157.3L779.0 156.9L779.5 155.2L780.0 153.0L780.5 151.6L781.0 150.3L781.5 149.6L782.0 149.8L782.5 150.5L783.0 151.5L783.5 153.6L784.0 154.7L784.5 154.6L785.0 154.0L785.5 152.9L786.0 151.4L786.5 149.7L787.0 147.5L787.5 144.3L788.0 140.4L788.5 136.1L789.0 131.7L789.5 127.4L790.0 123.5L790.5 120.2L791.0 117.7L791.5 115.4L792.0 113.4L792.5 111.5L793.0 109.7L793.5 107.7L794.0 105.9L794.5 104.7L795.0 104.5L795.5 104.9L796.0 105.6L796.5 106.6L797.0 107.8L797.5 109.2L798.0 110.7L798.5 112.3L799.0 113.9L799.5 115.5L800.0 117.5L800.5 119.6L801.0 121.9L801.5 124.3L802.0 127.0L802.5 129.8L803.0 132.7L803.5 135.9L804.0 139.6L804.5 143.7L805.0 148.2L805.5 153.3L806.0 159.6L806.5 166.2L807.0 172.7L807.5 179.4L808.0 186.5L808.5 194.3L809.0 201.9L809.5 208.2L810.0 214.0L810.5 219.3L811.0 224.3L811.5 228.8L812.0 232.8L812.5 236.3L813.0 239.5L813.5 242.4L814.0 245.2L814.5 247.7L815.0 250.1L815.5 252.3L816.0 254.2L816.5 256.0L817.0 257.7L817.5 259.3L818.0 260.9L818.5 262.4L819.0 263.7L819.5 264.7L820.0 265.4L820.5 265.7L821.0 265.7L821.5 265.4L822.0 265.0L822.5 264.3L823.0 263.7L823.5 262.9L824.0 262.1L824.5 261.3L825.0 260.2L825.5 258.8L826.0 257.1L826.5 255.3L827.0 253.2L827.5 251.1L828.0 248.9L828.5 246.8L829.0 244.7L829.5 242.5L830.0 240.3L830.5 238.1L831.0 235.8L831.5 233.5L832.0 231.2L832.5 229.0L833.0 226.7L833.5 224.5L834.0 222.3L834.5 220.0L835.0 217.6L835.5 215.2L836.0 212.8L836.5 210.4L837.0 207.9L837.5 205.5L838.0 202.9L838.5 200.3L839.0 197.6L839.5 194.8L840.0 191.9L840.5 188.9L841.0 185.8L841.5 182.4L842.0 179.0L842.5 175.3L843.0 171.3L843.5 167.0L844.0 162.0L844.5 156.0L845.0 149.8L845.5 143.4L846.0 136.4L846.5 129.6L847.0 123.4L847.5 116.9L848.0 110.7L848.5 107.5L849.0 108.8L849.5 112.7L850.0 116.5L850.5 120.1L851.0 123.9L851.5 127.9L852.0 132.2L852.5 136.6L853.0 140.9L853.5 145.2L854.0 149.8L854.5 155.1L855.0 160.9L855.5 166.9L856.0 172.4L856.5 176.8L857.0 180.7L857.5 184.0L858.0 186.5L858.5 188.8L859.0 191.1L859.5 193.0L860.0 194.3L860.5 194.9L861.0 194.7L861.5 194.0L862.0 193.0L862.5 191.7L863.0 190.2L863.5 188.5L864.0 186.6L864.5 184.3L865.0 181.2L865.5 177.6L866.0 173.6L866.5 169.2L867.0 163.2L867.5 155.7L868.0 148.0L868.5 139.8L869.0 131.9L869.5 127.4L870.0 124.3L870.5 121.8L871.0 120.4L871.5 120.4L872.0 122.3L872.5 125.1L873.0 128.9L873.5 134.3L874.0 139.7L874.5 145.6L875.0 151.9L875.5 158.0L876.0 163.4L876.5 167.6L877.0 170.4L877.5 172.8L878.0 174.7L878.5 176.2L879.0 177.4L879.5 178.4L880.0 179.3L880.5 180.1L881.0 180.9L881.5 181.6L882.0 182.2L882.5 182.7L883.0 183.2L883.5 183.6L884.0 183.9L884.5 184.2L885.0 184.4L885.5 184.4L886.0 184.3L886.5 183.9L887.0 183.5L887.5 182.9L888.0 182.3L888.5 181.6L889.0 181.1L889.5 180.6L890.0 180.2L890.5 180.1L891.0 180.4L891.5 181.3L892.0 182.7L892.5 184.3L893.0 185.8L893.5 187.2L894.0 188.5M748.5 174.0L749.0 168.0L749.5 160.5L750.0 152.2L750.5 143.0L751.0 135.0L751.5 128.9L752.0 123.4L752.5 118.5L753.0 113.8L753.5 109.3L754.0 104.6L754.5 99.5L755.0 94.3L755.5 89.7L756.0 86.2L756.5 84.2L757.0 83.2L757.5 82.3L758.0 81.5L758.5 80.7L759.0 80.1L759.5 79.4L760.0 78.9L760.5 78.4L761.0 78.0L761.5 77.6L762.0 77.3L762.5 77.0L763.0 76.7L763.5 76.4L764.0 76.2L764.5 76.0L765.0 75.8L765.5 75.6L766.0 75.5L766.5 75.3L767.0 75.1L767.5 74.9L768.0 74.7L768.5 74.4L769.0 74.2L769.5 73.9L770.0 73.5L770.5 73.1L771.0 72.7L771.5 72.2L772.0 71.7L772.5 71.1L773.0 70.4L773.5 69.7L774.0 68.9L774.5 68.0L775.0 67.0L775.5 64.6L776.0 61.0L776.5 56.7L777.0 54.5L777.5 54.5L778.0 54.5L778.5 54.5L779.0 54.5L779.5 54.5L780.0 54.5L780.5 54.5L781.0 54.5L781.5 54.5L782.0 54.5L782.5 54.5L783.0 54.5L783.5 54.5L784.0 54.5L784.5 54.5L785.0 54.5L785.5 54.5L786.0 54.5L786.5 54.5L787.0 54.5L787.5 55.1L788.0 55.7L788.5 56.2L789.0 56.5L789.5 56.9L790.0 57.1L790.5 57.4L791.0 57.6L791.5 57.7L792.0 57.9L792.5 58.0L793.0 58.1L793.5 58.2L794.0 58.3L794.5 58.4L795.0 58.5L795.5 58.7L796.0 58.8L796.5 59.0L797.0 59.3L797.5 59.5L798.0 59.9L798.5 60.6L799.0 61.5L799.5 62.5L800.0 63.8L800.5 65.2L801.0 66.7L801.5 68.3L802.0 69.9L802.5 71.6L803.0 73.3L803.5 75.1L804.0 77.3L804.5 79.6L805.0 82.1L805.5 84.7L806.0 87.4L806.5 90.1L807.0 92.8L807.5 95.4L808.0 98.1L808.5 100.9L809.0 103.8L809.5 106.6L810.0 109.4L810.5 112.0L811.0 114.5L811.5 116.6L812.0 118.7L812.5 120.7L813.0 122.6L813.5 124.4L814.0 126.2L814.5 127.9L815.0 129.5L815.5 131.1L816.0 132.6L816.5 134.1L817.0 135.6L817.5 137.0L818.0 138.3L818.5 139.6L819.0 140.8L819.5 142.0L820.0 143.2L820.5 144.4L821.0 145.5L821.5 146.7L822.0 148.0L822.5 149.2L823.0 150.8L823.5 152.5L824.0 154.0L824.5 155.1L825.0 155.5L825.5 155.2L826.0 154.5L826.5 153.4L827.0 152.1L827.5 150.6L828.0 149.0L828.5 147.4L829.0 146.0L829.5 144.6L830.0 143.3L830.5 141.8L831.0 140.3L831.5 138.8L832.0 137.2L832.5 135.6L833.0 134.0L833.5 132.4L834.0 130.7L834.5 128.9L835.0 127.1L835.5 125.0L836.0 122.8L836.5 120.5L837.0 118.2L837.5 115.7L838.0 113.1L838.5 110.5L839.0 107.6L839.5 104.7L840.0 101.6L840.5 98.3L841.0 94.8L841.5 91.2L842.0 87.4L842.5 83.3L843.0 78.7L843.5 73.1L844.0 65.5L844.5 54.5L845.0 54.5L845.5 54.5L846.0 54.5L846.5 54.5L847.0 54.5L847.5 54.5L848.0 54.5L848.5 54.5L849.0 54.5L849.5 54.5L850.0 54.5L850.5 54.5L851.0 54.5L851.5 54.5L852.0 54.5L852.5 54.5L853.0 54.5L853.5 54.5L854.0 54.5L854.5 54.5L855.0 54.5L855.5 54.5L856.0 54.5L856.5 56.1L857.0 59.8L857.5 63.4L858.0 67.2L858.5 71.6L859.0 76.3L859.5 80.6L860.0 84.0L860.5 85.5L861.0 85.4L861.5 84.8L862.0 83.8L862.5 82.6L863.0 81.2L863.5 79.7L864.0 77.7L864.5 75.0L865.0 72.1L865.5 69.3L866.0 66.8L866.5 64.8L867.0 62.8L867.5 61.0L868.0 59.2L868.5 57.5L869.0 56.0L869.5 54.5L870.0 54.5L870.5 54.5L871.0 54.5L871.5 54.5L872.0 54.5L872.5 54.5L873.0 54.5L873.5 54.5L874.0 54.5L874.5 54.5L875.0 54.5L875.5 54.9L876.0 58.9L876.5 63.2L877.0 67.7L877.5 72.1L878.0 76.4L878.5 80.2L879.0 83.4L879.5 86.0L880.0 88.3L880.5 90.5L881.0 92.5L881.5 94.0L882.0 95.1L882.5 96.0L883.0 96.8L883.5 97.5L884.0 98.2L884.5 98.7L885.0 99.0L885.5 99.2L886.0 99.2L886.5 99.1L887.0 99.1L887.5 98.9L888.0 98.8L888.5 98.6L889.0 98.4L889.5 98.2L890.0 98.0L890.5 97.8L891.0 97.5L891.5 97.0L892.0 96.6L892.5 96.1L893.0 95.6L893.5 95.1L894.0 94.7M748.5 153.0L749.0 147.0L749.5 139.5L750.0 131.2L750.5 122.0L751.0 114.0L751.5 107.9L752.0 102.4L752.5 97.5L753.0 92.8L753.5 88.3L754.0 83.6L754.5 78.5L755.0 73.3L755.5 68.7L756.0 65.2L756.5 63.2L757.0 62.2L757.5 61.3L758.0 60.5L758.5 59.7L759.0 59.1L759.5 58.4L760.0 57.9L760.5 57.4L761.0 57.0L761.5 56.6L762.0 56.3L762.5 56.0L763.0 55.7L763.5 55.4L764.0 55.2L764.5 55.0L765.0 54.8L765.5 54.6L766.0 54.5L766.5 54.5L767.0 54.5L767.5 54.5L768.0 54.5L768.5 54.5L769.0 54.5L769.5 54.5L770.0 54.5L770.5 54.5L771.0 54.5L771.5 54.5L772.0 54.5L772.5 54.5L773.0 54.5L773.5 54.5L774.0 54.5L774.5 54.5L775.0 54.5L775.5 54.5L776.0 54.5L776.5 54.5L777.0 54.5L777.5 54.5L778.0 54.5L778.5 54.5L779.0 54.5L779.5 54.5L780.0 54.5L780.5 54.5L781.0 54.5L781.5 54.5L782.0 54.5L782.5 54.5L783.0 54.5L783.5 54.5L784.0 54.5L784.5 54.5L785.0 54.5L785.5 54.5L786.0 54.5L786.5 54.5L787.0 54.5L787.5 54.5L788.0 54.5L788.5 54.5L789.0 54.5L789.5 54.5L790.0 54.5L790.5 54.5L791.0 54.5L791.5 54.5L792.0 54.5L792.5 54.5L793.0 54.5L793.5 54.5L794.0 54.5L794.5 54.5L795.0 54.5L795.5 54.5L796.0 54.5L796.5 54.5L797.0 54.5L797.5 54.5L798.0 54.5L798.5 54.5L799.0 54.5L799.5 54.5L800.0 54.5L800.5 54.5L801.0 54.5L801.5 54.5L802.0 54.5L802.5 54.5L803.0 54.5L803.5 54.5L804.0 56.3L804.5 58.6L805.0 61.1L805.5 63.7L806.0 66.4L806.5 69.1L807.0 71.8L807.5 74.4L808.0 77.1L808.5 79.9L809.0 82.8L809.5 85.6L810.0 88.4L810.5 91.0L811.0 93.5L811.5 95.6L812.0 97.7L812.5 99.7L813.0 101.6L813.5 103.4L814.0 105.2L814.5 106.9L815.0 108.5L815.5 110.1L816.0 111.6L816.5 113.1L817.0 114.6L817.5 116.0L818.0 117.3L818.5 118.6L819.0 119.8L819.5 121.0L820.0 122.2L820.5 123.4L821.0 124.5L821.5 125.7L822.0 127.0L822.5 128.2L823.0 129.8L823.5 131.5L824.0 133.0L824.5 134.1L825.0 134.5L825.5 134.2L826.0 133.5L826.5 132.4L827.0 131.1L827.5 129.6L828.0 128.0L828.5 126.4L829.0 125.0L829.5 123.6L830.0 122.3L830.5 120.8L831.0 119.3L831.5 117.8L832.0 116.2L832.5 114.6L833.0 113.0L833.5 111.4L834.0 109.7L834.5 107.9L835.0 106.1L835.5 104.0L836.0 101.8L836.5 99.5L837.0 97.2L837.5 94.7L838.0 92.1L838.5 89.5L839.0 86.6L839.5 83.7L840.0 80.6L840.5 77.3L841.0 73.8L841.5 70.2L842.0 66.4L842.5 62.3L843.0 57.7L843.5 54.5L844.0 54.5L844.5 54.5L845.0 54.5L845.5 54.5L846.0 54.5L846.5 54.5L847.0 54.5L847.5 54.5L848.0 54.5L848.5 54.5L849.0 54.5L849.5 54.5L850.0 54.5L850.5 54.5L851.0 54.5L851.5 54.5L852.0 54.5L852.5 54.5L853.0 54.5L853.5 54.5L854.0 54.5L854.5 54.5L855.0 54.5L855.5 54.5L856.0 54.5L856.5 54.5L857.0 54.5L857.5 54.5L858.0 54.5L858.5 54.5L859.0 55.3L859.5 59.6L860.0 63.0L860.5 64.5L861.0 64.4L861.5 63.8L862.0 62.8L862.5 61.6L863.0 60.2L863.5 58.7L864.0 56.7L864.5 54.5L865.0 54.5L865.5 54.5L866.0 54.5L866.5 54.5L867.0 54.5L867.5 54.5L868.0 54.5L868.5 54.5L869.0 54.5L869.5 54.5L870.0 54.5L870.5 54.5L871.0 54.5L871.5 54.5L872.0 54.5L872.5 54.5L873.0 54.5L873.5 54.5L874.0 54.5L874.5 54.5L875.0 54.5L875.5 54.5L876.0 54.5L876.5 54.5L877.0 54.5L877.5 54.5L878.0 55.4L878.5 59.2L879.0 62.4L879.5 65.0L880.0 67.3L880.5 69.5L881.0 71.5L881.5 73.0L882.0 74.1L882.5 75.0L883.0 75.8L883.5 76.5L884.0 77.2L884.5 77.7L885.0 78.0L885.5 78.2L886.0 78.2L886.5 78.1L887.0 78.1L887.5 77.9L888.0 77.8L888.5 77.6L889.0 77.4L889.5 77.2L890.0 77.0L890.5 76.8L891.0 76.5L891.5 76.0L892.0 75.6L892.5 75.1L893.0 74.6L893.5 74.1L894.0 73.7M748.5 133.0L749.0 127.0L749.5 119.5L750.0 111.2L750.5 102.0L751.0 94.0L751.5 87.9L752.0 82.4L752.5 77.5L753.0 72.8L753.5 68.3L754.0 63.6L754.5 58.5L755.0 54.5L755.5 54.5L756.0 54.5L756.5 54.5L757.0 54.5L757.5 54.5L758.0 54.5L758.5 54.5L759.0 54.5L759.5 54.5L760.0 54.5L760.5 54.5L761.0 54.5L761.5 54.5L762.0 54.5L762.5 54.5L763.0 54.5L763.5 54.5L764.0 54.5L764.5 54.5L765.0 54.5L765.5 54.5L766.0 54.5L766.5 54.5L767.0 54.5L767.5 54.5L768.0 54.5L768.5 54.5L769.0 54.5L769.5 54.5L770.0 54.5L770.5 54.5L771.0 54.5L771.5 54.5L772.0 54.5L772.5 54.5L773.0 54.5L773.5 54.5L774.0 54.5L774.5 54.5L775.0 54.5L775.5 54.5L776.0 54.5L776.5 54.5L777.0 54.5L777.5 54.5L778.0 54.5L778.5 54.5L779.0 54.5L779.5 54.5L780.0 54.5L780.5 54.5L781.0 54.5L781.5 54.5L782.0 54.5L782.5 54.5L783.0 54.5L783.5 54.5L784.0 54.5L784.5 54.5L785.0 54.5L785.5 54.5L786.0 54.5L786.5 54.5L787.0 54.5L787.5 54.5L788.0 54.5L788.5 54.5L789.0 54.5L789.5 54.5L790.0 54.5L790.5 54.5L791.0 54.5L791.5 54.5L792.0 54.5L792.5 54.5L793.0 54.5L793.5 54.5L794.0 54.5L794.5 54.5L795.0 54.5L795.5 54.5L796.0 54.5L796.5 54.5L797.0 54.5L797.5 54.5L798.0 54.5L798.5 54.5L799.0 54.5L799.5 54.5L800.0 54.5L800.5 54.5L801.0 54.5L801.5 54.5L802.0 54.5L802.5 54.5L803.0 54.5L803.5 54.5L804.0 54.5L804.5 54.5L805.0 54.5L805.5 54.5L806.0 54.5L806.5 54.5L807.0 54.5L807.5 54.5L808.0 57.1L808.5 59.9L809.0 62.8L809.5 65.6L810.0 68.4L810.5 71.0L811.0 73.5L811.5 75.6L812.0 77.7L812.5 79.7L813.0 81.6L813.5 83.4L814.0 85.2L814.5 86.9L815.0 88.5L815.5 90.1L816.0 91.6L816.5 93.1L817.0 94.6L817.5 96.0L818.0 97.3L818.5 98.6L819.0 99.8L819.5 101.0L820.0 102.2L820.5 103.4L821.0 104.5L821.5 105.7L822.0 107.0L822.5 108.2L823.0 109.8L823.5 111.5L824.0 113.0L824.5 114.1L825.0 114.5L825.5 114.2L826.0 113.5L826.5 112.4L827.0 111.1L827.5 109.6L828.0 108.0L828.5 106.4L829.0 105.0L829.5 103.6L830.0 102.3L830.5 100.8L831.0 99.3L831.5 97.8L832.0 96.2L832.5 94.6L833.0 93.0L833.5 91.4L834.0 89.7L834.5 87.9L835.0 86.1L835.5 84.0L836.0 81.8L836.5 79.5L837.0 77.2L837.5 74.7L838.0 72.1L838.5 69.5L839.0 66.6L839.5 63.7L840.0 60.6L840.5 57.3L841.0 54.5L841.5 54.5L842.0 54.5L842.5 54.5L843.0 54.5L843.5 54.5L844.0 54.5L844.5 54.5L845.0 54.5L845.5 54.5L846.0 54.5L846.5 54.5L847.0 54.5L847.5 54.5L848.0 54.5L848.5 54.5L849.0 54.5L849.5 54.5L850.0 54.5L850.5 54.5L851.0 54.5L851.5 54.5L852.0 54.5L852.5 54.5L853.0 54.5L853.5 54.5L854.0 54.5L854.5 54.5L855.0 54.5L855.5 54.5L856.0 54.5L856.5 54.5L857.0 54.5L857.5 54.5L858.0 54.5L858.5 54.5L859.0 54.5L859.5 54.5L860.0 54.5L860.5 54.5L861.0 54.5L861.5 54.5L862.0 54.5L862.5 54.5L863.0 54.5L863.5 54.5L864.0 54.5L864.5 54.5L865.0 54.5L865.5 54.5L866.0 54.5L866.5 54.5L867.0 54.5L867.5 54.5L868.0 54.5L868.5 54.5L869.0 54.5L869.5 54.5L870.0 54.5L870.5 54.5L871.0 54.5L871.5 54.5L872.0 54.5L872.5 54.5L873.0 54.5L873.5 54.5L874.0 54.5L874.5 54.5L875.0 54.5L875.5 54.5L876.0 54.5L876.5 54.5L877.0 54.5L877.5 54.5L878.0 54.5L878.5 54.5L879.0 54.5L879.5 54.5L880.0 54.5L880.5 54.5L881.0 54.5L881.5 54.5L882.0 54.5L882.5 55.0L883.0 55.8L883.5 56.5L884.0 57.2L884.5 57.7L885.0 58.0L885.5 58.2L886.0 58.2L886.5 58.1L887.0 58.1L887.5 57.9L888.0 57.8L888.5 57.6L889.0 57.4L889.5 57.2L890.0 57.0L890.5 56.8L891.0 56.5L891.5 56.0L892.0 55.6L892.5 55.1L893.0 54.6L893.5 54.5L894.0 54.5M748.5 115.0L749.0 109.0L749.5 101.5L750.0 93.2L750.5 84.0L751.0 76.0L751.5 69.9L752.0 64.4L752.5 59.5L753.0 54.8L753.5 54.5L754.0 54.5L754.5 54.5L755.0 54.5L755.5 54.5L756.0 54.5L756.5 54.5L757.0 54.5L757.5 54.5L758.0 54.5L758.5 54.5L759.0 54.5L759.5 54.5L760.0 54.5L760.5 54.5L761.0 54.5L761.5 54.5L762.0 54.5L762.5 54.5L763.0 54.5L763.5 54.5L764.0 54.5L764.5 54.5L765.0 54.5L765.5 54.5L766.0 54.5L766.5 54.5L767.0 54.5L767.5 54.5L768.0 54.5L768.5 54.5L769.0 54.5L769.5 54.5L770.0 54.5L770.5 54.5L771.0 54.5L771.5 54.5L772.0 54.5L772.5 54.5L773.0 54.5L773.5 54.5L774.0 54.5L774.5 54.5L775.0 54.5L775.5 54.5L776.0 54.5L776.5 54.5L777.0 54.5L777.5 54.5L778.0 54.5L778.5 54.5L779.0 54.5L779.5 54.5L780.0 54.5L780.5 54.5L781.0 54.5L781.5 54.5L782.0 54.5L782.5 54.5L783.0 54.5L783.5 54.5L784.0 54.5L784.5 54.5L785.0 54.5L785.5 54.5L786.0 54.5L786.5 54.5L787.0 54.5L787.5 54.5L788.0 54.5L788.5 54.5L789.0 54.5L789.5 54.5L790.0 54.5L790.5 54.5L791.0 54.5L791.5 54.5L792.0 54.5L792.5 54.5L793.0 54.5L793.5 54.5L794.0 54.5L794.5 54.5L795.0 54.5L795.5 54.5L796.0 54.5L796.5 54.5L797.0 54.5L797.5 54.5L798.0 54.5L798.5 54.5L799.0 54.5L799.5 54.5L800.0 54.5L800.5 54.5L801.0 54.5L801.5 54.5L802.0 54.5L802.5 54.5L803.0 54.5L803.5 54.5L804.0 54.5L804.5 54.5L805.0 54.5L805.5 54.5L806.0 54.5L806.5 54.5L807.0 54.5L807.5 54.5L808.0 54.5L808.5 54.5L809.0 54.5L809.5 54.5L810.0 54.5L810.5 54.5L811.0 55.5L811.5 57.6L812.0 59.7L812.5 61.7L813.0 63.6L813.5 65.4L814.0 67.2L814.5 68.9L815.0 70.5L815.5 72.1L816.0 73.6L816.5 75.1L817.0 76.6L817.5 78.0L818.0 79.3L818.5 80.6L819.0 81.8L819.5 83.0L820.0 84.2L820.5 85.4L821.0 86.5L821.5 87.7L822.0 89.0L822.5 90.2L823.0 91.8L823.5 93.5L824.0 95.0L824.5 96.1L825.0 96.5L825.5 96.2L826.0 95.5L826.5 94.4L827.0 93.1L827.5 91.6L828.0 90.0L828.5 88.4L829.0 87.0L829.5 85.6L830.0 84.3L830.5 82.8L831.0 81.3L831.5 79.8L832.0 78.2L832.5 76.6L833.0 75.0L833.5 73.4L834.0 71.7L834.5 69.9L835.0 68.1L835.5 66.0L836.0 63.8L836.5 61.5L837.0 59.2L837.5 56.7L838.0 54.5L838.5 54.5L839.0 54.5L839.5 54.5L840.0 54.5L840.5 54.5L841.0 54.5L841.5 54.5L842.0 54.5L842.5 54.5L843.0 54.5L843.5 54.5L844.0 54.5L844.5 54.5L845.0 54.5L845.5 54.5L846.0 54.5L846.5 54.5L847.0 54.5L847.5 54.5L848.0 54.5L848.5 54.5L849.0 54.5L849.5 54.5L850.0 54.5L850.5 54.5L851.0 54.5L851.5 54.5L852.0 54.5L852.5 54.5L853.0 54.5L853.5 54.5L854.0 54.5L854.5 54.5L855.0 54.5L855.5 54.5L856.0 54.5L856.5 54.5L857.0 54.5L857.5 54.5L858.0 54.5L858.5 54.5L859.0 54.5L859.5 54.5L860.0 54.5L860.5 54.5L861.0 54.5L861.5 54.5L862.0 54.5L862.5 54.5L863.0 54.5L863.5 54.5L864.0 54.5L864.5 54.5L865.0 54.5L865.5 54.5L866.0 54.5L866.5 54.5L867.0 54.5L867.5 54.5L868.0 54.5L868.5 54.5L869.0 54.5L869.5 54.5L870.0 54.5L870.5 54.5L871.0 54.5L871.5 54.5L872.0 54.5L872.5 54.5L873.0 54.5L873.5 54.5L874.0 54.5L874.5 54.5L875.0 54.5L875.5 54.5L876.0 54.5L876.5 54.5L877.0 54.5L877.5 54.5L878.0 54.5L878.5 54.5L879.0 54.5L879.5 54.5L880.0 54.5L880.5 54.5L881.0 54.5L881.5 54.5L882.0 54.5L882.5 54.5L883.0 54.5L883.5 54.5L884.0 54.5L884.5 54.5L885.0 54.5L885.5 54.5L886.0 54.5L886.5 54.5L887.0 54.5L887.5 54.5L888.0 54.5L888.5 54.5L889.0 54.5L889.5 54.5L890.0 54.5L890.5 54.5L891.0 54.5L891.5 54.5L892.0 54.5L892.5 54.5L893.0 54.5L893.5 54.5L894.0 54.5M748.5 95.0L749.0 89.0L749.5 81.5L750.0 73.2L750.5 64.0L751.0 56.0L751.5 54.5L752.0 54.5L752.5 54.5L753.0 54.5L753.5 54.5L754.0 54.5L754.5 54.5L755.0 54.5L755.5 54.5L756.0 54.5L756.5 54.5L757.0 54.5L757.5 54.5L758.0 54.5L758.5 54.5L759.0 54.5L759.5 54.5L760.0 54.5L760.5 54.5L761.0 54.5L761.5 54.5L762.0 54.5L762.5 54.5L763.0 54.5L763.5 54.5L764.0 54.5L764.5 54.5L765.0 54.5L765.5 54.5L766.0 54.5L766.5 54.5L767.0 54.5L767.5 54.5L768.0 54.5L768.5 54.5L769.0 54.5L769.5 54.5L770.0 54.5L770.5 54.5L771.0 54.5L771.5 54.5L772.0 54.5L772.5 54.5L773.0 54.5L773.5 54.5L774.0 54.5L774.5 54.5L775.0 54.5L775.5 54.5L776.0 54.5L776.5 54.5L777.0 54.5L777.5 54.5L778.0 54.5L778.5 54.5L779.0 54.5L779.5 54.5L780.0 54.5L780.5 54.5L781.0 54.5L781.5 54.5L782.0 54.5L782.5 54.5L783.0 54.5L783.5 54.5L784.0 54.5L784.5 54.5L785.0 54.5L785.5 54.5L786.0 54.5L786.5 54.5L787.0 54.5L787.5 54.5L788.0 54.5L788.5 54.5L789.0 54.5L789.5 54.5L790.0 54.5L790.5 54.5L791.0 54.5L791.5 54.5L792.0 54.5L792.5 54.5L793.0 54.5L793.5 54.5L794.0 54.5L794.5 54.5L795.0 54.5L795.5 54.5L796.0 54.5L796.5 54.5L797.0 54.5L797.5 54.5L798.0 54.5L798.5 54.5L799.0 54.5L799.5 54.5L800.0 54.5L800.5 54.5L801.0 54.5L801.5 54.5L802.0 54.5L802.5 54.5L803.0 54.5L803.5 54.5L804.0 54.5L804.5 54.5L805.0 54.5L805.5 54.5L806.0 54.5L806.5 54.5L807.0 54.5L807.5 54.5L808.0 54.5L808.5 54.5L809.0 54.5L809.5 54.5L810.0 54.5L810.5 54.5L811.0 54.5L811.5 54.5L812.0 54.5L812.5 54.5L813.0 54.5L813.5 54.5L814.0 54.5L814.5 54.5L815.0 54.5L815.5 54.5L816.0 54.5L816.5 55.1L817.0 56.6L817.5 58.0L818.0 59.3L818.5 60.6L819.0 61.8L819.5 63.0L820.0 64.2L820.5 65.4L821.0 66.5L821.5 67.7L822.0 69.0L822.5 70.2L823.0 71.8L823.5 73.5L824.0 75.0L824.5 76.1L825.0 76.5L825.5 76.2L826.0 75.5L826.5 74.4L827.0 73.1L827.5 71.6L828.0 70.0L828.5 68.4L829.0 67.0L829.5 65.6L830.0 64.3L830.5 62.8L831.0 61.3L831.5 59.8L832.0 58.2L832.5 56.6L833.0 55.0L833.5 54.5L834.0 54.5L834.5 54.5L835.0 54.5L835.5 54.5L836.0 54.5L836.5 54.5L837.0 54.5L837.5 54.5L838.0 54.5L838.5 54.5L839.0 54.5L839.5 54.5L840.0 54.5L840.5 54.5L841.0 54.5L841.5 54.5L842.0 54.5L842.5 54.5L843.0 54.5L843.5 54.5L844.0 54.5L844.5 54.5L845.0 54.5L845.5 54.5L846.0 54.5L846.5 54.5L847.0 54.5L847.5 54.5L848.0 54.5L848.5 54.5L849.0 54.5L849.5 54.5L850.0 54.5L850.5 54.5L851.0 54.5L851.5 54.5L852.0 54.5L852.5 54.5L853.0 54.5L853.5 54.5L854.0 54.5L854.5 54.5L855.0 54.5L855.5 54.5L856.0 54.5L856.5 54.5L857.0 54.5L857.5 54.5L858.0 54.5L858.5 54.5L859.0 54.5L859.5 54.5L860.0 54.5L860.5 54.5L861.0 54.5L861.5 54.5L862.0 54.5L862.5 54.5L863.0 54.5L863.5 54.5L864.0 54.5L864.5 54.5L865.0 54.5L865.5 54.5L866.0 54.5L866.5 54.5L867.0 54.5L867.5 54.5L868.0 54.5L868.5 54.5L869.0 54.5L869.5 54.5L870.0 54.5L870.5 54.5L871.0 54.5L871.5 54.5L872.0 54.5L872.5 54.5L873.0 54.5L873.5 54.5L874.0 54.5L874.5 54.5L875.0 54.5L875.5 54.5L876.0 54.5L876.5 54.5L877.0 54.5L877.5 54.5L878.0 54.5L878.5 54.5L879.0 54.5L879.5 54.5L880.0 54.5L880.5 54.5L881.0 54.5L881.5 54.5L882.0 54.5L882.5 54.5L883.0 54.5L883.5 54.5L884.0 54.5L884.5 54.5L885.0 54.5L885.5 54.5L886.0 54.5L886.5 54.5L887.0 54.5L887.5 54.5L888.0 54.5L888.5 54.5L889.0 54.5L889.5 54.5L890.0 54.5L890.5 54.5L891.0 54.5L891.5 54.5L892.0 54.5L892.5 54.5L893.0 54.5L893.5 54.5L894.0 54.5M748.5 317.9L749.0 313.2L749.5 308.1L750.0 302.8L750.5 296.8L751.0 290.1L751.5 282.8L752.0 275.5L752.5 268.4L753.0 262.0L753.5 255.6L754.0 248.7L754.5 241.8L755.0 235.2L755.5 229.3L756.0 224.6L756.5 221.6L757.0 220.5L757.5 220.2L758.0 219.9L758.5 219.7L759.0 219.5L759.5 219.3L760.0 219.2L760.5 219.0L761.0 219.0L761.5 218.9L762.0 218.9L762.5 219.1L763.0 219.8L763.5 220.7L764.0 221.8L764.5 223.0L765.0 224.3L765.5 225.4L766.0 226.4L766.5 227.1L767.0 227.4L767.5 227.3L768.0 226.9L768.5 226.2L769.0 225.3L769.5 224.4L770.0 223.4L770.5 222.5L771.0 221.7L771.5 221.0L772.0 220.7L772.5 220.6L773.0 220.7L773.5 220.9L774.0 221.1L774.5 221.5L775.0 221.8L775.5 222.3L776.0 222.7L776.5 223.2L777.0 223.6L777.5 224.1L778.0 224.7L778.5 225.4L779.0 226.3L779.5 227.2L780.0 228.2L780.5 229.2L781.0 230.1L781.5 230.9L782.0 231.6L782.5 232.2L783.0 232.5L783.5 232.6L784.0 231.8L784.5 230.0L785.0 227.6L785.5 224.7L786.0 221.6L786.5 218.6L787.0 216.0L787.5 213.4L788.0 210.8L788.5 208.0L789.0 205.1L789.5 201.9L790.0 198.3L790.5 194.3L791.0 188.8L791.5 182.4L792.0 175.8L792.5 169.7L793.0 165.0L793.5 161.0L794.0 157.1L794.5 153.7L795.0 151.2L795.5 150.0L796.0 150.5L796.5 152.5L797.0 155.6L797.5 159.4L798.0 163.7L798.5 168.0L799.0 172.9L799.5 178.8L800.0 185.6L800.5 192.7L801.0 200.0L801.5 207.9L802.0 216.7L802.5 225.4L803.0 233.0L803.5 239.3L804.0 245.2L804.5 250.9L805.0 256.2L805.5 261.3L806.0 266.1L806.5 270.7L807.0 275.1L807.5 279.3L808.0 283.3L808.5 287.2L809.0 291.1L809.5 294.8L810.0 298.5L810.5 302.0L811.0 305.4L811.5 308.8L812.0 312.0L812.5 315.0L813.0 318.0L813.5 320.7L814.0 323.4L814.5 325.8L815.0 328.1L815.5 330.2L816.0 332.5L816.5 334.8L817.0 337.0L817.5 339.1L818.0 341.0L818.5 342.7L819.0 344.1L819.5 345.0L820.0 345.6L820.5 345.7L821.0 345.2L821.5 344.3L822.0 342.9L822.5 341.2L823.0 339.3L823.5 337.1L824.0 334.7L824.5 332.2L825.0 329.7L825.5 327.2L826.0 324.8L826.5 322.5L827.0 320.4L827.5 318.5L828.0 316.5L828.5 314.6L829.0 312.7L829.5 310.8L830.0 308.9L830.5 307.0L831.0 305.0L831.5 303.1L832.0 301.1L832.5 299.2L833.0 297.2L833.5 295.1L834.0 293.0L834.5 290.9L835.0 288.8L835.5 286.6L836.0 284.4L836.5 282.2L837.0 280.1L837.5 277.9L838.0 275.8L838.5 273.6L839.0 271.3L839.5 269.0L840.0 266.5L840.5 263.9L841.0 261.1L841.5 258.1L842.0 254.9L842.5 251.4L843.0 247.5L843.5 242.9L844.0 237.8L844.5 232.1L845.0 226.1L845.5 219.7L846.0 212.5L846.5 203.8L847.0 194.6L847.5 186.4L848.0 179.2L848.5 172.0L849.0 167.0L849.5 166.5L850.0 171.1L850.5 178.3L851.0 185.0L851.5 190.5L852.0 195.9L852.5 201.5L853.0 207.4L853.5 213.9L854.0 220.8L854.5 227.8L855.0 234.8L855.5 241.5L856.0 247.9L856.5 253.7L857.0 259.8L857.5 266.3L858.0 272.8L858.5 279.2L859.0 285.2L859.5 290.5L860.0 295.0L860.5 298.4L861.0 300.5L861.5 301.0L862.0 300.2L862.5 298.6L863.0 296.1L863.5 293.0L864.0 289.4L864.5 285.4L865.0 281.2L865.5 276.9L866.0 272.7L866.5 268.6L867.0 263.9L867.5 258.1L868.0 251.6L868.5 244.9L869.0 238.5L869.5 233.0L870.0 228.7L870.5 226.1L871.0 225.8L871.5 226.7L872.0 228.3L872.5 230.5L873.0 233.1L873.5 235.8L874.0 238.4L874.5 240.7L875.0 242.5L875.5 243.9L876.0 245.1L876.5 246.3L877.0 247.5L877.5 248.6L878.0 249.6L878.5 250.5L879.0 251.4L879.5 252.1L880.0 252.8L880.5 253.3L881.0 253.8L881.5 254.3L882.0 254.7L882.5 255.1L883.0 255.4L883.5 255.8L884.0 256.1L884.5 256.4L885.0 256.7L885.5 257.1L886.0 257.4L886.5 257.8L887.0 258.2L887.5 258.6L888.0 259.0L888.5 259.3L889.0 259.6L889.5 260.0L890.0 260.4L890.5 260.9L891.0 261.4L891.5 262.1L892.0 263.0L892.5 264.7L893.0 268.9L893.5 274.3L894.0 278.8M748.5 419.5L749.0 415.4L749.5 411.5L750.0 407.6L750.5 403.8L751.0 400.0L751.5 396.2L752.0 392.2L752.5 388.0L753.0 383.5L753.5 378.1L754.0 372.1L754.5 365.7L755.0 359.2L755.5 353.0L756.0 347.4L756.5 342.5L757.0 338.8L757.5 336.6L758.0 335.9L758.5 335.5L759.0 335.3L759.5 335.1L760.0 335.0L760.5 334.8L761.0 334.7L761.5 334.6L762.0 334.5L762.5 334.3L763.0 334.1L763.5 333.8L764.0 333.4L764.5 332.7L765.0 331.6L765.5 330.3L766.0 328.8L766.5 327.2L767.0 325.6L767.5 324.0L768.0 322.4L768.5 321.0L769.0 319.8L769.5 318.6L770.0 317.3L770.5 315.9L771.0 314.6L771.5 313.3L772.0 312.0L772.5 310.9L773.0 309.9L773.5 309.1L774.0 308.5L774.5 308.1L775.0 308.0L775.5 308.3L776.0 308.9L776.5 309.8L777.0 310.9L777.5 312.2L778.0 313.7L778.5 315.3L779.0 316.9L779.5 318.5L780.0 320.0L780.5 321.7L781.0 323.7L781.5 325.9L782.0 328.2L782.5 330.5L783.0 332.6L783.5 334.6L784.0 336.2L784.5 337.5L785.0 338.6L785.5 339.8L786.0 340.9L786.5 341.8L787.0 342.7L787.5 343.3L788.0 343.8L788.5 344.0L789.0 343.8L789.5 343.2L790.0 342.2L790.5 341.0L791.0 339.8L791.5 338.6L792.0 337.7L792.5 337.1L793.0 337.1L793.5 337.7L794.0 338.8L794.5 340.2L795.0 341.7L795.5 343.5L796.0 345.9L796.5 348.9L797.0 352.1L797.5 355.4L798.0 358.4L798.5 361.1L799.0 363.0L799.5 364.4L800.0 365.7L800.5 366.7L801.0 367.7L801.5 368.6L802.0 369.4L802.5 370.1L803.0 370.9L803.5 371.8L804.0 372.7L804.5 373.7L805.0 374.9L805.5 376.3L806.0 377.9L806.5 379.8L807.0 381.8L807.5 384.0L808.0 386.4L808.5 388.9L809.0 391.4L809.5 394.0L810.0 396.5L810.5 399.0L811.0 401.6L811.5 404.5L812.0 407.5L812.5 410.6L813.0 413.7L813.5 416.8L814.0 419.7L814.5 422.3L815.0 424.7L815.5 426.7L816.0 428.4L816.5 430.0L817.0 431.6L817.5 433.1L818.0 434.6L818.5 435.9L819.0 437.0L819.5 437.9L820.0 438.6L820.5 438.9L821.0 439.0L821.5 438.8L822.0 438.3L822.5 437.7L823.0 436.9L823.5 436.0L824.0 435.0L824.5 433.8L825.0 432.6L825.5 431.3L826.0 430.0L826.5 428.4L827.0 426.4L827.5 423.9L828.0 421.1L828.5 418.1L829.0 414.8L829.5 411.3L830.0 407.8L830.5 404.2L831.0 400.7L831.5 397.2L832.0 393.9L832.5 390.8L833.0 387.8L833.5 384.8L834.0 381.9L834.5 378.9L835.0 375.9L835.5 373.0L836.0 370.0L836.5 367.0L837.0 364.0L837.5 360.9L838.0 357.8L838.5 354.7L839.0 351.5L839.5 348.1L840.0 344.5L840.5 340.9L841.0 337.3L841.5 333.9L842.0 330.8L842.5 328.0L843.0 325.4L843.5 322.6L844.0 319.9L844.5 317.2L845.0 314.7L845.5 312.4L846.0 310.4L846.5 308.8L847.0 307.6L847.5 307.1L848.0 307.3L848.5 309.0L849.0 311.8L849.5 315.7L850.0 320.2L850.5 325.0L851.0 332.1L851.5 341.4L852.0 350.3L852.5 359.3L853.0 368.6L853.5 378.0L854.0 387.6L854.5 397.3L855.0 407.3L855.5 417.6L856.0 427.7L856.5 437.4L857.0 446.3L857.5 455.0L858.0 463.5L858.5 471.5L859.0 478.8L859.5 485.2L860.0 491.8L860.5 498.5L861.0 504.8L861.5 509.9L862.0 513.5L862.5 514.8L863.0 513.7L863.5 510.8L864.0 506.4L864.5 500.8L865.0 494.6L865.5 488.0L866.0 481.1L866.5 472.3L867.0 461.6L867.5 450.1L868.0 438.6L868.5 427.9L869.0 417.0L869.5 405.8L870.0 395.0L870.5 385.6L871.0 378.6L871.5 373.1L872.0 368.0L872.5 363.3L873.0 359.1L873.5 355.5L874.0 352.8L874.5 350.9L875.0 350.0L875.5 349.4L876.0 348.8L876.5 348.3L877.0 347.9L877.5 347.5L878.0 347.3L878.5 347.2L879.0 347.3L879.5 347.8L880.0 348.6L880.5 349.7L881.0 351.1L881.5 352.7L882.0 354.4L882.5 356.2L883.0 357.9L883.5 359.6L884.0 361.2L884.5 363.0L885.0 365.0L885.5 367.1L886.0 369.2L886.5 371.4L887.0 373.6L887.5 375.7L888.0 377.6L888.5 379.4L889.0 381.0L889.5 382.2L890.0 383.1L890.5 384.0L891.0 384.8L891.5 386.0L892.0 387.5L892.5 390.6L893.0 400.3L893.5 412.8L894.0 422.0M748.5 611.7L749.0 606.8L749.5 601.3L750.0 595.4L750.5 589.6L751.0 584.3L751.5 579.8L752.0 575.8L752.5 572.2L753.0 568.8L753.5 565.6L754.0 562.6L754.5 559.6L755.0 556.7L755.5 553.8L756.0 550.6L756.5 547.1L757.0 543.7L757.5 540.6L758.0 538.1L758.5 536.3L759.0 535.4L759.5 535.5L760.0 535.9L760.5 536.6L761.0 537.6L761.5 538.7L762.0 539.9L762.5 541.2L763.0 542.6L763.5 544.0L764.0 545.3L764.5 546.5L765.0 547.5L765.5 548.4L766.0 549.1L766.5 549.4L767.0 549.4L767.5 548.6L768.0 547.2L768.5 545.2L769.0 542.9L769.5 540.5L770.0 538.2L770.5 536.1L771.0 534.4L771.5 532.5L772.0 530.5L772.5 528.5L773.0 526.5L773.5 524.7L774.0 523.0L774.5 521.7L775.0 520.7L775.5 520.1L776.0 520.0L776.5 520.5L777.0 521.3L777.5 522.5L778.0 524.0L778.5 525.7L779.0 527.5L779.5 529.4L780.0 531.5L780.5 534.3L781.0 537.6L781.5 541.4L782.0 545.3L782.5 549.2L783.0 552.8L783.5 556.0L784.0 558.8L784.5 561.6L785.0 564.2L785.5 566.7L786.0 569.2L786.5 571.5L787.0 573.7L787.5 575.8L788.0 577.9L788.5 579.9L789.0 581.9L789.5 583.8L790.0 585.6L790.5 587.4L791.0 589.1L791.5 590.6L792.0 592.1L792.5 593.4L793.0 594.7L793.5 596.0L794.0 597.3L794.5 598.6L795.0 599.9L795.5 601.1L796.0 602.2L796.5 603.2L797.0 604.1L797.5 604.8L798.0 605.3L798.5 605.7L799.0 605.8L799.5 605.5L800.0 604.7L800.5 603.4L801.0 601.9L801.5 600.0L802.0 598.1L802.5 596.1L803.0 594.2L803.5 592.5L804.0 591.1L804.5 589.8L805.0 588.4L805.5 587.1L806.0 585.7L806.5 584.3L807.0 583.1L807.5 582.0L808.0 581.1L808.5 580.4L809.0 580.1L809.5 580.0L810.0 580.4L810.5 581.1L811.0 582.1L811.5 583.3L812.0 584.8L812.5 586.4L813.0 588.2L813.5 590.0L814.0 591.9L814.5 593.8L815.0 596.2L815.5 599.1L816.0 602.4L816.5 605.9L817.0 609.3L817.5 612.5L818.0 615.2L818.5 617.4L819.0 619.5L819.5 621.7L820.0 623.7L820.5 625.6L821.0 627.4L821.5 628.8L822.0 629.9L822.5 630.5L823.0 630.7L823.5 630.3L824.0 629.3L824.5 627.9L825.0 626.1L825.5 624.1L826.0 621.9L826.5 619.7L827.0 617.5L827.5 615.3L828.0 612.7L828.5 609.9L829.0 606.8L829.5 603.6L830.0 600.3L830.5 597.1L831.0 594.0L831.5 591.0L832.0 587.9L832.5 584.7L833.0 581.6L833.5 578.5L834.0 575.5L834.5 572.6L835.0 570.0L835.5 567.4L836.0 564.8L836.5 562.2L837.0 559.6L837.5 557.2L838.0 554.9L838.5 552.8L839.0 551.0L839.5 549.5L840.0 548.4L840.5 547.5L841.0 546.8L841.5 546.0L842.0 545.3L842.5 544.7L843.0 544.2L843.5 543.7L844.0 543.4L844.5 543.1L845.0 543.0L845.5 543.1L846.0 543.7L846.5 544.8L847.0 546.4L847.5 548.3L848.0 550.4L848.5 552.9L849.0 555.5L849.5 558.7L850.0 563.3L850.5 569.0L851.0 575.6L851.5 582.8L852.0 590.4L852.5 599.6L853.0 610.0L853.5 621.1L854.0 632.5L854.5 644.0L855.0 656.4L855.5 669.3L856.0 682.3L856.5 694.6L857.0 705.7L857.5 716.2L858.0 726.1L858.5 735.7L859.0 745.2L859.5 754.8L860.0 766.5L860.5 778.4L861.0 787.4L861.5 789.5L862.0 789.5L862.5 789.5L863.0 789.5L863.5 789.5L864.0 789.5L864.5 789.5L865.0 786.8L865.5 778.6L866.0 767.2L866.5 754.4L867.0 742.2L867.5 730.9L868.0 718.5L868.5 705.5L869.0 692.6L869.5 680.3L870.0 669.0L870.5 658.2L871.0 647.8L871.5 637.7L872.0 628.1L872.5 618.8L873.0 609.9L873.5 601.3L874.0 593.0L874.5 584.8L875.0 576.6L875.5 567.3L876.0 557.7L876.5 549.2L877.0 542.9L877.5 540.2L878.0 539.0L878.5 538.1L879.0 537.3L879.5 536.9L880.0 536.7L880.5 537.0L881.0 537.9L881.5 539.1L882.0 540.8L882.5 542.7L883.0 544.8L883.5 546.9L884.0 549.1L884.5 551.9L885.0 555.1L885.5 558.6L886.0 562.2L886.5 565.7L887.0 569.1L887.5 572.7L888.0 576.3L888.5 579.7L889.0 583.0L889.5 586.5L890.0 590.3L890.5 593.8L891.0 596.3L891.5 597.3L892.0 596.6L892.5 594.9L893.0 592.9L893.5 591.5L894.0 590.2" fill="none" stroke="#000" stroke-width="1.15" stroke-linejoin="round"/><path d="M747.0 205.0C747.2 203.3 748.1 199.2 748.5 195.0C748.9 190.8 749.2 186.5 749.6 180.0C750.0 173.5 750.3 164.6 751.0 156.0C751.7 147.4 752.8 137.0 753.7 128.5C754.6 120.0 756.0 109.1 756.5 105.2M775.0 88.0C775.2 87.0 775.7 84.4 776.0 82.0C776.3 79.6 776.5 76.5 777.0 73.7C777.5 71.0 778.5 70.3 779.0 65.5C779.5 60.7 779.6 50.9 780.0 45.0C780.4 39.1 781.0 30.0 781.5 30.0C782.0 30.0 782.6 39.1 783.0 45.0C783.4 50.9 782.8 60.0 783.9 65.5C785.0 71.0 787.1 75.3 789.4 77.8C791.7 80.3 795.3 77.8 797.6 80.6C799.9 83.3 801.4 88.6 803.0 94.3C804.6 100.0 805.8 107.7 807.2 114.8C808.6 121.9 809.7 129.9 811.3 136.8C812.9 143.7 815.0 150.5 816.8 156.0C818.6 161.5 820.9 166.3 822.3 169.7C823.7 173.1 823.9 176.9 825.0 176.5C826.1 176.1 827.7 170.6 829.0 167.0C830.3 163.4 831.9 158.5 833.0 155.0C834.1 151.5 835.1 147.5 835.5 146.0M842.3 106.0C842.5 103.3 843.4 96.8 843.8 90.0C844.2 83.2 844.4 73.8 844.9 65.5C845.4 57.2 845.6 49.2 846.5 40.0C847.4 30.8 848.8 10.0 850.0 10.0C851.2 10.0 852.6 30.8 853.5 40.0C854.4 49.2 854.5 57.6 855.2 65.5C855.9 73.4 857.0 80.6 857.9 87.4C858.8 94.2 859.7 104.3 860.6 106.6C861.5 108.9 862.5 104.2 863.4 101.0C864.3 97.8 865.0 92.0 866.1 87.4C867.2 82.9 869.0 77.0 870.2 73.7C871.4 70.4 873.0 68.5 873.5 67.5M879.3 106.0C879.7 107.6 880.7 113.3 881.8 115.7C882.9 118.1 884.3 119.7 885.7 120.2C887.1 120.8 888.7 119.8 890.1 119.0C891.5 118.2 893.2 116.4 894.0 115.7C894.8 115.0 894.8 115.1 895.0 115.0M747.0 275.0C747.2 272.8 747.8 267.8 748.5 262.0C749.2 256.2 749.9 248.7 751.0 240.0C752.1 231.3 753.7 219.4 755.0 210.0C756.3 200.6 757.3 189.0 758.6 183.4C759.9 177.8 761.5 176.2 762.9 176.5C764.3 176.8 765.7 183.3 767.1 185.0C768.5 186.7 770.0 187.9 771.4 186.8C772.8 185.7 774.3 179.4 775.7 178.3C777.1 177.2 778.6 180.3 780.0 180.0C781.4 179.7 783.2 178.5 784.3 176.5C785.4 174.5 786.2 169.4 786.6 168.0M790.6 130.0C791.0 128.1 792.1 121.5 792.8 118.3C793.5 115.1 793.8 110.1 794.8 110.7C795.8 111.3 797.6 116.4 799.0 121.7C800.4 127.0 802.0 135.5 803.0 142.3C804.0 149.2 804.7 156.5 805.3 162.8C805.9 169.1 806.1 173.8 806.5 180.0C806.9 186.2 807.3 192.4 807.8 200.0C808.3 207.6 808.5 215.7 809.3 225.7C810.1 235.7 811.2 250.6 812.5 260.0C813.8 269.4 815.5 277.2 816.8 282.3C818.1 287.4 819.0 290.8 820.3 290.8C821.6 290.8 823.2 286.6 824.6 282.3C826.0 278.0 827.5 270.7 828.8 265.0C830.1 259.3 831.3 252.8 832.3 248.0C833.3 243.2 834.4 238.0 834.8 236.0M841.5 200.0C842.1 195.2 844.1 180.5 845.0 171.4C845.9 162.3 846.4 152.6 847.0 145.7C847.6 138.8 848.0 130.6 848.5 130.0C849.0 129.4 849.2 136.8 849.9 142.3C850.5 147.8 851.6 156.5 852.4 162.8C853.2 169.1 853.9 173.8 854.5 180.0C855.1 186.2 855.8 194.9 856.3 200.0C856.8 205.1 857.1 207.5 857.8 210.3C858.5 213.1 859.5 217.3 860.5 217.0C861.5 216.7 863.0 213.1 864.0 208.6C865.0 204.1 865.8 197.3 866.5 190.0C867.2 182.7 867.5 173.0 868.0 165.0C868.5 157.0 868.8 147.4 869.3 142.0C869.8 136.6 870.7 132.7 871.2 132.4C871.8 132.1 872.2 136.2 872.6 140.0C873.0 143.8 873.6 152.5 873.8 155.0M876.6 189.0C876.8 189.8 877.4 192.7 878.0 194.0C878.6 195.3 879.0 195.9 880.2 197.0C881.4 198.1 883.7 200.8 885.4 200.5C887.1 200.2 889.1 194.7 890.5 195.4C891.9 196.2 892.8 202.6 893.5 205.0C894.2 207.4 894.8 209.2 895.0 210.0" fill="none" stroke="#000" stroke-width="4.6" stroke-linejoin="round" stroke-linecap="butt"/></g><clipPath id="cs4"><rect x="898.2" y="64.5" width="32.0" height="715.0"/></clipPath><g clip-path="url(#cs4)"><path d="M898.2 109.0L898.7 109.1L899.2 109.2L899.7 109.4L900.2 109.7L900.7 110.1L901.2 110.7L901.7 111.5L902.2 112.4L902.7 113.3L903.2 114.1L903.7 114.7L904.2 115.3L904.7 116.0L905.2 116.6L905.7 117.1L906.2 117.5L906.7 117.7L907.2 117.8L907.7 117.8L908.2 117.8L908.7 117.7L909.2 117.5L909.7 117.2L910.2 116.6L910.7 115.8L911.2 114.7L911.7 113.4L912.2 112.1L912.7 110.6L913.2 108.6L913.7 106.2L914.2 103.5L914.7 100.6L915.2 97.0L915.7 92.9L916.2 88.6L916.7 84.1L917.2 78.4L917.7 70.9L918.2 63.0L918.7 56.1L919.2 54.5L919.7 54.5L920.2 54.5L920.7 54.5L921.2 54.5L921.7 54.5L922.2 54.5L922.7 54.5L923.2 54.5L923.7 54.5L924.2 54.5L924.7 54.5L925.2 54.5L925.7 54.5L926.2 54.5L926.7 61.2L927.2 69.6L927.7 77.3L928.2 82.2L928.7 85.4L929.2 89.7L929.7 97.2L930.2 104.7M898.2 135.0L898.7 134.7L899.2 134.3L899.7 134.0L900.2 133.7L900.7 133.6L901.2 133.6L901.7 133.8L902.2 134.0L902.7 134.2L903.2 134.4L903.7 134.5L904.2 134.5L904.7 134.6L905.2 134.7L905.7 134.7L906.2 134.5L906.7 134.3L907.2 134.0L907.7 133.6L908.2 133.2L908.7 132.7L909.2 132.2L909.7 131.5L910.2 130.7L910.7 129.7L911.2 128.4L911.7 127.1L912.2 125.7L912.7 124.2L913.2 122.3L913.7 120.1L914.2 117.7L914.7 115.1L915.2 112.1L915.7 108.7L916.2 105.0L916.7 101.3L917.2 96.6L917.7 90.6L918.2 84.2L918.7 78.5L919.2 74.5L919.7 71.1L920.2 68.1L920.7 65.7L921.2 64.0L921.7 63.0L922.2 62.9L922.7 63.3L923.2 64.3L923.7 65.6L924.2 67.2L924.7 69.2L925.2 71.4L925.7 73.9L926.2 76.7L926.7 81.9L927.2 88.3L927.7 94.2L928.2 98.1L928.7 100.6L929.2 104.9L929.7 113.9L930.2 122.6M898.2 161.0L898.7 160.2L899.2 159.4L899.7 158.6L900.2 157.8L900.7 157.1L901.2 156.5L901.7 156.0L902.2 155.6L902.7 155.2L903.2 154.7L903.7 154.2L904.2 153.7L904.7 153.2L905.2 152.7L905.7 152.2L906.2 151.6L906.7 150.9L907.2 150.2L907.7 149.4L908.2 148.6L908.7 147.7L909.2 146.8L909.7 145.9L910.2 144.8L910.7 143.5L911.2 142.2L911.7 140.7L912.2 139.3L912.7 137.7L913.2 136.0L913.7 134.0L914.2 131.9L914.7 129.7L915.2 127.2L915.7 124.4L916.2 121.5L916.7 118.5L917.2 114.9L917.7 110.3L918.2 105.4L918.7 101.0L919.2 97.8L919.7 95.0L920.2 92.8L920.7 91.2L921.2 90.0L921.7 89.3L922.2 89.3L922.7 89.6L923.2 90.3L923.7 91.2L924.2 92.4L924.7 93.7L925.2 95.3L925.7 97.0L926.2 99.1L926.7 102.6L927.2 107.0L927.7 111.2L928.2 113.9L928.7 115.8L929.2 120.2L929.7 130.6L930.2 140.6M898.2 187.0L898.7 185.7L899.2 184.4L899.7 183.1L900.2 181.9L900.7 180.6L901.2 179.4L901.7 178.3L902.2 177.2L902.7 176.1L903.2 175.0L903.7 173.9L904.2 172.9L904.7 171.8L905.2 170.8L905.7 169.7L906.2 168.6L906.7 167.5L907.2 166.3L907.7 165.2L908.2 164.0L908.7 162.7L909.2 161.5L909.7 160.2L910.2 158.8L910.7 157.4L911.2 155.9L911.7 154.4L912.2 152.9L912.7 151.3L913.2 149.7L913.7 147.9L914.2 146.1L914.7 144.3L915.2 142.2L915.7 140.1L916.2 137.9L916.7 135.7L917.2 133.1L917.7 130.0L918.2 126.6L918.7 123.4L919.2 121.0L919.7 119.0L920.2 117.5L920.7 116.6L921.2 116.0L921.7 115.7L922.2 115.7L922.7 115.9L923.2 116.3L923.7 116.8L924.2 117.5L924.7 118.3L925.2 119.2L925.7 120.2L926.2 121.4L926.7 123.3L927.2 125.8L927.7 128.1L928.2 129.7L928.7 131.0L929.2 135.4L929.7 147.3L930.2 158.5M898.2 56.0L898.7 56.6L899.2 57.2L899.7 57.8L900.2 58.6L900.7 59.6L901.2 60.9L901.7 62.3L902.2 63.8L902.7 65.4L903.2 66.8L903.7 68.0L904.2 69.2L904.7 70.4L905.2 71.5L905.7 72.6L906.2 73.5L906.7 74.1L907.2 74.6L907.7 75.0L908.2 75.4L908.7 75.7L909.2 75.9L909.7 75.9L910.2 75.6L910.7 74.9L911.2 73.9L911.7 72.7L912.2 71.4L912.7 70.0L913.2 67.9L913.7 65.3L914.2 62.3L914.7 59.0L915.2 55.0L915.7 54.5L916.2 54.5L916.7 54.5L917.2 54.5L917.7 54.5L918.2 54.5L918.7 54.5L919.2 54.5L919.7 54.5L920.2 54.5L920.7 54.5L921.2 54.5L921.7 54.5L922.2 54.5L922.7 54.5L923.2 54.5L923.7 54.5L924.2 54.5L924.7 54.5L925.2 54.5L925.7 54.5L926.2 54.5L926.7 54.5L927.2 54.5L927.7 54.5L928.2 54.5L928.7 54.5L929.2 54.5L929.7 54.5L930.2 59.7M898.2 263.4L898.7 261.8L899.2 260.1L899.7 258.4L900.2 256.7L900.7 254.9L901.2 253.1L901.7 251.3L902.2 249.6L902.7 247.8L903.2 246.1L903.7 244.4L904.2 242.8L904.7 241.2L905.2 239.7L905.7 238.2L906.2 236.8L906.7 235.4L907.2 234.0L907.7 232.5L908.2 231.1L908.7 229.7L909.2 228.2L909.7 226.7L910.2 225.2L910.7 223.6L911.2 222.0L911.7 220.3L912.2 218.6L912.7 217.0L913.2 215.2L913.7 213.5L914.2 211.6L914.7 209.6L915.2 207.6L915.7 205.4L916.2 203.0L916.7 200.3L917.2 197.0L917.7 193.5L918.2 189.7L918.7 185.8L919.2 181.9L919.7 178.1L920.2 174.7L920.7 171.6L921.2 169.0L921.7 166.3L922.2 163.6L922.7 161.2L923.2 159.3L923.7 158.2L924.2 158.6L924.7 164.2L925.2 173.7L925.7 184.5L926.2 194.0L926.7 199.9L927.2 203.7L927.7 206.8L928.2 209.9L928.7 213.9L929.2 220.1L929.7 230.8L930.2 238.4M898.2 396.5L898.7 392.2L899.2 386.9L899.7 381.3L900.2 376.0L900.7 371.8L901.2 368.2L901.7 364.8L902.2 361.6L902.7 358.5L903.2 355.4L903.7 352.3L904.2 349.1L904.7 345.6L905.2 341.8L905.7 337.9L906.2 334.0L906.7 330.3L907.2 326.7L907.7 323.6L908.2 321.0L908.7 318.7L909.2 316.6L909.7 314.7L910.2 312.9L910.7 311.1L911.2 309.3L911.7 307.5L912.2 305.6L912.7 303.7L913.2 301.8L913.7 299.9L914.2 298.2L914.7 296.5L915.2 294.9L915.7 293.5L916.2 292.3L916.7 291.4L917.2 290.7L917.7 290.1L918.2 289.5L918.7 289.0L919.2 288.5L919.7 288.1L920.2 287.8L920.7 287.5L921.2 287.4L921.7 287.5L922.2 288.0L922.7 288.8L923.2 290.1L923.7 291.6L924.2 293.5L924.7 295.6L925.2 299.0L925.7 305.4L926.2 313.8L926.7 323.1L927.2 332.2L927.7 340.1L928.2 348.2L928.7 356.2L929.2 363.5L929.7 369.3L930.2 374.1M898.2 576.3L898.7 579.1L899.2 582.0L899.7 584.0L900.2 583.9L900.7 579.4L901.2 572.5L901.7 566.0L902.2 561.4L902.7 557.0L903.2 552.8L903.7 548.8L904.2 545.0L904.7 541.5L905.2 538.3L905.7 535.4L906.2 532.7L906.7 530.1L907.2 527.6L907.7 525.2L908.2 522.9L908.7 520.8L909.2 519.0L909.7 517.3L910.2 516.0L910.7 515.0L911.2 514.2L911.7 513.4L912.2 512.7L912.7 512.0L913.2 511.4L913.7 510.9L914.2 510.5L914.7 510.1L915.2 509.9L915.7 509.7L916.2 509.7L916.7 509.7L917.2 509.7L917.7 509.8L918.2 509.8L918.7 509.8L919.2 509.9L919.7 510.0L920.2 510.0L920.7 510.1L921.2 510.2L921.7 510.8L922.2 511.9L922.7 513.5L923.2 515.5L923.7 517.9L924.2 520.5L924.7 523.3L925.2 526.3L925.7 530.2L926.2 535.1L926.7 540.9L927.2 547.6L927.7 555.5L928.2 566.9L928.7 578.6L929.2 588.2L929.7 597.0L930.2 603.5" fill="none" stroke="#000" stroke-width="1.15" stroke-linejoin="round"/><path d="M897.0 82.0C897.1 82.0 896.9 81.7 897.4 82.3C897.9 82.9 899.2 83.6 900.2 85.6C901.2 87.6 902.4 91.9 903.5 94.5C904.6 97.1 905.8 99.8 906.8 101.2C907.8 102.6 908.7 103.5 909.6 102.9C910.5 102.4 911.6 100.6 912.4 97.9C913.2 95.2 914.0 91.2 914.6 86.7C915.2 82.2 915.9 74.8 916.3 71.1C916.7 67.4 916.4 71.3 916.9 64.5C917.4 57.6 918.1 39.1 919.0 30.0C919.9 20.9 920.8 10.0 922.0 10.0C923.2 10.0 925.0 20.9 926.0 30.0C927.0 39.1 927.5 57.3 928.0 64.5C928.5 71.7 928.7 69.7 929.1 73.4C929.5 77.1 929.9 83.1 930.2 86.7C930.5 90.3 930.9 93.6 931.0 95.0M897.0 217.0C897.2 216.3 897.2 216.5 898.2 213.0C899.2 209.5 901.4 201.5 903.0 196.0C904.6 190.5 906.3 185.3 908.0 180.0C909.7 174.7 911.5 168.7 913.0 164.0C914.5 159.3 915.8 155.7 917.0 152.0C918.2 148.3 919.9 143.7 920.5 142.0M928.6 146.0C928.7 147.0 929.1 147.5 929.3 152.0C929.5 156.5 929.7 167.5 930.0 173.0C930.3 178.5 930.8 183.0 931.0 185.0" fill="none" stroke="#000" stroke-width="4.6" stroke-linejoin="round" stroke-linecap="butt"/></g><clipPath id="csx"><rect x="152.5" y="64.5" width="812" height="715.0"/></clipPath><g clip-path="url(#csx)"><path d="M235.0 110.5C235.3 111.7 237.0 115.2 237.0 117.5C237.0 119.8 235.7 124.5 235.0 124.5C234.3 124.5 233.0 119.8 233.0 117.5C233.0 115.2 234.7 111.7 235.0 110.5M552.0 268.6C552.2 264.3 552.4 251.7 553.4 242.8C554.4 233.9 556.4 223.8 557.7 215.0C559.0 206.2 560.0 197.2 561.0 190.0C562.0 182.8 563.1 175.7 564.0 172.0C564.9 168.3 565.9 168.7 566.3 168.0M552.0 350.0C552.2 349.3 552.3 353.9 553.4 346.0C554.5 338.1 557.0 313.9 558.6 302.8C560.2 291.8 561.6 280.5 562.9 279.7C564.2 278.9 565.7 294.9 566.3 298.0M552.0 543.0C552.7 538.3 554.7 522.1 556.0 514.8C557.3 507.5 558.5 500.2 559.8 499.4C561.1 498.5 562.7 506.1 563.7 509.7C564.7 513.3 565.4 519.3 565.7 521.2M552.0 120.0C552.7 121.3 554.7 126.2 556.0 128.0C557.3 129.8 558.3 130.0 560.0 131.0C561.7 132.0 565.2 133.5 566.3 134.0M552.0 140.0C552.7 141.7 554.7 148.0 556.0 150.0C557.3 152.0 558.3 152.0 560.0 152.0C561.7 152.0 565.2 150.3 566.3 150.0M552.0 165.0C552.5 166.2 554.0 172.8 555.0 172.0C556.0 171.2 556.8 165.3 558.0 160.0C559.2 154.7 560.6 143.8 562.0 140.0C563.4 136.2 565.6 137.5 566.3 137.0M572.2 340.0C572.7 343.0 574.1 353.9 575.2 358.0C576.3 362.1 577.3 364.8 578.6 364.4C579.9 364.0 581.9 359.5 583.0 355.4C584.1 351.3 584.9 343.1 585.5 340.0C586.1 336.9 585.9 337.9 586.8 337.0C587.7 336.1 589.5 334.5 591.1 334.5C592.7 334.5 594.6 336.9 596.3 337.0C598.0 337.1 600.0 336.2 601.4 335.4C602.8 334.6 604.2 332.6 604.8 332.0M572.7 565.0C573.3 561.8 574.6 552.8 576.5 545.7C578.4 538.6 581.8 527.6 584.2 522.5C586.6 517.4 588.6 514.4 590.7 514.8C592.9 515.2 595.2 521.1 597.1 525.0C599.0 528.9 600.9 534.8 602.2 538.0C603.5 541.2 604.4 543.3 604.8 544.4M567.2 200.0C567.4 201.5 567.9 206.7 568.5 209.0C569.1 211.3 569.9 210.8 570.6 214.0C571.4 217.2 572.1 223.2 573.0 228.0C573.9 232.8 574.7 239.4 575.7 243.0C576.7 246.6 577.7 251.1 579.1 249.7C580.5 248.2 582.6 239.8 584.3 234.3C586.0 228.9 588.0 220.2 589.4 217.0C590.8 213.8 591.6 214.5 592.8 215.4C593.9 216.3 595.1 221.4 596.3 222.3C597.5 223.2 598.6 221.6 600.0 221.0C601.4 220.4 604.0 219.2 604.8 218.9M572.2 95.0C572.7 99.2 574.0 112.0 575.0 120.0C576.0 128.0 577.0 143.0 578.0 143.0C579.0 143.0 580.0 127.2 581.0 120.0C582.0 112.8 583.0 104.2 584.0 100.0C585.0 95.8 586.0 93.0 587.0 95.0C588.0 97.0 588.8 104.8 590.0 112.0C591.2 119.2 592.7 132.3 594.0 138.0C595.3 143.7 596.7 145.7 598.0 146.0C599.3 146.3 600.9 142.3 602.0 140.0C603.1 137.7 604.3 133.3 604.8 132.0M572.2 80.0C572.8 84.0 575.0 97.7 576.0 104.0C577.0 110.3 577.7 118.7 578.5 118.0C579.3 117.3 580.2 105.3 581.0 100.0C581.8 94.7 582.2 90.0 583.0 86.0C583.8 82.0 585.0 76.0 586.0 76.0C587.0 76.0 587.8 80.3 589.0 86.0C590.2 91.7 591.7 103.8 593.0 110.0C594.3 116.2 595.7 121.7 597.0 123.0C598.3 124.3 599.7 120.5 601.0 118.0C602.3 115.5 604.2 109.7 604.8 108.0M572.2 118.0C572.7 121.7 574.0 133.0 575.0 140.0C576.0 147.0 577.3 159.7 578.5 160.0C579.7 160.3 580.9 148.0 582.0 142.0C583.1 136.0 584.0 128.0 585.0 124.0C586.0 120.0 587.0 116.7 588.0 118.0C589.0 119.3 589.8 126.3 591.0 132.0C592.2 137.7 593.7 147.3 595.0 152.0C596.3 156.7 597.4 160.0 599.0 160.0C600.6 160.0 603.8 153.3 604.8 152.0M586.0 64.5C586.3 67.1 587.2 74.9 588.0 80.0C588.8 85.1 589.8 91.7 591.0 95.0C592.2 98.3 593.7 100.8 595.0 100.0C596.3 99.2 597.8 95.9 599.0 90.0C600.2 84.1 601.5 68.8 602.0 64.5M590.0 64.5C590.3 66.4 591.2 73.1 592.0 76.0C592.8 78.9 594.0 82.3 595.0 82.0C596.0 81.7 597.2 76.9 598.0 74.0C598.8 71.1 599.2 66.1 599.5 64.5M645.4 553.4C645.9 557.3 647.6 577.6 648.5 576.7C649.4 575.8 650.2 552.8 650.6 548.0M658.3 579.3C659.0 579.7 661.1 581.2 662.6 581.9C664.1 582.6 666.3 583.4 667.0 583.7M645.5 309.7C646.0 314.2 647.6 330.3 648.5 337.0C649.4 343.7 650.6 347.8 651.0 350.0M657.2 382.4C657.9 383.5 659.8 386.9 661.4 388.8C663.0 390.7 666.1 393.1 667.0 394.0M657.1 258.3C657.8 261.4 659.8 271.6 661.4 277.0C663.0 282.4 666.1 288.5 667.0 290.8M645.4 240.0C645.8 243.7 647.1 255.3 648.0 262.0C648.9 268.7 650.5 277.0 651.0 280.0M645.2 60.0C645.7 62.3 647.0 69.0 648.0 74.0C649.0 79.0 650.5 87.3 651.0 90.0M645.2 73.0C645.7 75.3 647.0 82.0 648.0 87.0C649.0 92.0 650.5 100.3 651.0 103.0M645.2 86.0C645.7 88.3 647.0 95.0 648.0 100.0C649.0 105.0 650.5 113.3 651.0 116.0M645.2 99.0C645.7 101.3 647.0 108.0 648.0 113.0C649.0 118.0 650.5 126.3 651.0 129.0M645.2 112.0C645.7 114.3 647.0 121.0 648.0 126.0C649.0 131.0 650.5 139.3 651.0 142.0M645.2 125.0C645.7 127.3 647.0 134.0 648.0 139.0C649.0 144.0 650.5 152.3 651.0 155.0M645.2 138.0C645.7 140.3 647.0 147.0 648.0 152.0C649.0 157.0 650.5 165.3 651.0 168.0M645.2 151.0C645.7 153.3 647.0 160.0 648.0 165.0C649.0 170.0 650.5 178.3 651.0 181.0M645.2 164.0C645.7 166.3 647.0 173.0 648.0 178.0C649.0 183.0 650.5 191.3 651.0 194.0M645.2 177.0C645.7 179.3 647.0 186.0 648.0 191.0C649.0 196.0 650.5 204.3 651.0 207.0M645.2 190.0C645.7 192.3 647.0 199.0 648.0 204.0C649.0 209.0 650.5 217.3 651.0 220.0M657.2 58.0C658.0 60.5 660.4 67.3 662.0 73.0C663.6 78.7 666.2 88.8 667.0 92.0M657.2 75.0C658.0 77.5 660.4 84.3 662.0 90.0C663.6 95.7 666.2 105.8 667.0 109.0M657.2 92.0C658.0 94.5 660.4 101.3 662.0 107.0C663.6 112.7 666.2 122.8 667.0 126.0M657.2 109.0C658.0 111.5 660.4 118.3 662.0 124.0C663.6 129.7 666.2 139.8 667.0 143.0M657.2 126.0C658.0 128.5 660.4 135.3 662.0 141.0C663.6 146.7 666.2 156.8 667.0 160.0M657.2 143.0C658.0 145.5 660.4 152.3 662.0 158.0C663.6 163.7 666.2 173.8 667.0 177.0M657.2 160.0C658.0 162.5 660.4 169.3 662.0 175.0C663.6 180.7 666.2 190.8 667.0 194.0M657.2 177.0C658.0 179.5 660.4 186.3 662.0 192.0C663.6 197.7 666.2 207.8 667.0 211.0M657.2 194.0C658.0 196.5 660.4 203.3 662.0 209.0C663.6 214.7 666.2 224.8 667.0 228.0M544.5 64.5C544.8 66.4 545.4 72.4 546.5 76.0C547.6 79.6 549.2 84.2 551.0 86.0C552.8 87.8 555.2 88.0 557.0 87.0C558.8 86.0 560.6 82.8 562.0 80.0C563.4 77.2 564.8 72.6 565.5 70.0C566.2 67.4 566.2 65.4 566.3 64.5M546.1 64.5C546.4 66.5 547.1 72.8 548.1 76.8C549.1 80.8 550.5 86.1 552.0 88.2C553.4 90.3 555.4 90.6 557.0 89.6C558.6 88.6 560.2 85.4 561.5 82.4C562.9 79.4 564.4 74.2 565.2 71.5C566.0 68.8 566.1 67.3 566.3 66.5M547.7 64.5C548.0 66.7 548.8 73.3 549.7 77.6C550.6 81.9 551.7 88.0 552.9 90.4C554.1 92.8 555.6 93.1 557.0 92.2C558.4 91.3 559.7 88.0 561.0 84.8C562.3 81.6 564.0 75.7 564.9 73.0C565.7 70.3 566.1 69.2 566.3 68.5M549.3 64.5C549.6 66.8 550.5 73.7 551.3 78.4C552.1 83.1 552.9 89.9 553.9 92.6C554.8 95.3 555.9 95.7 557.0 94.8C558.1 93.9 559.3 90.6 560.6 87.2C561.8 83.8 563.6 77.3 564.5 74.5C565.5 71.7 566.0 71.2 566.3 70.5M550.9 64.5C551.2 67.0 552.2 74.2 552.9 79.2C553.6 84.2 554.2 91.8 554.8 94.8C555.5 97.8 556.1 98.3 557.0 97.4C557.9 96.5 558.9 93.2 560.1 89.6C561.3 86.0 563.2 78.8 564.2 76.0C565.3 73.2 566.0 73.1 566.3 72.5M552.5 64.5C552.8 67.1 554.0 74.6 554.5 80.0C555.0 85.4 555.4 93.7 555.8 97.0C556.2 100.3 556.4 100.8 557.0 100.0C557.6 99.2 558.5 95.8 559.6 92.0C560.8 88.2 562.8 80.4 563.9 77.5C565.0 74.6 565.9 75.0 566.3 74.5M554.1 64.5C554.4 67.2 555.7 75.0 556.1 80.8C556.5 86.6 556.6 95.6 556.8 99.2C556.9 102.8 556.6 103.4 557.0 102.6C557.4 101.8 558.0 98.3 559.1 94.4C560.2 90.5 562.4 82.0 563.6 79.0C564.8 76.0 565.8 76.9 566.3 76.5M552.0 92.0C552.5 93.3 553.8 98.0 555.0 100.0C556.2 102.0 557.7 103.8 559.0 104.0C560.3 104.2 561.8 102.3 563.0 101.0C564.2 99.7 565.8 96.8 566.3 96.0M552.0 96.0C552.5 97.3 553.8 102.1 555.0 104.0C556.2 105.9 557.7 107.5 559.0 107.5C560.3 107.5 561.8 105.4 563.0 104.0C564.2 102.6 565.8 99.8 566.3 99.0M552.0 100.0C552.5 101.3 553.8 106.2 555.0 108.0C556.2 109.8 557.7 111.2 559.0 111.0C560.3 110.8 561.8 108.5 563.0 107.0C564.2 105.5 565.8 102.8 566.3 102.0M552.0 104.0C552.5 105.3 553.8 110.2 555.0 112.0C556.2 113.8 557.7 114.8 559.0 114.5C560.3 114.2 561.8 111.6 563.0 110.0C564.2 108.4 565.8 105.8 566.3 105.0M552.0 108.0C552.5 109.3 553.8 114.3 555.0 116.0C556.2 117.7 557.7 118.5 559.0 118.0C560.3 117.5 561.8 114.7 563.0 113.0C564.2 111.3 565.8 108.8 566.3 108.0M204.3 64.5C204.8 66.5 206.5 72.3 207.2 76.2C208.0 80.2 208.4 88.0 209.0 88.0C209.6 88.0 210.0 80.2 210.8 76.2C211.5 72.3 213.2 66.5 213.7 64.5M203.1 64.5C203.7 67.4 205.6 76.0 206.6 81.8C207.6 87.5 208.2 99.0 209.0 99.0C209.8 99.0 210.4 87.5 211.4 81.8C212.4 76.0 214.3 67.4 214.9 64.5M201.9 64.5C202.6 68.1 204.7 79.0 205.9 86.2C207.1 93.5 208.0 108.0 209.0 108.0C210.0 108.0 210.9 93.5 212.1 86.2C213.3 79.0 215.4 68.1 216.1 64.5M200.5 64.5C201.3 68.9 203.7 82.0 205.2 90.8C206.6 99.5 207.7 117.0 209.0 117.0C210.3 117.0 211.4 99.5 212.8 90.8C214.3 82.0 216.7 68.9 217.5 64.5M198.9 64.5C199.8 69.5 202.6 84.7 204.3 94.8C206.0 104.8 207.4 125.0 209.0 125.0C210.6 125.0 212.0 104.8 213.7 94.8C215.4 84.7 218.2 69.5 219.1 64.5M496.1 64.5C496.8 66.2 498.8 71.5 500.4 74.5C502.0 77.5 504.1 82.7 505.7 82.5C507.3 82.3 508.5 76.5 509.7 73.5C511.0 70.5 512.6 66.0 513.2 64.5M494.6 64.5C495.4 66.6 497.7 73.3 499.6 77.2C501.5 81.2 503.9 88.2 505.7 88.0C507.5 87.8 508.9 80.2 510.4 76.2C511.9 72.3 513.8 66.5 514.4 64.5M493.0 64.5C494.0 67.1 496.7 75.2 498.8 80.0C500.9 84.8 503.7 93.7 505.7 93.5C507.7 93.3 509.4 83.8 511.1 79.0C512.7 74.2 514.9 66.9 515.7 64.5M491.5 64.5C492.6 67.6 495.6 77.2 498.0 83.0C500.4 88.8 503.4 99.7 505.7 99.5C508.0 99.3 509.9 87.8 511.7 82.0C513.6 76.2 516.1 67.4 516.9 64.5" fill="none" stroke="#000" stroke-width="1.15"/><path d="M204.2 64.5C204.7 67.1 206.2 75.1 207.0 80.0C207.8 84.9 208.2 94.0 209.0 94.0C209.8 94.0 210.7 84.9 211.5 80.0C212.3 75.1 213.4 67.1 213.8 64.5M300.8 64.5L302.2 80.6M496.8 64.5C497.6 65.6 499.8 68.8 501.3 71.0C502.8 73.2 504.2 77.8 505.7 77.8C507.2 77.8 509.1 73.2 510.2 71.0C511.3 68.8 512.0 65.6 512.4 64.5M552.0 102.0C552.2 102.5 552.6 103.5 553.3 105.2C554.0 106.9 554.9 110.5 556.0 112.0C557.1 113.5 558.6 113.5 560.0 114.0C561.4 114.5 563.2 114.4 564.3 114.8C565.3 115.2 566.0 116.2 566.3 116.5M552.0 214.0C552.2 213.4 552.7 212.6 553.4 210.3C554.1 208.0 555.2 205.1 556.0 200.0C556.8 194.9 557.1 186.0 558.0 180.0C558.9 174.0 560.3 168.2 561.5 164.2C562.7 160.2 564.2 157.5 565.0 156.0C565.8 154.5 566.1 155.2 566.3 155.0M572.2 158.0L573.2 180.0M582.8 180.0C583.1 177.8 583.9 170.8 584.8 167.0C585.7 163.2 587.1 158.2 588.3 157.3C589.4 156.4 590.5 159.4 591.7 161.5C593.0 163.6 594.2 167.6 595.8 169.7C597.4 171.8 599.8 172.9 601.3 173.8C602.8 174.7 604.2 175.0 604.8 175.2M582.0 64.5C582.5 66.0 584.5 70.3 584.8 73.7C585.0 77.1 583.7 82.9 583.5 84.7M604.0 64.5L604.7 77.8M543.5 64.5C543.9 66.4 544.8 72.8 546.0 76.0C547.2 79.2 549.2 82.7 551.0 84.0C552.8 85.3 555.0 85.7 557.0 84.0C559.0 82.3 561.5 77.2 563.0 74.0C564.5 70.8 565.5 66.1 566.0 64.5M648.5 68.0C648.7 73.3 649.4 89.2 649.8 100.0C650.1 110.8 650.5 127.5 650.6 133.0M645.8 164.0C646.2 166.7 647.8 174.0 648.5 180.0C649.2 186.0 649.8 195.2 650.2 200.0C650.6 204.8 650.7 207.5 650.8 209.0M657.5 125.8C658.2 127.7 660.5 133.3 662.0 137.0C663.5 140.7 665.7 145.9 666.4 147.7M657.4 205.0C658.1 207.0 659.9 211.8 661.4 217.0C662.9 222.2 665.7 232.8 666.6 236.0" fill="none" stroke="#000" stroke-width="4.6" stroke-linejoin="round"/></g><text class="ct" transform="translate(178.1,108.7) rotate(-85)" text-anchor="middle" y="6.9">25</text><text class="ct" transform="translate(249.6,129.5) rotate(-75)" text-anchor="middle" y="6.9">25</text><text class="ct" transform="translate(329.5,127.2) rotate(-85)" text-anchor="middle" y="6.9">25</text><text class="ct" transform="translate(417.5,81) rotate(25)" text-anchor="middle" y="6.9">25</text><text class="ct" transform="translate(467,104) rotate(-5)" text-anchor="middle" y="6.9">25</text><text class="ct" transform="translate(532.5,119) rotate(-82)" text-anchor="middle" y="6.9">25</text><text class="ct" transform="translate(766,96.3) rotate(0)" text-anchor="middle" y="6.9">25</text><text class="ct" transform="translate(838.9,125.8) rotate(-72)" text-anchor="middle" y="6.9">25</text><text class="ct" transform="translate(877.5,87.5) rotate(-75)" text-anchor="middle" y="6.9">25</text><text class="ct" transform="translate(186.5,154) rotate(-72)" text-anchor="middle" y="6.9">26</text><text class="ct" transform="translate(254.8,223.5) rotate(-82)" text-anchor="middle" y="6.9">26</text><text class="ct" transform="translate(327.5,226.5) rotate(-62)" text-anchor="middle" y="6.9">26</text><text class="ct" transform="translate(443.4,201.2) rotate(10)" text-anchor="middle" y="6.9">26</text><text class="ct" transform="translate(509,177) rotate(30)" text-anchor="middle" y="6.9">26</text><text class="ct" transform="translate(577.5,187.5) rotate(0)" text-anchor="middle" y="6.9">26</text><text class="ct" transform="translate(788.6,148.5) rotate(-75)" text-anchor="middle" y="6.9">26</text><text class="ct" transform="translate(838,218) rotate(-75)" text-anchor="middle" y="6.9">26</text><text class="ct" transform="translate(875.6,172) rotate(-82)" text-anchor="middle" y="6.9">26</text><text class="ct" transform="translate(924.8,138) rotate(55)" text-anchor="middle" y="6.9">26</text><text class="ct" transform="translate(303,92) rotate(-75)" text-anchor="middle" y="6.9">24</text><g stroke="#1a1a1a" stroke-width="1"><rect x="369.5" y="64.5" width="32.0" height="715.0" fill="#cbcbcb"/><rect x="606.5" y="64.5" width="38.0" height="715.0" fill="#cbcbcb"/><rect x="670.5" y="64.5" width="78.0" height="715.0" fill="#cbcbcb"/></g><circle cx="278" cy="778.0" r="4" fill="#000"/>
<g stroke="#262626" stroke-width="1" fill="none"><path d="M152.5 136.5h8M964.5 136.5h-8"/><path d="M152.5 207.5h8M964.5 207.5h-8"/><path d="M152.5 279.5h8M964.5 279.5h-8"/><path d="M152.5 350.5h8M964.5 350.5h-8"/><path d="M152.5 422.5h8M964.5 422.5h-8"/><path d="M152.5 493.5h8M964.5 493.5h-8"/><path d="M152.5 565.5h8M964.5 565.5h-8"/><path d="M152.5 636.5h8M964.5 636.5h-8"/><path d="M152.5 708.5h8M964.5 708.5h-8"/><path d="M161.5 779.5v-8M161.5 64.5v8"/><path d="M234.5 779.5v-8M234.5 64.5v8"/><path d="M307.5 779.5v-8M307.5 64.5v8"/><path d="M380.5 779.5v-8M380.5 64.5v8"/><path d="M453.5 779.5v-8M453.5 64.5v8"/><path d="M526.5 779.5v-8M526.5 64.5v8"/><path d="M599.5 779.5v-8M599.5 64.5v8"/><path d="M672.5 779.5v-8M672.5 64.5v8"/><path d="M745.5 779.5v-8M745.5 64.5v8"/><path d="M818.5 779.5v-8M818.5 64.5v8"/><path d="M891.5 779.5v-8M891.5 64.5v8"/><rect x="152.5" y="64.5" width="812.0" height="715.0"/></g>
<text class="tk" transform="translate(142.7,73.8) scale(1.04,1)" text-anchor="end">0</text>
<text class="tk" transform="translate(142.7,145.3) scale(1.04,1)" text-anchor="end">50</text>
<text class="tk" transform="translate(142.7,216.8) scale(1.04,1)" text-anchor="end">100</text>
<text class="tk" transform="translate(142.7,288.3) scale(1.04,1)" text-anchor="end">150</text>
<text class="tk" transform="translate(142.7,359.8) scale(1.04,1)" text-anchor="end">200</text>
<text class="tk" transform="translate(142.7,431.3) scale(1.04,1)" text-anchor="end">250</text>
<text class="tk" transform="translate(142.7,502.8) scale(1.04,1)" text-anchor="end">300</text>
<text class="tk" transform="translate(142.7,574.3) scale(1.04,1)" text-anchor="end">350</text>
<text class="tk" transform="translate(142.7,645.8) scale(1.04,1)" text-anchor="end">400</text>
<text class="tk" transform="translate(142.7,717.3) scale(1.04,1)" text-anchor="end">450</text>
<text class="tk" transform="translate(142.7,788.8) scale(1.04,1)" text-anchor="end">500</text>
<text class="tk" transform="translate(170.9,805.0) rotate(-33) scale(1.03,1)" text-anchor="end" y="9.5">2015</text>
<text class="tk" transform="translate(243.9,805.0) rotate(-33) scale(1.03,1)" text-anchor="end" y="9.5">2016</text>
<text class="tk" transform="translate(316.9,805.0) rotate(-33) scale(1.03,1)" text-anchor="end" y="9.5">2017</text>
<text class="tk" transform="translate(389.9,805.0) rotate(-33) scale(1.03,1)" text-anchor="end" y="9.5">2018</text>
<text class="tk" transform="translate(462.9,805.0) rotate(-33) scale(1.03,1)" text-anchor="end" y="9.5">2019</text>
<text class="tk" transform="translate(535.9,805.0) rotate(-33) scale(1.03,1)" text-anchor="end" y="9.5">2020</text>
<text class="tk" transform="translate(609.0,805.0) rotate(-33) scale(1.03,1)" text-anchor="end" y="9.5">2021</text>
<text class="tk" transform="translate(682.0,805.0) rotate(-33) scale(1.03,1)" text-anchor="end" y="9.5">2022</text>
<text class="tk" transform="translate(755.0,805.0) rotate(-33) scale(1.03,1)" text-anchor="end" y="9.5">2023</text>
<text class="tk" transform="translate(828.0,805.0) rotate(-33) scale(1.03,1)" text-anchor="end" y="9.5">2024</text>
<text class="tk" transform="translate(901.0,805.0) rotate(-33) scale(1.03,1)" text-anchor="end" y="9.5">2025</text>
<text class="tk" transform="translate(974.0,805.0) rotate(-33) scale(1.03,1)" text-anchor="end" y="9.5">2026</text>
<text class="ttl" transform="translate(559.3,47.8) scale(1.03,1)" text-anchor="middle">Trinidad Head Line , 0 - 100 km</text>
<text class="lb" transform="translate(71.1,422.0) rotate(-90) scale(1.03,1)" text-anchor="middle">Depth (m)</text>
<rect x="1010.5" y="749.71" width="27.0" height="29.79" fill="#3e26a8"/><rect x="1010.5" y="719.92" width="27.0" height="29.79" fill="#4331c7"/><rect x="1010.5" y="690.12" width="27.0" height="29.79" fill="#463de0"/><rect x="1010.5" y="660.33" width="27.0" height="29.79" fill="#484cef"/><rect x="1010.5" y="630.54" width="27.0" height="29.79" fill="#475bf9"/><rect x="1010.5" y="600.75" width="27.0" height="29.79" fill="#426afe"/><rect x="1010.5" y="570.96" width="27.0" height="29.79" fill="#347afd"/><rect x="1010.5" y="541.17" width="27.0" height="29.79" fill="#2d89f5"/><rect x="1010.5" y="511.38" width="27.0" height="29.79" fill="#2797eb"/><rect x="1010.5" y="481.58" width="27.0" height="29.79" fill="#21a3e3"/><rect x="1010.5" y="451.79" width="27.0" height="29.79" fill="#17aeda"/><rect x="1010.5" y="422.00" width="27.0" height="29.79" fill="#02b7cb"/><rect x="1010.5" y="392.21" width="27.0" height="29.79" fill="#12beb9"/><rect x="1010.5" y="362.42" width="27.0" height="29.79" fill="#2cc4a6"/><rect x="1010.5" y="332.62" width="27.0" height="29.79" fill="#3dc990"/><rect x="1010.5" y="302.83" width="27.0" height="29.79" fill="#5ccc76"/><rect x="1010.5" y="273.04" width="27.0" height="29.79" fill="#81cc59"/><rect x="1010.5" y="243.25" width="27.0" height="29.79" fill="#a6c83c"/><rect x="1010.5" y="213.46" width="27.0" height="29.79" fill="#c8c129"/><rect x="1010.5" y="183.67" width="27.0" height="29.79" fill="#e5bb2d"/><rect x="1010.5" y="153.88" width="27.0" height="29.79" fill="#fbbc3d"/><rect x="1010.5" y="124.08" width="27.0" height="29.79" fill="#feca33"/><rect x="1010.5" y="94.29" width="27.0" height="29.79" fill="#f7db2b"/><rect x="1010.5" y="64.50" width="27.0" height="29.79" fill="#f5eb23"/><g stroke="#000" stroke-width="1" fill="none"><path d="M1010.5 749.71H1037.5"/><path d="M1010.5 719.92H1037.5"/><path d="M1010.5 690.12H1037.5"/><path d="M1010.5 660.33H1037.5"/><path d="M1010.5 630.54H1037.5"/><path d="M1010.5 600.75H1037.5"/><path d="M1010.5 570.96H1037.5"/><path d="M1010.5 541.17H1037.5"/><path d="M1010.5 511.38H1037.5"/><path d="M1010.5 481.58H1037.5"/><path d="M1010.5 451.79H1037.5"/><path d="M1010.5 422.00H1037.5"/><path d="M1010.5 392.21H1037.5"/><path d="M1010.5 362.42H1037.5"/><path d="M1010.5 332.62H1037.5"/><path d="M1010.5 302.83H1037.5"/><path d="M1010.5 273.04H1037.5"/><path d="M1010.5 243.25H1037.5"/><path d="M1010.5 213.46H1037.5"/><path d="M1010.5 183.67H1037.5"/><path d="M1010.5 153.88H1037.5"/><path d="M1010.5 124.08H1037.5"/><path d="M1010.5 94.29H1037.5"/><rect x="1010.5" y="64.5" width="27.0" height="715.0" stroke="#262626"/></g>
<text class="cb" transform="translate(1042.0,787.3) scale(1.03,1)">-1</text>
<text class="cb" transform="translate(1042.0,668.1) scale(1.03,1)">0</text>
<text class="cb" transform="translate(1042.0,549.0) scale(1.03,1)">1</text>
<text class="cb" transform="translate(1042.0,429.8) scale(1.03,1)">2</text>
<text class="cb" transform="translate(1042.0,310.6) scale(1.03,1)">3</text>
<text class="cb" transform="translate(1042.0,191.5) scale(1.03,1)">4</text>
<text class="cb" transform="translate(1042.0,72.3) scale(1.03,1)">5</text>
<text class="cl" transform="translate(1092,422.0) rotate(-90) scale(1.03,1)" text-anchor="middle">cdom</text>
</svg></body></html>
